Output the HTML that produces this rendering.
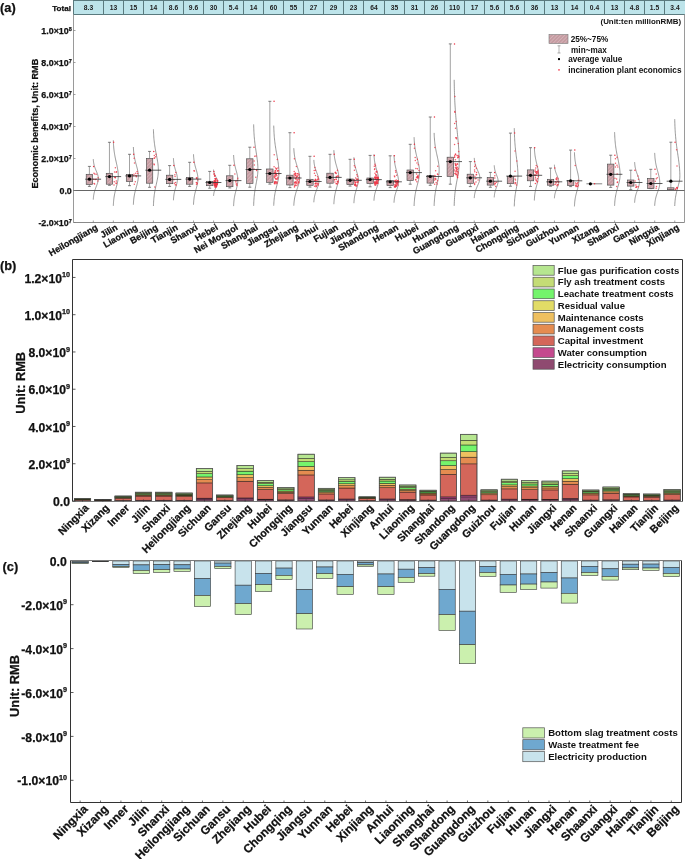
<!DOCTYPE html>
<html><head><meta charset="utf-8"><title>figure</title>
<style>html,body{margin:0;padding:0;background:#fff;overflow:hidden}svg{display:block;will-change:transform}svg text{stroke:#111;stroke-width:0.25px}</style>
</head><body>
<svg width="685" height="859" viewBox="0 0 685 859">
<rect width="685" height="859" fill="#fff"/>
<defs>
<pattern id="hatch" patternUnits="userSpaceOnUse" width="2.6" height="2.6" patternTransform="rotate(45)"><rect width="2.6" height="2.6" fill="#c59ba1"/><line x1="0" y1="0" x2="0" y2="2.6" stroke="#e2c8cc" stroke-width="0.9"/></pattern>
</defs>
<rect x="73.5" y="0.5" width="612.5" height="14.0" fill="#bde4ea" stroke="#5a7a7e" stroke-width="1"/>
<line x1="103.50" y1="0" x2="103.50" y2="14.5" stroke="#5a7a7e" stroke-width="1"/>
<line x1="123.50" y1="0" x2="123.50" y2="14.5" stroke="#5a7a7e" stroke-width="1"/>
<line x1="143.50" y1="0" x2="143.50" y2="14.5" stroke="#5a7a7e" stroke-width="1"/>
<line x1="163.50" y1="0" x2="163.50" y2="14.5" stroke="#5a7a7e" stroke-width="1"/>
<line x1="183.50" y1="0" x2="183.50" y2="14.5" stroke="#5a7a7e" stroke-width="1"/>
<line x1="203.50" y1="0" x2="203.50" y2="14.5" stroke="#5a7a7e" stroke-width="1"/>
<line x1="223.50" y1="0" x2="223.50" y2="14.5" stroke="#5a7a7e" stroke-width="1"/>
<line x1="243.50" y1="0" x2="243.50" y2="14.5" stroke="#5a7a7e" stroke-width="1"/>
<line x1="263.50" y1="0" x2="263.50" y2="14.5" stroke="#5a7a7e" stroke-width="1"/>
<line x1="283.50" y1="0" x2="283.50" y2="14.5" stroke="#5a7a7e" stroke-width="1"/>
<line x1="303.50" y1="0" x2="303.50" y2="14.5" stroke="#5a7a7e" stroke-width="1"/>
<line x1="323.50" y1="0" x2="323.50" y2="14.5" stroke="#5a7a7e" stroke-width="1"/>
<line x1="343.50" y1="0" x2="343.50" y2="14.5" stroke="#5a7a7e" stroke-width="1"/>
<line x1="363.50" y1="0" x2="363.50" y2="14.5" stroke="#5a7a7e" stroke-width="1"/>
<line x1="384.50" y1="0" x2="384.50" y2="14.5" stroke="#5a7a7e" stroke-width="1"/>
<line x1="404.50" y1="0" x2="404.50" y2="14.5" stroke="#5a7a7e" stroke-width="1"/>
<line x1="424.50" y1="0" x2="424.50" y2="14.5" stroke="#5a7a7e" stroke-width="1"/>
<line x1="444.50" y1="0" x2="444.50" y2="14.5" stroke="#5a7a7e" stroke-width="1"/>
<line x1="464.50" y1="0" x2="464.50" y2="14.5" stroke="#5a7a7e" stroke-width="1"/>
<line x1="484.50" y1="0" x2="484.50" y2="14.5" stroke="#5a7a7e" stroke-width="1"/>
<line x1="504.50" y1="0" x2="504.50" y2="14.5" stroke="#5a7a7e" stroke-width="1"/>
<line x1="524.50" y1="0" x2="524.50" y2="14.5" stroke="#5a7a7e" stroke-width="1"/>
<line x1="544.50" y1="0" x2="544.50" y2="14.5" stroke="#5a7a7e" stroke-width="1"/>
<line x1="564.50" y1="0" x2="564.50" y2="14.5" stroke="#5a7a7e" stroke-width="1"/>
<line x1="584.50" y1="0" x2="584.50" y2="14.5" stroke="#5a7a7e" stroke-width="1"/>
<line x1="604.50" y1="0" x2="604.50" y2="14.5" stroke="#5a7a7e" stroke-width="1"/>
<line x1="624.50" y1="0" x2="624.50" y2="14.5" stroke="#5a7a7e" stroke-width="1"/>
<line x1="644.50" y1="0" x2="644.50" y2="14.5" stroke="#5a7a7e" stroke-width="1"/>
<line x1="664.50" y1="0" x2="664.50" y2="14.5" stroke="#5a7a7e" stroke-width="1"/>
<text x="88.50" y="9.8" font-size="6.7" font-weight="bold" text-anchor="middle" fill="#222" style="stroke:none" font-family="Liberation Sans, sans-serif">8.3</text>
<text x="113.50" y="9.8" font-size="6.7" font-weight="bold" text-anchor="middle" fill="#222" style="stroke:none" font-family="Liberation Sans, sans-serif">13</text>
<text x="133.50" y="9.8" font-size="6.7" font-weight="bold" text-anchor="middle" fill="#222" style="stroke:none" font-family="Liberation Sans, sans-serif">15</text>
<text x="153.50" y="9.8" font-size="6.7" font-weight="bold" text-anchor="middle" fill="#222" style="stroke:none" font-family="Liberation Sans, sans-serif">14</text>
<text x="173.50" y="9.8" font-size="6.7" font-weight="bold" text-anchor="middle" fill="#222" style="stroke:none" font-family="Liberation Sans, sans-serif">8.6</text>
<text x="193.50" y="9.8" font-size="6.7" font-weight="bold" text-anchor="middle" fill="#222" style="stroke:none" font-family="Liberation Sans, sans-serif">9.6</text>
<text x="213.50" y="9.8" font-size="6.7" font-weight="bold" text-anchor="middle" fill="#222" style="stroke:none" font-family="Liberation Sans, sans-serif">30</text>
<text x="233.50" y="9.8" font-size="6.7" font-weight="bold" text-anchor="middle" fill="#222" style="stroke:none" font-family="Liberation Sans, sans-serif">5.4</text>
<text x="253.50" y="9.8" font-size="6.7" font-weight="bold" text-anchor="middle" fill="#222" style="stroke:none" font-family="Liberation Sans, sans-serif">14</text>
<text x="273.50" y="9.8" font-size="6.7" font-weight="bold" text-anchor="middle" fill="#222" style="stroke:none" font-family="Liberation Sans, sans-serif">60</text>
<text x="293.50" y="9.8" font-size="6.7" font-weight="bold" text-anchor="middle" fill="#222" style="stroke:none" font-family="Liberation Sans, sans-serif">55</text>
<text x="313.50" y="9.8" font-size="6.7" font-weight="bold" text-anchor="middle" fill="#222" style="stroke:none" font-family="Liberation Sans, sans-serif">27</text>
<text x="333.50" y="9.8" font-size="6.7" font-weight="bold" text-anchor="middle" fill="#222" style="stroke:none" font-family="Liberation Sans, sans-serif">29</text>
<text x="353.50" y="9.8" font-size="6.7" font-weight="bold" text-anchor="middle" fill="#222" style="stroke:none" font-family="Liberation Sans, sans-serif">23</text>
<text x="374.00" y="9.8" font-size="6.7" font-weight="bold" text-anchor="middle" fill="#222" style="stroke:none" font-family="Liberation Sans, sans-serif">64</text>
<text x="394.50" y="9.8" font-size="6.7" font-weight="bold" text-anchor="middle" fill="#222" style="stroke:none" font-family="Liberation Sans, sans-serif">35</text>
<text x="414.50" y="9.8" font-size="6.7" font-weight="bold" text-anchor="middle" fill="#222" style="stroke:none" font-family="Liberation Sans, sans-serif">31</text>
<text x="434.50" y="9.8" font-size="6.7" font-weight="bold" text-anchor="middle" fill="#222" style="stroke:none" font-family="Liberation Sans, sans-serif">26</text>
<text x="454.50" y="9.8" font-size="6.7" font-weight="bold" text-anchor="middle" fill="#222" style="stroke:none" font-family="Liberation Sans, sans-serif">110</text>
<text x="474.50" y="9.8" font-size="6.7" font-weight="bold" text-anchor="middle" fill="#222" style="stroke:none" font-family="Liberation Sans, sans-serif">17</text>
<text x="494.50" y="9.8" font-size="6.7" font-weight="bold" text-anchor="middle" fill="#222" style="stroke:none" font-family="Liberation Sans, sans-serif">5.6</text>
<text x="514.50" y="9.8" font-size="6.7" font-weight="bold" text-anchor="middle" fill="#222" style="stroke:none" font-family="Liberation Sans, sans-serif">5.6</text>
<text x="534.50" y="9.8" font-size="6.7" font-weight="bold" text-anchor="middle" fill="#222" style="stroke:none" font-family="Liberation Sans, sans-serif">36</text>
<text x="554.50" y="9.8" font-size="6.7" font-weight="bold" text-anchor="middle" fill="#222" style="stroke:none" font-family="Liberation Sans, sans-serif">13</text>
<text x="574.50" y="9.8" font-size="6.7" font-weight="bold" text-anchor="middle" fill="#222" style="stroke:none" font-family="Liberation Sans, sans-serif">14</text>
<text x="594.50" y="9.8" font-size="6.7" font-weight="bold" text-anchor="middle" fill="#222" style="stroke:none" font-family="Liberation Sans, sans-serif">0.4</text>
<text x="614.50" y="9.8" font-size="6.7" font-weight="bold" text-anchor="middle" fill="#222" style="stroke:none" font-family="Liberation Sans, sans-serif">13</text>
<text x="634.50" y="9.8" font-size="6.7" font-weight="bold" text-anchor="middle" fill="#222" style="stroke:none" font-family="Liberation Sans, sans-serif">4.8</text>
<text x="654.50" y="9.8" font-size="6.7" font-weight="bold" text-anchor="middle" fill="#222" style="stroke:none" font-family="Liberation Sans, sans-serif">1.5</text>
<text x="675.00" y="9.8" font-size="6.7" font-weight="bold" text-anchor="middle" fill="#222" style="stroke:none" font-family="Liberation Sans, sans-serif">3.4</text>
<text x="71" y="10.6" font-size="8.1" font-weight="bold" text-anchor="end" fill="#111" font-family="Liberation Sans, sans-serif">Total</text>
<line x1="73.5" y1="14.5" x2="73.5" y2="222.5" stroke="#9a9a9a" stroke-width="1"/>
<line x1="684.5" y1="14.5" x2="684.5" y2="222.5" stroke="#9a9a9a" stroke-width="1"/>
<line x1="73.5" y1="222.5" x2="684.5" y2="222.5" stroke="#8a8a8a" stroke-width="1"/>
<line x1="73.5" y1="190.5" x2="684.5" y2="190.5" stroke="#555" stroke-width="0.9"/>
<line x1="73.5" y1="30.50" x2="75.5" y2="30.50" stroke="#777" stroke-width="0.7"/>
<text x="71.8" y="34.20" font-size="8.9" font-weight="bold" text-anchor="end" fill="#111" font-family="Liberation Sans, sans-serif">1.0×10<tspan font-size="5.5" dy="-3.4">8</tspan></text>
<line x1="73.5" y1="62.50" x2="75.5" y2="62.50" stroke="#777" stroke-width="0.7"/>
<text x="71.8" y="66.20" font-size="8.9" font-weight="bold" text-anchor="end" fill="#111" font-family="Liberation Sans, sans-serif">8.0×10<tspan font-size="5.5" dy="-3.4">7</tspan></text>
<line x1="73.5" y1="94.50" x2="75.5" y2="94.50" stroke="#777" stroke-width="0.7"/>
<text x="71.8" y="98.20" font-size="8.9" font-weight="bold" text-anchor="end" fill="#111" font-family="Liberation Sans, sans-serif">6.0×10<tspan font-size="5.5" dy="-3.4">7</tspan></text>
<line x1="73.5" y1="126.50" x2="75.5" y2="126.50" stroke="#777" stroke-width="0.7"/>
<text x="71.8" y="130.20" font-size="8.9" font-weight="bold" text-anchor="end" fill="#111" font-family="Liberation Sans, sans-serif">4.0×10<tspan font-size="5.5" dy="-3.4">7</tspan></text>
<line x1="73.5" y1="158.50" x2="75.5" y2="158.50" stroke="#777" stroke-width="0.7"/>
<text x="71.8" y="162.20" font-size="8.9" font-weight="bold" text-anchor="end" fill="#111" font-family="Liberation Sans, sans-serif">2.0×10<tspan font-size="5.5" dy="-3.4">7</tspan></text>
<line x1="73.5" y1="190.50" x2="75.5" y2="190.50" stroke="#777" stroke-width="0.7"/>
<text x="71.8" y="194.20" font-size="8.9" font-weight="bold" text-anchor="end" fill="#111" font-family="Liberation Sans, sans-serif">0.0</text>
<line x1="73.5" y1="222.50" x2="75.5" y2="222.50" stroke="#777" stroke-width="0.7"/>
<text x="71.8" y="226.20" font-size="8.9" font-weight="bold" text-anchor="end" fill="#111" font-family="Liberation Sans, sans-serif">-2.0×10<tspan font-size="5.5" dy="-3.4">7</tspan></text>
<text transform="translate(38.2,123.7) rotate(-90)" font-size="9.1" font-weight="bold" text-anchor="middle" fill="#111" font-family="Liberation Sans, sans-serif">Economic benefits, Unit: RMB</text>
<line x1="93.30" y1="222.5" x2="93.30" y2="220.5" stroke="#777" stroke-width="0.7"/>
<text transform="translate(98.30,229.10) rotate(-30)" font-size="9.1" font-weight="bold" text-anchor="end" fill="#111" font-family="Liberation Sans, sans-serif">Heilongjiang</text>
<line x1="113.35" y1="222.5" x2="113.35" y2="220.5" stroke="#777" stroke-width="0.7"/>
<text transform="translate(118.35,229.10) rotate(-30)" font-size="9.1" font-weight="bold" text-anchor="end" fill="#111" font-family="Liberation Sans, sans-serif">Jilin</text>
<line x1="133.40" y1="222.5" x2="133.40" y2="220.5" stroke="#777" stroke-width="0.7"/>
<text transform="translate(138.40,229.10) rotate(-30)" font-size="9.1" font-weight="bold" text-anchor="end" fill="#111" font-family="Liberation Sans, sans-serif">Liaoning</text>
<line x1="153.45" y1="222.5" x2="153.45" y2="220.5" stroke="#777" stroke-width="0.7"/>
<text transform="translate(158.45,229.10) rotate(-30)" font-size="9.1" font-weight="bold" text-anchor="end" fill="#111" font-family="Liberation Sans, sans-serif">Beijing</text>
<line x1="173.50" y1="222.5" x2="173.50" y2="220.5" stroke="#777" stroke-width="0.7"/>
<text transform="translate(178.50,229.10) rotate(-30)" font-size="9.1" font-weight="bold" text-anchor="end" fill="#111" font-family="Liberation Sans, sans-serif">Tianjin</text>
<line x1="193.55" y1="222.5" x2="193.55" y2="220.5" stroke="#777" stroke-width="0.7"/>
<text transform="translate(198.55,229.10) rotate(-30)" font-size="9.1" font-weight="bold" text-anchor="end" fill="#111" font-family="Liberation Sans, sans-serif">Shanxi</text>
<line x1="213.60" y1="222.5" x2="213.60" y2="220.5" stroke="#777" stroke-width="0.7"/>
<text transform="translate(218.60,229.10) rotate(-30)" font-size="9.1" font-weight="bold" text-anchor="end" fill="#111" font-family="Liberation Sans, sans-serif">Hebei</text>
<line x1="233.65" y1="222.5" x2="233.65" y2="220.5" stroke="#777" stroke-width="0.7"/>
<text transform="translate(238.65,229.10) rotate(-30)" font-size="9.1" font-weight="bold" text-anchor="end" fill="#111" font-family="Liberation Sans, sans-serif">Nei Mongol</text>
<line x1="253.70" y1="222.5" x2="253.70" y2="220.5" stroke="#777" stroke-width="0.7"/>
<text transform="translate(258.70,229.10) rotate(-30)" font-size="9.1" font-weight="bold" text-anchor="end" fill="#111" font-family="Liberation Sans, sans-serif">Shanghai</text>
<line x1="273.75" y1="222.5" x2="273.75" y2="220.5" stroke="#777" stroke-width="0.7"/>
<text transform="translate(278.75,229.10) rotate(-30)" font-size="9.1" font-weight="bold" text-anchor="end" fill="#111" font-family="Liberation Sans, sans-serif">Jiangsu</text>
<line x1="293.80" y1="222.5" x2="293.80" y2="220.5" stroke="#777" stroke-width="0.7"/>
<text transform="translate(298.80,229.10) rotate(-30)" font-size="9.1" font-weight="bold" text-anchor="end" fill="#111" font-family="Liberation Sans, sans-serif">Zhejiang</text>
<line x1="313.85" y1="222.5" x2="313.85" y2="220.5" stroke="#777" stroke-width="0.7"/>
<text transform="translate(318.85,229.10) rotate(-30)" font-size="9.1" font-weight="bold" text-anchor="end" fill="#111" font-family="Liberation Sans, sans-serif">Anhui</text>
<line x1="333.90" y1="222.5" x2="333.90" y2="220.5" stroke="#777" stroke-width="0.7"/>
<text transform="translate(338.90,229.10) rotate(-30)" font-size="9.1" font-weight="bold" text-anchor="end" fill="#111" font-family="Liberation Sans, sans-serif">Fujian</text>
<line x1="353.95" y1="222.5" x2="353.95" y2="220.5" stroke="#777" stroke-width="0.7"/>
<text transform="translate(358.95,229.10) rotate(-30)" font-size="9.1" font-weight="bold" text-anchor="end" fill="#111" font-family="Liberation Sans, sans-serif">Jiangxi</text>
<line x1="374.00" y1="222.5" x2="374.00" y2="220.5" stroke="#777" stroke-width="0.7"/>
<text transform="translate(379.00,229.10) rotate(-30)" font-size="9.1" font-weight="bold" text-anchor="end" fill="#111" font-family="Liberation Sans, sans-serif">Shandong</text>
<line x1="394.05" y1="222.5" x2="394.05" y2="220.5" stroke="#777" stroke-width="0.7"/>
<text transform="translate(399.05,229.10) rotate(-30)" font-size="9.1" font-weight="bold" text-anchor="end" fill="#111" font-family="Liberation Sans, sans-serif">Henan</text>
<line x1="414.10" y1="222.5" x2="414.10" y2="220.5" stroke="#777" stroke-width="0.7"/>
<text transform="translate(419.10,229.10) rotate(-30)" font-size="9.1" font-weight="bold" text-anchor="end" fill="#111" font-family="Liberation Sans, sans-serif">Hubei</text>
<line x1="434.15" y1="222.5" x2="434.15" y2="220.5" stroke="#777" stroke-width="0.7"/>
<text transform="translate(439.15,229.10) rotate(-30)" font-size="9.1" font-weight="bold" text-anchor="end" fill="#111" font-family="Liberation Sans, sans-serif">Hunan</text>
<line x1="454.20" y1="222.5" x2="454.20" y2="220.5" stroke="#777" stroke-width="0.7"/>
<text transform="translate(459.20,229.10) rotate(-30)" font-size="9.1" font-weight="bold" text-anchor="end" fill="#111" font-family="Liberation Sans, sans-serif">Guangdong</text>
<line x1="474.25" y1="222.5" x2="474.25" y2="220.5" stroke="#777" stroke-width="0.7"/>
<text transform="translate(479.25,229.10) rotate(-30)" font-size="9.1" font-weight="bold" text-anchor="end" fill="#111" font-family="Liberation Sans, sans-serif">Guangxi</text>
<line x1="494.30" y1="222.5" x2="494.30" y2="220.5" stroke="#777" stroke-width="0.7"/>
<text transform="translate(499.30,229.10) rotate(-30)" font-size="9.1" font-weight="bold" text-anchor="end" fill="#111" font-family="Liberation Sans, sans-serif">Hainan</text>
<line x1="514.35" y1="222.5" x2="514.35" y2="220.5" stroke="#777" stroke-width="0.7"/>
<text transform="translate(519.35,229.10) rotate(-30)" font-size="9.1" font-weight="bold" text-anchor="end" fill="#111" font-family="Liberation Sans, sans-serif">Chongqing</text>
<line x1="534.40" y1="222.5" x2="534.40" y2="220.5" stroke="#777" stroke-width="0.7"/>
<text transform="translate(539.40,229.10) rotate(-30)" font-size="9.1" font-weight="bold" text-anchor="end" fill="#111" font-family="Liberation Sans, sans-serif">Sichuan</text>
<line x1="554.45" y1="222.5" x2="554.45" y2="220.5" stroke="#777" stroke-width="0.7"/>
<text transform="translate(559.45,229.10) rotate(-30)" font-size="9.1" font-weight="bold" text-anchor="end" fill="#111" font-family="Liberation Sans, sans-serif">Guizhou</text>
<line x1="574.50" y1="222.5" x2="574.50" y2="220.5" stroke="#777" stroke-width="0.7"/>
<text transform="translate(579.50,229.10) rotate(-30)" font-size="9.1" font-weight="bold" text-anchor="end" fill="#111" font-family="Liberation Sans, sans-serif">Yunnan</text>
<line x1="594.55" y1="222.5" x2="594.55" y2="220.5" stroke="#777" stroke-width="0.7"/>
<text transform="translate(599.55,229.10) rotate(-30)" font-size="9.1" font-weight="bold" text-anchor="end" fill="#111" font-family="Liberation Sans, sans-serif">Xizang</text>
<line x1="614.60" y1="222.5" x2="614.60" y2="220.5" stroke="#777" stroke-width="0.7"/>
<text transform="translate(619.60,229.10) rotate(-30)" font-size="9.1" font-weight="bold" text-anchor="end" fill="#111" font-family="Liberation Sans, sans-serif">Shaanxi</text>
<line x1="634.65" y1="222.5" x2="634.65" y2="220.5" stroke="#777" stroke-width="0.7"/>
<text transform="translate(639.65,229.10) rotate(-30)" font-size="9.1" font-weight="bold" text-anchor="end" fill="#111" font-family="Liberation Sans, sans-serif">Gansu</text>
<line x1="654.70" y1="222.5" x2="654.70" y2="220.5" stroke="#777" stroke-width="0.7"/>
<text transform="translate(659.70,229.10) rotate(-30)" font-size="9.1" font-weight="bold" text-anchor="end" fill="#111" font-family="Liberation Sans, sans-serif">Ningxia</text>
<line x1="674.75" y1="222.5" x2="674.75" y2="220.5" stroke="#777" stroke-width="0.7"/>
<text transform="translate(679.75,229.10) rotate(-30)" font-size="9.1" font-weight="bold" text-anchor="end" fill="#111" font-family="Liberation Sans, sans-serif">Xinjiang</text>
<path d="M93.28,159.10 L93.32,159.78 L93.38,160.45 L93.45,161.12 L93.53,161.80 L93.62,162.47 L93.73,163.15 L93.86,163.82 L94.00,164.50 L94.16,165.17 L94.35,165.85 L94.55,166.53 L94.77,167.20 L95.00,167.88 L95.26,168.55 L95.52,169.22 L95.80,169.90 L96.08,170.57 L96.37,171.25 L96.65,171.92 L96.93,172.60 L97.20,173.28 L97.44,173.95 L97.67,174.62 L97.87,175.30 L98.03,175.97 L98.16,176.65 L98.25,177.32 L98.29,178.00 L98.30,178.67 L98.26,179.35 L98.20,180.03 L98.10,180.70 L97.97,181.38 L97.80,182.05 L97.62,182.72 L97.41,183.40 L97.18,184.07 L96.94,184.75 L96.69,185.42 L96.43,186.10 L96.17,186.78 L95.91,187.45 L95.65,188.12 L95.41,188.80 L95.17,189.47 L94.94,190.15 L94.73,190.82 L94.53,191.50 L94.35,192.18 L94.18,192.85 L94.03,193.52 L93.90,194.20 L93.78,194.88 L93.67,195.55 L93.58,196.22 L93.50,196.90 L93.43,197.57 L93.37,198.25 L93.32,198.93 L93.28,199.60" fill="none" stroke="#555" stroke-width="0.6"/>
<line x1="89.40" y1="166.4" x2="89.40" y2="174.3" stroke="#999" stroke-width="0.9"/>
<line x1="89.40" y1="184.5" x2="89.40" y2="186.4" stroke="#999" stroke-width="0.9"/>
<line x1="87.90" y1="166.4" x2="90.90" y2="166.4" stroke="#555" stroke-width="0.75"/>
<line x1="87.90" y1="186.4" x2="90.90" y2="186.4" stroke="#555" stroke-width="0.75"/>
<rect x="86.20" y="174.3" width="6.40" height="10.20" fill="url(#hatch)" stroke="#4a4a4a" stroke-width="0.65"/>
<circle cx="96.17" cy="174.33" r="0.75" fill="#ee3344" fill-opacity="0.8"/>
<circle cx="95.28" cy="179.62" r="0.75" fill="#ee3344" fill-opacity="0.8"/>
<circle cx="93.77" cy="179.23" r="0.75" fill="#ee3344" fill-opacity="0.8"/>
<circle cx="93.92" cy="173.22" r="0.75" fill="#ee3344" fill-opacity="0.8"/>
<circle cx="94.06" cy="183.62" r="0.75" fill="#ee3344" fill-opacity="0.8"/>
<circle cx="97.79" cy="180.88" r="0.75" fill="#ee3344" fill-opacity="0.8"/>
<circle cx="98.11" cy="177.71" r="0.75" fill="#ee3344" fill-opacity="0.8"/>
<circle cx="94.64" cy="184.06" r="0.75" fill="#ee3344" fill-opacity="0.8"/>
<circle cx="94.77" cy="173.88" r="0.75" fill="#ee3344" fill-opacity="0.8"/>
<circle cx="96.13" cy="179.18" r="0.75" fill="#ee3344" fill-opacity="0.8"/>
<circle cx="93.60" cy="166.40" r="0.75" fill="#ee3344"/>
<line x1="85.20" y1="179.2" x2="101.10" y2="179.2" stroke="#333" stroke-width="0.8"/>
<circle cx="89.40" cy="179.2" r="1.6" fill="#000"/>
<path d="M113.32,140.30 L113.36,141.39 L113.41,142.48 L113.46,143.58 L113.53,144.67 L113.60,145.76 L113.69,146.85 L113.78,147.94 L113.89,149.03 L114.01,150.12 L114.15,151.22 L114.30,152.31 L114.47,153.40 L114.65,154.49 L114.84,155.58 L115.04,156.68 L115.26,157.77 L115.49,158.86 L115.73,159.95 L115.97,161.04 L116.21,162.13 L116.46,163.23 L116.70,164.32 L116.94,165.41 L117.16,166.50 L117.38,167.59 L117.57,168.68 L117.75,169.78 L117.91,170.87 L118.03,171.96 L118.13,173.05 L118.20,174.14 L118.24,175.23 L118.25,176.33 L118.21,177.42 L118.13,178.51 L118.00,179.60 L117.84,180.69 L117.64,181.78 L117.41,182.88 L117.16,183.97 L116.88,185.06 L116.60,186.15 L116.30,187.24 L116.01,188.33 L115.72,189.43 L115.44,190.52 L115.17,191.61 L114.91,192.70 L114.68,193.79 L114.46,194.88 L114.27,195.98 L114.09,197.07 L113.94,198.16 L113.80,199.25 L113.68,200.34 L113.58,201.43 L113.50,202.53 L113.43,203.62 L113.37,204.71 L113.32,205.80" fill="none" stroke="#555" stroke-width="0.6"/>
<line x1="109.45" y1="142.3" x2="109.45" y2="173.3" stroke="#999" stroke-width="0.9"/>
<line x1="109.45" y1="184.2" x2="109.45" y2="185.3" stroke="#999" stroke-width="0.9"/>
<line x1="107.95" y1="142.3" x2="110.95" y2="142.3" stroke="#555" stroke-width="0.75"/>
<line x1="107.95" y1="185.3" x2="110.95" y2="185.3" stroke="#555" stroke-width="0.75"/>
<rect x="106.25" y="173.3" width="6.40" height="10.90" fill="url(#hatch)" stroke="#4a4a4a" stroke-width="0.65"/>
<circle cx="114.54" cy="171.97" r="0.75" fill="#ee3344" fill-opacity="0.8"/>
<circle cx="115.07" cy="177.18" r="0.75" fill="#ee3344" fill-opacity="0.8"/>
<circle cx="115.00" cy="177.55" r="0.75" fill="#ee3344" fill-opacity="0.8"/>
<circle cx="116.16" cy="172.36" r="0.75" fill="#ee3344" fill-opacity="0.8"/>
<circle cx="116.28" cy="183.53" r="0.75" fill="#ee3344" fill-opacity="0.8"/>
<circle cx="114.03" cy="185.02" r="0.75" fill="#ee3344" fill-opacity="0.8"/>
<circle cx="114.25" cy="181.86" r="0.75" fill="#ee3344" fill-opacity="0.8"/>
<circle cx="116.53" cy="171.68" r="0.75" fill="#ee3344" fill-opacity="0.8"/>
<circle cx="115.37" cy="167.86" r="0.75" fill="#ee3344" fill-opacity="0.8"/>
<circle cx="116.13" cy="182.92" r="0.75" fill="#ee3344" fill-opacity="0.8"/>
<circle cx="116.30" cy="181.07" r="0.75" fill="#ee3344" fill-opacity="0.8"/>
<circle cx="115.38" cy="177.64" r="0.75" fill="#ee3344" fill-opacity="0.8"/>
<circle cx="113.65" cy="142.30" r="0.75" fill="#ee3344"/>
<line x1="105.25" y1="176.6" x2="121.15" y2="176.6" stroke="#333" stroke-width="0.8"/>
<circle cx="109.45" cy="176.6" r="1.6" fill="#000"/>
<path d="M133.37,147.00 L133.42,147.96 L133.47,148.92 L133.53,149.88 L133.60,150.85 L133.68,151.81 L133.78,152.77 L133.89,153.73 L134.02,154.69 L134.16,155.66 L134.32,156.62 L134.49,157.58 L134.68,158.54 L134.89,159.50 L135.11,160.46 L135.35,161.42 L135.59,162.39 L135.85,163.35 L136.11,164.31 L136.38,165.27 L136.64,166.23 L136.90,167.19 L137.15,168.16 L137.38,169.12 L137.60,170.08 L137.79,171.04 L137.96,172.00 L138.09,172.97 L138.20,173.93 L138.27,174.89 L138.30,175.85 L138.29,176.81 L138.25,177.77 L138.17,178.73 L138.05,179.70 L137.90,180.66 L137.71,181.62 L137.50,182.58 L137.27,183.54 L137.03,184.50 L136.77,185.47 L136.50,186.43 L136.23,187.39 L135.96,188.35 L135.69,189.31 L135.44,190.27 L135.19,191.24 L134.96,192.20 L134.74,193.16 L134.54,194.12 L134.36,195.08 L134.19,196.04 L134.04,197.01 L133.91,197.97 L133.79,198.93 L133.69,199.89 L133.61,200.85 L133.53,201.81 L133.47,202.78 L133.42,203.74 L133.37,204.70" fill="none" stroke="#555" stroke-width="0.6"/>
<line x1="129.50" y1="154.3" x2="129.50" y2="174.5" stroke="#999" stroke-width="0.9"/>
<line x1="129.50" y1="181.6" x2="129.50" y2="185.7" stroke="#999" stroke-width="0.9"/>
<line x1="128.00" y1="154.3" x2="131.00" y2="154.3" stroke="#555" stroke-width="0.75"/>
<line x1="128.00" y1="185.7" x2="131.00" y2="185.7" stroke="#555" stroke-width="0.75"/>
<rect x="126.30" y="174.5" width="6.40" height="7.10" fill="url(#hatch)" stroke="#4a4a4a" stroke-width="0.65"/>
<circle cx="135.73" cy="173.31" r="0.75" fill="#ee3344" fill-opacity="0.8"/>
<circle cx="133.96" cy="174.25" r="0.75" fill="#ee3344" fill-opacity="0.8"/>
<circle cx="134.12" cy="158.36" r="0.75" fill="#ee3344" fill-opacity="0.8"/>
<circle cx="137.10" cy="171.55" r="0.75" fill="#ee3344" fill-opacity="0.8"/>
<circle cx="134.47" cy="163.04" r="0.75" fill="#ee3344" fill-opacity="0.8"/>
<circle cx="134.29" cy="184.37" r="0.75" fill="#ee3344" fill-opacity="0.8"/>
<circle cx="135.90" cy="175.42" r="0.75" fill="#ee3344" fill-opacity="0.8"/>
<circle cx="133.72" cy="175.71" r="0.75" fill="#ee3344" fill-opacity="0.8"/>
<circle cx="136.27" cy="176.78" r="0.75" fill="#ee3344" fill-opacity="0.8"/>
<circle cx="136.51" cy="175.98" r="0.75" fill="#ee3344" fill-opacity="0.8"/>
<circle cx="137.67" cy="173.62" r="0.75" fill="#ee3344" fill-opacity="0.8"/>
<circle cx="135.25" cy="181.76" r="0.75" fill="#ee3344" fill-opacity="0.8"/>
<circle cx="133.70" cy="154.30" r="0.75" fill="#ee3344"/>
<line x1="125.30" y1="175.9" x2="141.20" y2="175.9" stroke="#333" stroke-width="0.8"/>
<circle cx="129.50" cy="175.9" r="1.6" fill="#000"/>
<path d="M153.42,129.30 L153.46,130.58 L153.51,131.86 L153.57,133.14 L153.63,134.41 L153.71,135.69 L153.80,136.97 L153.89,138.25 L154.01,139.53 L154.13,140.81 L154.28,142.08 L154.43,143.36 L154.60,144.64 L154.79,145.92 L154.99,147.20 L155.20,148.48 L155.42,149.75 L155.66,151.03 L155.90,152.31 L156.15,153.59 L156.40,154.87 L156.65,156.15 L156.89,157.42 L157.13,158.70 L157.35,159.98 L157.56,161.26 L157.76,162.54 L157.93,163.81 L158.07,165.09 L158.19,166.37 L158.27,167.65 L158.33,168.93 L158.35,170.21 L158.33,171.49 L158.27,172.76 L158.17,174.04 L158.03,175.32 L157.85,176.60 L157.64,177.88 L157.41,179.16 L157.15,180.43 L156.88,181.71 L156.59,182.99 L156.30,184.27 L156.02,185.55 L155.73,186.82 L155.46,188.10 L155.20,189.38 L154.96,190.66 L154.73,191.94 L154.52,193.22 L154.33,194.50 L154.17,195.77 L154.02,197.05 L153.89,198.33 L153.77,199.61 L153.68,200.89 L153.60,202.17 L153.53,203.44 L153.47,204.72 L153.42,206.00" fill="none" stroke="#555" stroke-width="0.6"/>
<line x1="149.55" y1="151.4" x2="149.55" y2="158.4" stroke="#999" stroke-width="0.9"/>
<line x1="149.55" y1="183.2" x2="149.55" y2="187.3" stroke="#999" stroke-width="0.9"/>
<line x1="148.05" y1="151.4" x2="151.05" y2="151.4" stroke="#555" stroke-width="0.75"/>
<line x1="148.05" y1="187.3" x2="151.05" y2="187.3" stroke="#555" stroke-width="0.75"/>
<rect x="146.35" y="158.4" width="6.40" height="24.80" fill="url(#hatch)" stroke="#4a4a4a" stroke-width="0.65"/>
<circle cx="155.67" cy="156.68" r="0.75" fill="#ee3344" fill-opacity="0.8"/>
<circle cx="154.34" cy="155.55" r="0.75" fill="#ee3344" fill-opacity="0.8"/>
<circle cx="153.97" cy="164.07" r="0.75" fill="#ee3344" fill-opacity="0.8"/>
<circle cx="154.08" cy="158.17" r="0.75" fill="#ee3344" fill-opacity="0.8"/>
<circle cx="156.00" cy="154.24" r="0.75" fill="#ee3344" fill-opacity="0.8"/>
<circle cx="154.58" cy="158.08" r="0.75" fill="#ee3344" fill-opacity="0.8"/>
<circle cx="154.27" cy="164.82" r="0.75" fill="#ee3344" fill-opacity="0.8"/>
<circle cx="154.72" cy="187.05" r="0.75" fill="#ee3344" fill-opacity="0.8"/>
<circle cx="153.75" cy="151.40" r="0.75" fill="#ee3344"/>
<line x1="145.35" y1="170.2" x2="161.25" y2="170.2" stroke="#333" stroke-width="0.8"/>
<circle cx="149.55" cy="170.2" r="1.6" fill="#000"/>
<path d="M173.44,158.20 L173.47,158.90 L173.52,159.60 L173.57,160.30 L173.63,161.01 L173.69,161.71 L173.77,162.41 L173.87,163.11 L173.97,163.81 L174.09,164.51 L174.22,165.22 L174.37,165.92 L174.53,166.62 L174.70,167.32 L174.89,168.02 L175.08,168.72 L175.29,169.43 L175.50,170.13 L175.72,170.83 L175.93,171.53 L176.15,172.23 L176.36,172.94 L176.55,173.64 L176.74,174.34 L176.91,175.04 L177.06,175.74 L177.18,176.44 L177.28,177.15 L177.35,177.85 L177.39,178.55 L177.40,179.25 L177.38,179.95 L177.33,180.65 L177.25,181.35 L177.14,182.06 L177.01,182.76 L176.85,183.46 L176.68,184.16 L176.49,184.86 L176.29,185.56 L176.09,186.27 L175.87,186.97 L175.66,187.67 L175.45,188.37 L175.24,189.07 L175.04,189.78 L174.85,190.48 L174.67,191.18 L174.50,191.88 L174.35,192.58 L174.20,193.28 L174.07,193.99 L173.96,194.69 L173.86,195.39 L173.77,196.09 L173.69,196.79 L173.62,197.49 L173.56,198.19 L173.52,198.90 L173.47,199.60 L173.44,200.30" fill="none" stroke="#555" stroke-width="0.6"/>
<line x1="169.60" y1="165.6" x2="169.60" y2="175.2" stroke="#999" stroke-width="0.9"/>
<line x1="169.60" y1="183.7" x2="169.60" y2="186.4" stroke="#999" stroke-width="0.9"/>
<line x1="168.10" y1="165.6" x2="171.10" y2="165.6" stroke="#555" stroke-width="0.75"/>
<line x1="168.10" y1="186.4" x2="171.10" y2="186.4" stroke="#555" stroke-width="0.75"/>
<rect x="166.40" y="175.2" width="6.40" height="8.50" fill="url(#hatch)" stroke="#4a4a4a" stroke-width="0.65"/>
<circle cx="174.85" cy="174.70" r="0.75" fill="#ee3344" fill-opacity="0.8"/>
<circle cx="174.31" cy="183.20" r="0.75" fill="#ee3344" fill-opacity="0.8"/>
<circle cx="175.28" cy="184.63" r="0.75" fill="#ee3344" fill-opacity="0.8"/>
<circle cx="173.90" cy="179.86" r="0.75" fill="#ee3344" fill-opacity="0.8"/>
<circle cx="176.14" cy="184.95" r="0.75" fill="#ee3344" fill-opacity="0.8"/>
<circle cx="175.05" cy="176.56" r="0.75" fill="#ee3344" fill-opacity="0.8"/>
<circle cx="175.54" cy="182.53" r="0.75" fill="#ee3344" fill-opacity="0.8"/>
<circle cx="175.80" cy="172.46" r="0.75" fill="#ee3344" fill-opacity="0.8"/>
<circle cx="173.80" cy="165.60" r="0.75" fill="#ee3344"/>
<line x1="165.40" y1="179.4" x2="181.30" y2="179.4" stroke="#333" stroke-width="0.8"/>
<circle cx="169.60" cy="179.4" r="1.6" fill="#000"/>
<path d="M193.51,154.30 L193.55,155.14 L193.59,155.98 L193.65,156.82 L193.72,157.66 L193.80,158.50 L193.89,159.34 L194.00,160.18 L194.12,161.02 L194.25,161.86 L194.41,162.70 L194.57,163.54 L194.76,164.38 L194.96,165.22 L195.17,166.06 L195.39,166.90 L195.63,167.74 L195.87,168.58 L196.12,169.42 L196.36,170.26 L196.61,171.10 L196.84,171.94 L197.06,172.78 L197.27,173.62 L197.45,174.46 L197.61,175.30 L197.75,176.14 L197.85,176.98 L197.91,177.82 L197.95,178.66 L197.94,179.50 L197.91,180.34 L197.84,181.18 L197.74,182.02 L197.61,182.86 L197.46,183.70 L197.28,184.54 L197.09,185.38 L196.87,186.22 L196.65,187.06 L196.42,187.90 L196.18,188.74 L195.94,189.58 L195.71,190.42 L195.48,191.26 L195.26,192.10 L195.05,192.94 L194.85,193.78 L194.67,194.62 L194.50,195.46 L194.34,196.30 L194.20,197.14 L194.08,197.98 L193.97,198.82 L193.87,199.66 L193.78,200.50 L193.71,201.34 L193.64,202.18 L193.59,203.02 L193.54,203.86 L193.51,204.70" fill="none" stroke="#555" stroke-width="0.6"/>
<line x1="189.65" y1="162.3" x2="189.65" y2="177.4" stroke="#999" stroke-width="0.9"/>
<line x1="189.65" y1="184.2" x2="189.65" y2="186.4" stroke="#999" stroke-width="0.9"/>
<line x1="188.15" y1="162.3" x2="191.15" y2="162.3" stroke="#555" stroke-width="0.75"/>
<line x1="188.15" y1="186.4" x2="191.15" y2="186.4" stroke="#555" stroke-width="0.75"/>
<rect x="186.45" y="177.4" width="6.40" height="6.80" fill="url(#hatch)" stroke="#4a4a4a" stroke-width="0.65"/>
<circle cx="196.92" cy="182.85" r="0.75" fill="#ee3344" fill-opacity="0.8"/>
<circle cx="193.93" cy="170.87" r="0.75" fill="#ee3344" fill-opacity="0.8"/>
<circle cx="196.67" cy="178.54" r="0.75" fill="#ee3344" fill-opacity="0.8"/>
<circle cx="194.48" cy="171.09" r="0.75" fill="#ee3344" fill-opacity="0.8"/>
<circle cx="196.38" cy="178.01" r="0.75" fill="#ee3344" fill-opacity="0.8"/>
<circle cx="196.33" cy="182.55" r="0.75" fill="#ee3344" fill-opacity="0.8"/>
<circle cx="196.48" cy="184.23" r="0.75" fill="#ee3344" fill-opacity="0.8"/>
<circle cx="197.03" cy="177.76" r="0.75" fill="#ee3344" fill-opacity="0.8"/>
<circle cx="197.34" cy="183.78" r="0.75" fill="#ee3344" fill-opacity="0.8"/>
<circle cx="197.69" cy="179.92" r="0.75" fill="#ee3344" fill-opacity="0.8"/>
<circle cx="193.85" cy="162.30" r="0.75" fill="#ee3344"/>
<line x1="185.45" y1="179.1" x2="201.35" y2="179.1" stroke="#333" stroke-width="0.8"/>
<circle cx="189.65" cy="179.1" r="1.6" fill="#000"/>
<path d="M213.55,169.60 L213.59,170.04 L213.64,170.48 L213.70,170.91 L213.76,171.35 L213.85,171.79 L213.94,172.23 L214.05,172.67 L214.17,173.11 L214.31,173.54 L214.47,173.98 L214.64,174.42 L214.83,174.86 L215.04,175.30 L215.26,175.74 L215.49,176.18 L215.73,176.61 L215.97,177.05 L216.21,177.49 L216.46,177.93 L216.69,178.37 L216.92,178.81 L217.12,179.24 L217.31,179.68 L217.47,180.12 L217.60,180.56 L217.70,181.00 L217.77,181.44 L217.80,181.87 L217.79,182.31 L217.76,182.75 L217.69,183.19 L217.60,183.63 L217.48,184.06 L217.34,184.50 L217.18,184.94 L217.00,185.38 L216.81,185.82 L216.60,186.26 L216.39,186.69 L216.17,187.13 L215.96,187.57 L215.74,188.01 L215.53,188.45 L215.32,188.89 L215.12,189.32 L214.93,189.76 L214.76,190.20 L214.59,190.64 L214.44,191.08 L214.30,191.52 L214.18,191.96 L214.06,192.39 L213.97,192.83 L213.88,193.27 L213.80,193.71 L213.73,194.15 L213.68,194.59 L213.63,195.02 L213.58,195.46 L213.55,195.90" fill="none" stroke="#555" stroke-width="0.6"/>
<line x1="209.70" y1="171.4" x2="209.70" y2="181.3" stroke="#999" stroke-width="0.9"/>
<line x1="209.70" y1="185.7" x2="209.70" y2="188.2" stroke="#999" stroke-width="0.9"/>
<line x1="208.20" y1="171.4" x2="211.20" y2="171.4" stroke="#555" stroke-width="0.75"/>
<line x1="208.20" y1="188.2" x2="211.20" y2="188.2" stroke="#555" stroke-width="0.75"/>
<rect x="206.50" y="181.3" width="6.40" height="4.40" fill="url(#hatch)" stroke="#4a4a4a" stroke-width="0.65"/>
<circle cx="214.02" cy="174.26" r="0.75" fill="#ee3344" fill-opacity="0.8"/>
<circle cx="216.62" cy="184.95" r="0.75" fill="#ee3344" fill-opacity="0.8"/>
<circle cx="216.02" cy="182.44" r="0.75" fill="#ee3344" fill-opacity="0.8"/>
<circle cx="217.48" cy="180.52" r="0.75" fill="#ee3344" fill-opacity="0.8"/>
<circle cx="217.26" cy="183.99" r="0.75" fill="#ee3344" fill-opacity="0.8"/>
<circle cx="216.14" cy="186.33" r="0.75" fill="#ee3344" fill-opacity="0.8"/>
<circle cx="215.04" cy="182.13" r="0.75" fill="#ee3344" fill-opacity="0.8"/>
<circle cx="214.80" cy="184.40" r="0.75" fill="#ee3344" fill-opacity="0.8"/>
<circle cx="217.39" cy="181.31" r="0.75" fill="#ee3344" fill-opacity="0.8"/>
<circle cx="216.07" cy="183.53" r="0.75" fill="#ee3344" fill-opacity="0.8"/>
<circle cx="215.72" cy="179.83" r="0.75" fill="#ee3344" fill-opacity="0.8"/>
<circle cx="214.58" cy="183.40" r="0.75" fill="#ee3344" fill-opacity="0.8"/>
<circle cx="214.41" cy="185.84" r="0.75" fill="#ee3344" fill-opacity="0.8"/>
<circle cx="215.65" cy="185.34" r="0.75" fill="#ee3344" fill-opacity="0.8"/>
<circle cx="215.91" cy="183.93" r="0.75" fill="#ee3344" fill-opacity="0.8"/>
<circle cx="214.97" cy="175.57" r="0.75" fill="#ee3344" fill-opacity="0.8"/>
<circle cx="216.58" cy="184.23" r="0.75" fill="#ee3344" fill-opacity="0.8"/>
<circle cx="215.45" cy="178.85" r="0.75" fill="#ee3344" fill-opacity="0.8"/>
<circle cx="215.36" cy="185.12" r="0.75" fill="#ee3344" fill-opacity="0.8"/>
<circle cx="217.37" cy="183.66" r="0.75" fill="#ee3344" fill-opacity="0.8"/>
<circle cx="216.44" cy="186.36" r="0.75" fill="#ee3344" fill-opacity="0.8"/>
<circle cx="217.24" cy="184.21" r="0.75" fill="#ee3344" fill-opacity="0.8"/>
<circle cx="214.17" cy="173.70" r="0.75" fill="#ee3344" fill-opacity="0.8"/>
<circle cx="214.18" cy="182.05" r="0.75" fill="#ee3344" fill-opacity="0.8"/>
<circle cx="216.57" cy="185.74" r="0.75" fill="#ee3344" fill-opacity="0.8"/>
<circle cx="215.99" cy="185.28" r="0.75" fill="#ee3344" fill-opacity="0.8"/>
<circle cx="216.49" cy="186.41" r="0.75" fill="#ee3344" fill-opacity="0.8"/>
<circle cx="214.88" cy="186.88" r="0.75" fill="#ee3344" fill-opacity="0.8"/>
<circle cx="215.85" cy="187.13" r="0.75" fill="#ee3344" fill-opacity="0.8"/>
<circle cx="215.83" cy="183.35" r="0.75" fill="#ee3344" fill-opacity="0.8"/>
<circle cx="215.13" cy="181.75" r="0.75" fill="#ee3344" fill-opacity="0.8"/>
<circle cx="214.91" cy="178.80" r="0.75" fill="#ee3344" fill-opacity="0.8"/>
<circle cx="214.13" cy="183.89" r="0.75" fill="#ee3344" fill-opacity="0.8"/>
<circle cx="214.56" cy="175.94" r="0.75" fill="#ee3344" fill-opacity="0.8"/>
<circle cx="214.38" cy="185.16" r="0.75" fill="#ee3344" fill-opacity="0.8"/>
<circle cx="214.24" cy="180.99" r="0.75" fill="#ee3344" fill-opacity="0.8"/>
<circle cx="215.28" cy="185.09" r="0.75" fill="#ee3344" fill-opacity="0.8"/>
<circle cx="215.49" cy="186.78" r="0.75" fill="#ee3344" fill-opacity="0.8"/>
<circle cx="215.64" cy="179.02" r="0.75" fill="#ee3344" fill-opacity="0.8"/>
<circle cx="214.71" cy="175.90" r="0.75" fill="#ee3344" fill-opacity="0.8"/>
<circle cx="214.52" cy="181.16" r="0.75" fill="#ee3344" fill-opacity="0.8"/>
<circle cx="215.11" cy="181.79" r="0.75" fill="#ee3344" fill-opacity="0.8"/>
<circle cx="214.78" cy="185.57" r="0.75" fill="#ee3344" fill-opacity="0.8"/>
<circle cx="215.24" cy="181.63" r="0.75" fill="#ee3344" fill-opacity="0.8"/>
<circle cx="213.96" cy="182.12" r="0.75" fill="#ee3344" fill-opacity="0.8"/>
<circle cx="215.66" cy="180.66" r="0.75" fill="#ee3344" fill-opacity="0.8"/>
<circle cx="216.38" cy="178.66" r="0.75" fill="#ee3344" fill-opacity="0.8"/>
<circle cx="216.40" cy="183.86" r="0.75" fill="#ee3344" fill-opacity="0.8"/>
<circle cx="215.42" cy="183.27" r="0.75" fill="#ee3344" fill-opacity="0.8"/>
<circle cx="214.39" cy="180.79" r="0.75" fill="#ee3344" fill-opacity="0.8"/>
<circle cx="214.69" cy="185.44" r="0.75" fill="#ee3344" fill-opacity="0.8"/>
<circle cx="217.09" cy="180.99" r="0.75" fill="#ee3344" fill-opacity="0.8"/>
<circle cx="214.83" cy="182.67" r="0.75" fill="#ee3344" fill-opacity="0.8"/>
<circle cx="214.48" cy="183.54" r="0.75" fill="#ee3344" fill-opacity="0.8"/>
<circle cx="217.63" cy="182.20" r="0.75" fill="#ee3344" fill-opacity="0.8"/>
<circle cx="217.47" cy="180.59" r="0.75" fill="#ee3344" fill-opacity="0.8"/>
<circle cx="213.90" cy="182.84" r="0.75" fill="#ee3344" fill-opacity="0.8"/>
<circle cx="215.75" cy="183.64" r="0.75" fill="#ee3344" fill-opacity="0.8"/>
<circle cx="213.92" cy="183.84" r="0.75" fill="#ee3344" fill-opacity="0.8"/>
<circle cx="215.42" cy="181.03" r="0.75" fill="#ee3344" fill-opacity="0.8"/>
<circle cx="213.90" cy="171.40" r="0.75" fill="#ee3344"/>
<line x1="205.50" y1="182.5" x2="221.40" y2="182.5" stroke="#333" stroke-width="0.8"/>
<circle cx="209.70" cy="182.5" r="1.6" fill="#000"/>
<path d="M233.60,155.00 L233.64,155.85 L233.68,156.70 L233.74,157.56 L233.80,158.41 L233.88,159.26 L233.97,160.11 L234.07,160.96 L234.19,161.81 L234.32,162.66 L234.46,163.52 L234.62,164.37 L234.80,165.22 L234.99,166.07 L235.20,166.92 L235.41,167.78 L235.64,168.63 L235.87,169.48 L236.10,170.33 L236.34,171.18 L236.57,172.03 L236.80,172.88 L237.01,173.74 L237.21,174.59 L237.38,175.44 L237.53,176.29 L237.66,177.14 L237.76,178.00 L237.82,178.85 L237.85,179.70 L237.84,180.55 L237.81,181.40 L237.74,182.25 L237.64,183.10 L237.52,183.96 L237.37,184.81 L237.20,185.66 L237.02,186.51 L236.81,187.36 L236.60,188.22 L236.38,189.07 L236.15,189.92 L235.92,190.77 L235.70,191.62 L235.48,192.47 L235.27,193.32 L235.07,194.18 L234.88,195.03 L234.71,195.88 L234.55,196.73 L234.40,197.58 L234.26,198.44 L234.14,199.29 L234.04,200.14 L233.94,200.99 L233.86,201.84 L233.79,202.69 L233.73,203.54 L233.68,204.40 L233.64,205.25 L233.60,206.10" fill="none" stroke="#555" stroke-width="0.6"/>
<line x1="229.75" y1="165.3" x2="229.75" y2="175.8" stroke="#999" stroke-width="0.9"/>
<line x1="229.75" y1="186.7" x2="229.75" y2="187.9" stroke="#999" stroke-width="0.9"/>
<line x1="228.25" y1="165.3" x2="231.25" y2="165.3" stroke="#555" stroke-width="0.75"/>
<line x1="228.25" y1="187.9" x2="231.25" y2="187.9" stroke="#555" stroke-width="0.75"/>
<rect x="226.55" y="175.8" width="6.40" height="10.90" fill="url(#hatch)" stroke="#4a4a4a" stroke-width="0.65"/>
<circle cx="234.90" cy="173.94" r="0.75" fill="#ee3344" fill-opacity="0.8"/>
<circle cx="235.96" cy="181.98" r="0.75" fill="#ee3344" fill-opacity="0.8"/>
<circle cx="237.36" cy="180.16" r="0.75" fill="#ee3344" fill-opacity="0.8"/>
<circle cx="237.71" cy="178.28" r="0.75" fill="#ee3344" fill-opacity="0.8"/>
<circle cx="236.24" cy="183.96" r="0.75" fill="#ee3344" fill-opacity="0.8"/>
<circle cx="236.88" cy="185.55" r="0.75" fill="#ee3344" fill-opacity="0.8"/>
<circle cx="236.83" cy="184.10" r="0.75" fill="#ee3344" fill-opacity="0.8"/>
<circle cx="235.89" cy="181.10" r="0.75" fill="#ee3344" fill-opacity="0.8"/>
<circle cx="233.95" cy="165.30" r="0.75" fill="#ee3344"/>
<line x1="225.55" y1="180.6" x2="241.45" y2="180.6" stroke="#333" stroke-width="0.8"/>
<circle cx="229.75" cy="180.6" r="1.6" fill="#000"/>
<path d="M253.65,124.40 L253.68,125.76 L253.72,127.11 L253.77,128.47 L253.82,129.83 L253.88,131.18 L253.95,132.54 L254.04,133.90 L254.13,135.25 L254.23,136.61 L254.34,137.97 L254.47,139.32 L254.61,140.68 L254.76,142.04 L254.92,143.39 L255.09,144.75 L255.27,146.11 L255.46,147.46 L255.66,148.82 L255.87,150.18 L256.07,151.53 L256.28,152.89 L256.49,154.25 L256.69,155.60 L256.89,156.96 L257.07,158.32 L257.25,159.67 L257.41,161.03 L257.55,162.39 L257.66,163.74 L257.76,165.10 L257.83,166.46 L257.88,167.81 L257.90,169.17 L257.89,170.53 L257.84,171.88 L257.74,173.24 L257.62,174.60 L257.45,175.95 L257.26,177.31 L257.05,178.67 L256.81,180.02 L256.56,181.38 L256.31,182.74 L256.05,184.09 L255.79,185.45 L255.54,186.81 L255.30,188.16 L255.07,189.52 L254.86,190.88 L254.67,192.23 L254.49,193.59 L254.34,194.95 L254.20,196.30 L254.08,197.66 L253.97,199.02 L253.88,200.37 L253.81,201.73 L253.74,203.09 L253.69,204.44 L253.65,205.80" fill="none" stroke="#555" stroke-width="0.6"/>
<line x1="249.80" y1="147.2" x2="249.80" y2="158.8" stroke="#999" stroke-width="0.9"/>
<line x1="249.80" y1="183.4" x2="249.80" y2="187.2" stroke="#999" stroke-width="0.9"/>
<line x1="248.30" y1="147.2" x2="251.30" y2="147.2" stroke="#555" stroke-width="0.75"/>
<line x1="248.30" y1="187.2" x2="251.30" y2="187.2" stroke="#555" stroke-width="0.75"/>
<rect x="246.60" y="158.8" width="6.40" height="24.60" fill="url(#hatch)" stroke="#4a4a4a" stroke-width="0.65"/>
<circle cx="256.64" cy="170.56" r="0.75" fill="#ee3344" fill-opacity="0.8"/>
<circle cx="254.11" cy="161.01" r="0.75" fill="#ee3344" fill-opacity="0.8"/>
<circle cx="254.39" cy="165.07" r="0.75" fill="#ee3344" fill-opacity="0.8"/>
<circle cx="256.43" cy="169.54" r="0.75" fill="#ee3344" fill-opacity="0.8"/>
<circle cx="254.01" cy="169.06" r="0.75" fill="#ee3344" fill-opacity="0.8"/>
<circle cx="255.77" cy="177.13" r="0.75" fill="#ee3344" fill-opacity="0.8"/>
<circle cx="256.05" cy="155.93" r="0.75" fill="#ee3344" fill-opacity="0.8"/>
<circle cx="254.75" cy="156.19" r="0.75" fill="#ee3344" fill-opacity="0.8"/>
<circle cx="254.00" cy="147.20" r="0.75" fill="#ee3344"/>
<line x1="245.60" y1="169.5" x2="261.50" y2="169.5" stroke="#333" stroke-width="0.8"/>
<circle cx="249.80" cy="169.5" r="1.6" fill="#000"/>
<path d="M273.73,125.60 L273.77,126.93 L273.82,128.27 L273.87,129.60 L273.93,130.94 L274.00,132.28 L274.07,133.61 L274.16,134.94 L274.26,136.28 L274.37,137.61 L274.49,138.95 L274.63,140.28 L274.78,141.62 L274.94,142.95 L275.11,144.29 L275.30,145.62 L275.50,146.96 L275.71,148.29 L275.92,149.63 L276.15,150.97 L276.38,152.30 L276.62,153.63 L276.86,154.97 L277.10,156.31 L277.34,157.64 L277.57,158.97 L277.79,160.31 L278.00,161.64 L278.19,162.98 L278.37,164.31 L278.53,165.65 L278.66,166.98 L278.77,168.32 L278.86,169.65 L278.92,170.99 L278.95,172.32 L278.94,173.66 L278.88,175.00 L278.76,176.33 L278.59,177.66 L278.37,179.00 L278.11,180.33 L277.81,181.67 L277.49,183.00 L277.15,184.34 L276.80,185.67 L276.45,187.01 L276.12,188.34 L275.79,189.68 L275.49,191.01 L275.20,192.35 L274.95,193.69 L274.72,195.02 L274.51,196.35 L274.34,197.69 L274.18,199.02 L274.06,200.36 L273.95,201.69 L273.86,203.03 L273.79,204.37 L273.73,205.70" fill="none" stroke="#555" stroke-width="0.6"/>
<line x1="269.85" y1="101.3" x2="269.85" y2="169.0" stroke="#999" stroke-width="0.9"/>
<line x1="269.85" y1="182.3" x2="269.85" y2="184.1" stroke="#999" stroke-width="0.9"/>
<line x1="268.35" y1="101.3" x2="271.35" y2="101.3" stroke="#555" stroke-width="0.75"/>
<line x1="268.35" y1="184.1" x2="271.35" y2="184.1" stroke="#555" stroke-width="0.75"/>
<rect x="266.65" y="169.0" width="6.40" height="13.30" fill="url(#hatch)" stroke="#4a4a4a" stroke-width="0.65"/>
<circle cx="275.45" cy="182.09" r="0.75" fill="#ee3344" fill-opacity="0.8"/>
<circle cx="277.42" cy="178.28" r="0.75" fill="#ee3344" fill-opacity="0.8"/>
<circle cx="274.40" cy="177.56" r="0.75" fill="#ee3344" fill-opacity="0.8"/>
<circle cx="277.61" cy="170.77" r="0.75" fill="#ee3344" fill-opacity="0.8"/>
<circle cx="274.11" cy="176.25" r="0.75" fill="#ee3344" fill-opacity="0.8"/>
<circle cx="277.28" cy="171.03" r="0.75" fill="#ee3344" fill-opacity="0.8"/>
<circle cx="275.34" cy="178.14" r="0.75" fill="#ee3344" fill-opacity="0.8"/>
<circle cx="276.29" cy="174.45" r="0.75" fill="#ee3344" fill-opacity="0.8"/>
<circle cx="274.78" cy="181.94" r="0.75" fill="#ee3344" fill-opacity="0.8"/>
<circle cx="276.03" cy="178.82" r="0.75" fill="#ee3344" fill-opacity="0.8"/>
<circle cx="275.07" cy="181.46" r="0.75" fill="#ee3344" fill-opacity="0.8"/>
<circle cx="274.78" cy="182.85" r="0.75" fill="#ee3344" fill-opacity="0.8"/>
<circle cx="276.51" cy="168.81" r="0.75" fill="#ee3344" fill-opacity="0.8"/>
<circle cx="277.29" cy="159.54" r="0.75" fill="#ee3344" fill-opacity="0.8"/>
<circle cx="274.07" cy="166.77" r="0.75" fill="#ee3344" fill-opacity="0.8"/>
<circle cx="275.50" cy="174.21" r="0.75" fill="#ee3344" fill-opacity="0.8"/>
<circle cx="275.58" cy="172.35" r="0.75" fill="#ee3344" fill-opacity="0.8"/>
<circle cx="278.49" cy="170.78" r="0.75" fill="#ee3344" fill-opacity="0.8"/>
<circle cx="275.80" cy="175.95" r="0.75" fill="#ee3344" fill-opacity="0.8"/>
<circle cx="275.97" cy="183.78" r="0.75" fill="#ee3344" fill-opacity="0.8"/>
<circle cx="275.38" cy="173.81" r="0.75" fill="#ee3344" fill-opacity="0.8"/>
<circle cx="277.93" cy="168.12" r="0.75" fill="#ee3344" fill-opacity="0.8"/>
<circle cx="274.93" cy="182.68" r="0.75" fill="#ee3344" fill-opacity="0.8"/>
<circle cx="274.95" cy="175.26" r="0.75" fill="#ee3344" fill-opacity="0.8"/>
<circle cx="277.08" cy="183.03" r="0.75" fill="#ee3344" fill-opacity="0.8"/>
<circle cx="277.10" cy="179.19" r="0.75" fill="#ee3344" fill-opacity="0.8"/>
<circle cx="275.97" cy="179.13" r="0.75" fill="#ee3344" fill-opacity="0.8"/>
<circle cx="274.19" cy="154.66" r="0.75" fill="#ee3344" fill-opacity="0.8"/>
<circle cx="275.07" cy="176.31" r="0.75" fill="#ee3344" fill-opacity="0.8"/>
<circle cx="274.50" cy="183.81" r="0.75" fill="#ee3344" fill-opacity="0.8"/>
<circle cx="275.63" cy="167.92" r="0.75" fill="#ee3344" fill-opacity="0.8"/>
<circle cx="275.29" cy="170.52" r="0.75" fill="#ee3344" fill-opacity="0.8"/>
<circle cx="276.83" cy="181.83" r="0.75" fill="#ee3344" fill-opacity="0.8"/>
<circle cx="276.58" cy="173.57" r="0.75" fill="#ee3344" fill-opacity="0.8"/>
<circle cx="274.35" cy="172.25" r="0.75" fill="#ee3344" fill-opacity="0.8"/>
<circle cx="274.48" cy="183.24" r="0.75" fill="#ee3344" fill-opacity="0.8"/>
<circle cx="277.96" cy="177.33" r="0.75" fill="#ee3344" fill-opacity="0.8"/>
<circle cx="275.24" cy="171.07" r="0.75" fill="#ee3344" fill-opacity="0.8"/>
<circle cx="278.64" cy="174.12" r="0.75" fill="#ee3344" fill-opacity="0.8"/>
<circle cx="274.21" cy="173.58" r="0.75" fill="#ee3344" fill-opacity="0.8"/>
<circle cx="276.83" cy="175.46" r="0.75" fill="#ee3344" fill-opacity="0.8"/>
<circle cx="278.53" cy="173.18" r="0.75" fill="#ee3344" fill-opacity="0.8"/>
<circle cx="275.25" cy="172.13" r="0.75" fill="#ee3344" fill-opacity="0.8"/>
<circle cx="276.51" cy="169.04" r="0.75" fill="#ee3344" fill-opacity="0.8"/>
<circle cx="276.57" cy="182.78" r="0.75" fill="#ee3344" fill-opacity="0.8"/>
<circle cx="274.05" cy="101.30" r="0.75" fill="#ee3344"/>
<line x1="265.65" y1="173.5" x2="281.55" y2="173.5" stroke="#333" stroke-width="0.8"/>
<circle cx="269.85" cy="173.5" r="1.6" fill="#000"/>
<path d="M293.80,148.20 L293.85,149.16 L293.91,150.12 L293.98,151.07 L294.06,152.03 L294.16,152.99 L294.26,153.95 L294.39,154.91 L294.53,155.87 L294.69,156.82 L294.87,157.78 L295.06,158.74 L295.28,159.70 L295.51,160.66 L295.76,161.62 L296.03,162.57 L296.31,163.53 L296.60,164.49 L296.89,165.45 L297.20,166.41 L297.50,167.37 L297.80,168.32 L298.09,169.28 L298.37,170.24 L298.63,171.20 L298.87,172.16 L299.08,173.12 L299.26,174.07 L299.40,175.03 L299.51,175.99 L299.57,176.95 L299.60,177.91 L299.58,178.87 L299.51,179.82 L299.40,180.78 L299.24,181.74 L299.04,182.70 L298.81,183.66 L298.55,184.62 L298.26,185.57 L297.95,186.53 L297.63,187.49 L297.31,188.45 L296.98,189.41 L296.66,190.37 L296.34,191.32 L296.04,192.28 L295.76,193.24 L295.49,194.20 L295.24,195.16 L295.01,196.12 L294.81,197.07 L294.62,198.03 L294.46,198.99 L294.32,199.95 L294.19,200.91 L294.09,201.87 L294.00,202.82 L293.92,203.78 L293.86,204.74 L293.80,205.70" fill="none" stroke="#555" stroke-width="0.6"/>
<line x1="289.90" y1="132.7" x2="289.90" y2="175.2" stroke="#999" stroke-width="0.9"/>
<line x1="289.90" y1="185.0" x2="289.90" y2="187.6" stroke="#999" stroke-width="0.9"/>
<line x1="288.40" y1="132.7" x2="291.40" y2="132.7" stroke="#555" stroke-width="0.75"/>
<line x1="288.40" y1="187.6" x2="291.40" y2="187.6" stroke="#555" stroke-width="0.75"/>
<rect x="286.70" y="175.2" width="6.40" height="9.80" fill="url(#hatch)" stroke="#4a4a4a" stroke-width="0.65"/>
<circle cx="296.26" cy="183.38" r="0.75" fill="#ee3344" fill-opacity="0.8"/>
<circle cx="298.03" cy="173.76" r="0.75" fill="#ee3344" fill-opacity="0.8"/>
<circle cx="296.79" cy="185.44" r="0.75" fill="#ee3344" fill-opacity="0.8"/>
<circle cx="295.41" cy="174.94" r="0.75" fill="#ee3344" fill-opacity="0.8"/>
<circle cx="294.65" cy="182.50" r="0.75" fill="#ee3344" fill-opacity="0.8"/>
<circle cx="297.18" cy="180.19" r="0.75" fill="#ee3344" fill-opacity="0.8"/>
<circle cx="297.30" cy="176.20" r="0.75" fill="#ee3344" fill-opacity="0.8"/>
<circle cx="296.58" cy="177.24" r="0.75" fill="#ee3344" fill-opacity="0.8"/>
<circle cx="294.37" cy="158.79" r="0.75" fill="#ee3344" fill-opacity="0.8"/>
<circle cx="294.20" cy="171.39" r="0.75" fill="#ee3344" fill-opacity="0.8"/>
<circle cx="296.19" cy="182.18" r="0.75" fill="#ee3344" fill-opacity="0.8"/>
<circle cx="298.72" cy="182.09" r="0.75" fill="#ee3344" fill-opacity="0.8"/>
<circle cx="295.79" cy="173.69" r="0.75" fill="#ee3344" fill-opacity="0.8"/>
<circle cx="295.08" cy="182.29" r="0.75" fill="#ee3344" fill-opacity="0.8"/>
<circle cx="295.11" cy="173.28" r="0.75" fill="#ee3344" fill-opacity="0.8"/>
<circle cx="298.99" cy="174.45" r="0.75" fill="#ee3344" fill-opacity="0.8"/>
<circle cx="295.28" cy="175.72" r="0.75" fill="#ee3344" fill-opacity="0.8"/>
<circle cx="298.84" cy="182.06" r="0.75" fill="#ee3344" fill-opacity="0.8"/>
<circle cx="295.25" cy="178.46" r="0.75" fill="#ee3344" fill-opacity="0.8"/>
<circle cx="297.77" cy="182.01" r="0.75" fill="#ee3344" fill-opacity="0.8"/>
<circle cx="294.95" cy="183.84" r="0.75" fill="#ee3344" fill-opacity="0.8"/>
<circle cx="297.43" cy="173.67" r="0.75" fill="#ee3344" fill-opacity="0.8"/>
<circle cx="295.89" cy="178.20" r="0.75" fill="#ee3344" fill-opacity="0.8"/>
<circle cx="295.48" cy="173.28" r="0.75" fill="#ee3344" fill-opacity="0.8"/>
<circle cx="294.60" cy="185.91" r="0.75" fill="#ee3344" fill-opacity="0.8"/>
<circle cx="296.43" cy="177.80" r="0.75" fill="#ee3344" fill-opacity="0.8"/>
<circle cx="296.09" cy="179.52" r="0.75" fill="#ee3344" fill-opacity="0.8"/>
<circle cx="296.16" cy="181.94" r="0.75" fill="#ee3344" fill-opacity="0.8"/>
<circle cx="294.28" cy="174.79" r="0.75" fill="#ee3344" fill-opacity="0.8"/>
<circle cx="295.17" cy="185.44" r="0.75" fill="#ee3344" fill-opacity="0.8"/>
<circle cx="295.46" cy="182.03" r="0.75" fill="#ee3344" fill-opacity="0.8"/>
<circle cx="296.37" cy="166.57" r="0.75" fill="#ee3344" fill-opacity="0.8"/>
<circle cx="294.12" cy="176.89" r="0.75" fill="#ee3344" fill-opacity="0.8"/>
<circle cx="298.63" cy="183.01" r="0.75" fill="#ee3344" fill-opacity="0.8"/>
<circle cx="296.64" cy="176.34" r="0.75" fill="#ee3344" fill-opacity="0.8"/>
<circle cx="295.17" cy="185.07" r="0.75" fill="#ee3344" fill-opacity="0.8"/>
<circle cx="299.04" cy="179.78" r="0.75" fill="#ee3344" fill-opacity="0.8"/>
<circle cx="297.49" cy="183.88" r="0.75" fill="#ee3344" fill-opacity="0.8"/>
<circle cx="295.81" cy="175.13" r="0.75" fill="#ee3344" fill-opacity="0.8"/>
<circle cx="298.32" cy="178.04" r="0.75" fill="#ee3344" fill-opacity="0.8"/>
<circle cx="298.09" cy="175.86" r="0.75" fill="#ee3344" fill-opacity="0.8"/>
<circle cx="294.27" cy="174.10" r="0.75" fill="#ee3344" fill-opacity="0.8"/>
<circle cx="299.39" cy="177.56" r="0.75" fill="#ee3344" fill-opacity="0.8"/>
<circle cx="294.41" cy="186.93" r="0.75" fill="#ee3344" fill-opacity="0.8"/>
<circle cx="297.87" cy="179.85" r="0.75" fill="#ee3344" fill-opacity="0.8"/>
<circle cx="294.10" cy="132.70" r="0.75" fill="#ee3344"/>
<line x1="285.70" y1="178.0" x2="301.60" y2="178.0" stroke="#333" stroke-width="0.8"/>
<circle cx="289.90" cy="178.0" r="1.6" fill="#000"/>
<path d="M313.83,159.90 L313.88,160.61 L313.93,161.31 L313.99,162.02 L314.07,162.73 L314.16,163.43 L314.26,164.14 L314.38,164.85 L314.52,165.55 L314.67,166.26 L314.84,166.97 L315.03,167.67 L315.23,168.38 L315.45,169.09 L315.69,169.79 L315.94,170.50 L316.21,171.21 L316.48,171.91 L316.76,172.62 L317.04,173.33 L317.32,174.03 L317.59,174.74 L317.84,175.45 L318.08,176.15 L318.30,176.86 L318.50,177.57 L318.66,178.27 L318.79,178.98 L318.88,179.69 L318.94,180.39 L318.95,181.10 L318.92,181.81 L318.86,182.51 L318.76,183.22 L318.62,183.93 L318.45,184.63 L318.26,185.34 L318.03,186.05 L317.79,186.75 L317.53,187.46 L317.26,188.17 L316.99,188.87 L316.71,189.58 L316.44,190.29 L316.17,190.99 L315.91,191.70 L315.66,192.41 L315.43,193.11 L315.21,193.82 L315.01,194.53 L314.82,195.23 L314.65,195.94 L314.51,196.65 L314.37,197.35 L314.26,198.06 L314.15,198.77 L314.07,199.47 L313.99,200.18 L313.93,200.89 L313.87,201.59 L313.83,202.30" fill="none" stroke="#555" stroke-width="0.6"/>
<line x1="309.95" y1="156.3" x2="309.95" y2="179.3" stroke="#999" stroke-width="0.9"/>
<line x1="309.95" y1="185.3" x2="309.95" y2="187.1" stroke="#999" stroke-width="0.9"/>
<line x1="308.45" y1="156.3" x2="311.45" y2="156.3" stroke="#555" stroke-width="0.75"/>
<line x1="308.45" y1="187.1" x2="311.45" y2="187.1" stroke="#555" stroke-width="0.75"/>
<rect x="306.75" y="179.3" width="6.40" height="6.00" fill="url(#hatch)" stroke="#4a4a4a" stroke-width="0.65"/>
<circle cx="316.11" cy="180.14" r="0.75" fill="#ee3344" fill-opacity="0.8"/>
<circle cx="317.45" cy="183.96" r="0.75" fill="#ee3344" fill-opacity="0.8"/>
<circle cx="317.59" cy="176.76" r="0.75" fill="#ee3344" fill-opacity="0.8"/>
<circle cx="315.86" cy="183.03" r="0.75" fill="#ee3344" fill-opacity="0.8"/>
<circle cx="315.62" cy="183.53" r="0.75" fill="#ee3344" fill-opacity="0.8"/>
<circle cx="316.00" cy="186.73" r="0.75" fill="#ee3344" fill-opacity="0.8"/>
<circle cx="316.85" cy="185.13" r="0.75" fill="#ee3344" fill-opacity="0.8"/>
<circle cx="318.47" cy="181.53" r="0.75" fill="#ee3344" fill-opacity="0.8"/>
<circle cx="314.71" cy="180.65" r="0.75" fill="#ee3344" fill-opacity="0.8"/>
<circle cx="316.31" cy="186.56" r="0.75" fill="#ee3344" fill-opacity="0.8"/>
<circle cx="315.51" cy="170.13" r="0.75" fill="#ee3344" fill-opacity="0.8"/>
<circle cx="315.50" cy="175.39" r="0.75" fill="#ee3344" fill-opacity="0.8"/>
<circle cx="315.34" cy="179.87" r="0.75" fill="#ee3344" fill-opacity="0.8"/>
<circle cx="315.06" cy="183.77" r="0.75" fill="#ee3344" fill-opacity="0.8"/>
<circle cx="317.36" cy="180.95" r="0.75" fill="#ee3344" fill-opacity="0.8"/>
<circle cx="315.11" cy="180.82" r="0.75" fill="#ee3344" fill-opacity="0.8"/>
<circle cx="314.44" cy="173.18" r="0.75" fill="#ee3344" fill-opacity="0.8"/>
<circle cx="317.09" cy="182.89" r="0.75" fill="#ee3344" fill-opacity="0.8"/>
<circle cx="317.39" cy="179.52" r="0.75" fill="#ee3344" fill-opacity="0.8"/>
<circle cx="315.60" cy="180.56" r="0.75" fill="#ee3344" fill-opacity="0.8"/>
<circle cx="314.85" cy="167.50" r="0.75" fill="#ee3344" fill-opacity="0.8"/>
<circle cx="318.15" cy="178.15" r="0.75" fill="#ee3344" fill-opacity="0.8"/>
<circle cx="315.82" cy="185.24" r="0.75" fill="#ee3344" fill-opacity="0.8"/>
<circle cx="314.18" cy="170.50" r="0.75" fill="#ee3344" fill-opacity="0.8"/>
<circle cx="318.22" cy="183.67" r="0.75" fill="#ee3344" fill-opacity="0.8"/>
<circle cx="315.82" cy="183.51" r="0.75" fill="#ee3344" fill-opacity="0.8"/>
<circle cx="315.46" cy="179.37" r="0.75" fill="#ee3344" fill-opacity="0.8"/>
<circle cx="314.57" cy="186.15" r="0.75" fill="#ee3344" fill-opacity="0.8"/>
<circle cx="318.15" cy="185.10" r="0.75" fill="#ee3344" fill-opacity="0.8"/>
<circle cx="318.50" cy="179.20" r="0.75" fill="#ee3344" fill-opacity="0.8"/>
<circle cx="314.15" cy="156.30" r="0.75" fill="#ee3344"/>
<line x1="305.75" y1="181.5" x2="321.65" y2="181.5" stroke="#333" stroke-width="0.8"/>
<circle cx="309.95" cy="181.5" r="1.6" fill="#000"/>
<path d="M333.87,150.20 L333.91,151.10 L333.96,152.00 L334.03,152.90 L334.10,153.80 L334.18,154.70 L334.28,155.60 L334.39,156.50 L334.52,157.40 L334.66,158.30 L334.83,159.20 L335.00,160.10 L335.20,161.00 L335.41,161.90 L335.64,162.80 L335.87,163.70 L336.13,164.60 L336.38,165.50 L336.65,166.40 L336.91,167.30 L337.17,168.20 L337.43,169.10 L337.67,170.00 L337.90,170.90 L338.10,171.80 L338.28,172.70 L338.44,173.60 L338.56,174.50 L338.64,175.40 L338.69,176.30 L338.70,177.20 L338.67,178.10 L338.61,179.00 L338.51,179.90 L338.38,180.80 L338.22,181.70 L338.03,182.60 L337.82,183.50 L337.59,184.40 L337.35,185.30 L337.10,186.20 L336.84,187.10 L336.58,188.00 L336.32,188.90 L336.07,189.80 L335.82,190.70 L335.59,191.60 L335.37,192.50 L335.16,193.40 L334.97,194.30 L334.80,195.20 L334.64,196.10 L334.50,197.00 L334.38,197.90 L334.27,198.80 L334.17,199.70 L334.09,200.60 L334.02,201.50 L333.96,202.40 L333.91,203.30 L333.87,204.20" fill="none" stroke="#555" stroke-width="0.6"/>
<line x1="330.00" y1="154.3" x2="330.00" y2="173.2" stroke="#999" stroke-width="0.9"/>
<line x1="330.00" y1="183.2" x2="330.00" y2="187.1" stroke="#999" stroke-width="0.9"/>
<line x1="328.50" y1="154.3" x2="331.50" y2="154.3" stroke="#555" stroke-width="0.75"/>
<line x1="328.50" y1="187.1" x2="331.50" y2="187.1" stroke="#555" stroke-width="0.75"/>
<rect x="326.80" y="173.2" width="6.40" height="10.00" fill="url(#hatch)" stroke="#4a4a4a" stroke-width="0.65"/>
<circle cx="337.45" cy="170.13" r="0.75" fill="#ee3344" fill-opacity="0.8"/>
<circle cx="336.46" cy="183.41" r="0.75" fill="#ee3344" fill-opacity="0.8"/>
<circle cx="334.92" cy="182.06" r="0.75" fill="#ee3344" fill-opacity="0.8"/>
<circle cx="336.50" cy="176.60" r="0.75" fill="#ee3344" fill-opacity="0.8"/>
<circle cx="335.21" cy="172.86" r="0.75" fill="#ee3344" fill-opacity="0.8"/>
<circle cx="336.20" cy="183.73" r="0.75" fill="#ee3344" fill-opacity="0.8"/>
<circle cx="335.42" cy="172.34" r="0.75" fill="#ee3344" fill-opacity="0.8"/>
<circle cx="336.06" cy="179.07" r="0.75" fill="#ee3344" fill-opacity="0.8"/>
<circle cx="336.15" cy="177.23" r="0.75" fill="#ee3344" fill-opacity="0.8"/>
<circle cx="336.31" cy="179.56" r="0.75" fill="#ee3344" fill-opacity="0.8"/>
<circle cx="337.34" cy="181.51" r="0.75" fill="#ee3344" fill-opacity="0.8"/>
<circle cx="336.19" cy="173.62" r="0.75" fill="#ee3344" fill-opacity="0.8"/>
<circle cx="335.96" cy="172.93" r="0.75" fill="#ee3344" fill-opacity="0.8"/>
<circle cx="336.47" cy="177.17" r="0.75" fill="#ee3344" fill-opacity="0.8"/>
<circle cx="334.55" cy="179.79" r="0.75" fill="#ee3344" fill-opacity="0.8"/>
<circle cx="334.43" cy="179.81" r="0.75" fill="#ee3344" fill-opacity="0.8"/>
<circle cx="338.42" cy="176.30" r="0.75" fill="#ee3344" fill-opacity="0.8"/>
<circle cx="337.97" cy="182.77" r="0.75" fill="#ee3344" fill-opacity="0.8"/>
<circle cx="338.23" cy="181.03" r="0.75" fill="#ee3344" fill-opacity="0.8"/>
<circle cx="337.38" cy="184.11" r="0.75" fill="#ee3344" fill-opacity="0.8"/>
<circle cx="337.89" cy="181.84" r="0.75" fill="#ee3344" fill-opacity="0.8"/>
<circle cx="337.55" cy="175.94" r="0.75" fill="#ee3344" fill-opacity="0.8"/>
<circle cx="334.20" cy="154.30" r="0.75" fill="#ee3344"/>
<line x1="325.80" y1="177.4" x2="341.70" y2="177.4" stroke="#333" stroke-width="0.8"/>
<circle cx="330.00" cy="177.4" r="1.6" fill="#000"/>
<path d="M353.91,157.30 L353.95,158.06 L353.99,158.83 L354.05,159.59 L354.12,160.36 L354.19,161.12 L354.29,161.89 L354.39,162.66 L354.51,163.42 L354.64,164.19 L354.79,164.95 L354.96,165.72 L355.14,166.48 L355.33,167.25 L355.54,168.01 L355.76,168.78 L355.99,169.54 L356.23,170.31 L356.48,171.07 L356.72,171.84 L356.96,172.60 L357.20,173.37 L357.42,174.13 L357.63,174.90 L357.82,175.66 L357.98,176.43 L358.12,177.19 L358.23,177.95 L358.30,178.72 L358.34,179.49 L358.35,180.25 L358.32,181.01 L358.26,181.78 L358.17,182.55 L358.04,183.31 L357.89,184.07 L357.72,184.84 L357.53,185.60 L357.32,186.37 L357.09,187.13 L356.86,187.90 L356.62,188.66 L356.38,189.43 L356.14,190.19 L355.91,190.96 L355.69,191.72 L355.48,192.49 L355.28,193.25 L355.09,194.02 L354.92,194.78 L354.76,195.55 L354.61,196.31 L354.49,197.08 L354.37,197.84 L354.27,198.61 L354.19,199.38 L354.11,200.14 L354.05,200.91 L353.99,201.67 L353.95,202.44 L353.91,203.20" fill="none" stroke="#555" stroke-width="0.6"/>
<line x1="350.05" y1="159.3" x2="350.05" y2="179.0" stroke="#999" stroke-width="0.9"/>
<line x1="350.05" y1="184.6" x2="350.05" y2="186.1" stroke="#999" stroke-width="0.9"/>
<line x1="348.55" y1="159.3" x2="351.55" y2="159.3" stroke="#555" stroke-width="0.75"/>
<line x1="348.55" y1="186.1" x2="351.55" y2="186.1" stroke="#555" stroke-width="0.75"/>
<rect x="346.85" y="179.0" width="6.40" height="5.60" fill="url(#hatch)" stroke="#4a4a4a" stroke-width="0.65"/>
<circle cx="355.18" cy="185.25" r="0.75" fill="#ee3344" fill-opacity="0.8"/>
<circle cx="355.21" cy="183.95" r="0.75" fill="#ee3344" fill-opacity="0.8"/>
<circle cx="354.40" cy="180.50" r="0.75" fill="#ee3344" fill-opacity="0.8"/>
<circle cx="358.04" cy="179.21" r="0.75" fill="#ee3344" fill-opacity="0.8"/>
<circle cx="354.82" cy="185.24" r="0.75" fill="#ee3344" fill-opacity="0.8"/>
<circle cx="357.48" cy="176.35" r="0.75" fill="#ee3344" fill-opacity="0.8"/>
<circle cx="357.68" cy="182.65" r="0.75" fill="#ee3344" fill-opacity="0.8"/>
<circle cx="356.25" cy="186.04" r="0.75" fill="#ee3344" fill-opacity="0.8"/>
<circle cx="355.19" cy="184.44" r="0.75" fill="#ee3344" fill-opacity="0.8"/>
<circle cx="356.81" cy="174.77" r="0.75" fill="#ee3344" fill-opacity="0.8"/>
<circle cx="357.27" cy="179.33" r="0.75" fill="#ee3344" fill-opacity="0.8"/>
<circle cx="355.14" cy="184.62" r="0.75" fill="#ee3344" fill-opacity="0.8"/>
<circle cx="356.12" cy="185.97" r="0.75" fill="#ee3344" fill-opacity="0.8"/>
<circle cx="354.26" cy="180.45" r="0.75" fill="#ee3344" fill-opacity="0.8"/>
<circle cx="356.74" cy="179.11" r="0.75" fill="#ee3344" fill-opacity="0.8"/>
<circle cx="357.79" cy="182.09" r="0.75" fill="#ee3344" fill-opacity="0.8"/>
<circle cx="356.91" cy="179.75" r="0.75" fill="#ee3344" fill-opacity="0.8"/>
<circle cx="355.65" cy="177.90" r="0.75" fill="#ee3344" fill-opacity="0.8"/>
<circle cx="355.16" cy="180.82" r="0.75" fill="#ee3344" fill-opacity="0.8"/>
<circle cx="355.04" cy="182.72" r="0.75" fill="#ee3344" fill-opacity="0.8"/>
<circle cx="354.79" cy="181.78" r="0.75" fill="#ee3344" fill-opacity="0.8"/>
<circle cx="354.33" cy="165.83" r="0.75" fill="#ee3344" fill-opacity="0.8"/>
<circle cx="356.93" cy="185.04" r="0.75" fill="#ee3344" fill-opacity="0.8"/>
<circle cx="354.30" cy="180.05" r="0.75" fill="#ee3344" fill-opacity="0.8"/>
<circle cx="355.62" cy="182.50" r="0.75" fill="#ee3344" fill-opacity="0.8"/>
<circle cx="358.00" cy="181.53" r="0.75" fill="#ee3344" fill-opacity="0.8"/>
<circle cx="354.37" cy="170.18" r="0.75" fill="#ee3344" fill-opacity="0.8"/>
<circle cx="354.96" cy="184.52" r="0.75" fill="#ee3344" fill-opacity="0.8"/>
<circle cx="356.79" cy="182.05" r="0.75" fill="#ee3344" fill-opacity="0.8"/>
<circle cx="355.34" cy="167.35" r="0.75" fill="#ee3344" fill-opacity="0.8"/>
<circle cx="354.25" cy="159.30" r="0.75" fill="#ee3344"/>
<line x1="345.85" y1="180.3" x2="361.75" y2="180.3" stroke="#333" stroke-width="0.8"/>
<circle cx="350.05" cy="180.3" r="1.6" fill="#000"/>
<path d="M373.96,154.30 L374.00,155.07 L374.04,155.85 L374.09,156.62 L374.15,157.39 L374.22,158.17 L374.30,158.94 L374.38,159.71 L374.48,160.49 L374.60,161.26 L374.72,162.03 L374.86,162.81 L375.01,163.58 L375.17,164.35 L375.35,165.13 L375.54,165.90 L375.73,166.67 L375.94,167.45 L376.16,168.22 L376.38,168.99 L376.61,169.77 L376.84,170.54 L377.06,171.31 L377.28,172.09 L377.50,172.86 L377.70,173.63 L377.89,174.41 L378.06,175.18 L378.21,175.95 L378.34,176.73 L378.45,177.50 L378.53,178.27 L378.58,179.05 L378.60,179.82 L378.59,180.59 L378.53,181.37 L378.43,182.14 L378.29,182.91 L378.11,183.69 L377.90,184.46 L377.67,185.23 L377.41,186.01 L377.14,186.78 L376.86,187.55 L376.58,188.33 L376.30,189.10 L376.02,189.87 L375.76,190.65 L375.52,191.42 L375.29,192.19 L375.07,192.97 L374.88,193.74 L374.71,194.51 L374.56,195.29 L374.43,196.06 L374.31,196.83 L374.22,197.61 L374.13,198.38 L374.07,199.15 L374.01,199.93 L373.96,200.70" fill="none" stroke="#555" stroke-width="0.6"/>
<line x1="370.10" y1="155.4" x2="370.10" y2="178.0" stroke="#999" stroke-width="0.9"/>
<line x1="370.10" y1="183.5" x2="370.10" y2="186.8" stroke="#999" stroke-width="0.9"/>
<line x1="368.60" y1="155.4" x2="371.60" y2="155.4" stroke="#555" stroke-width="0.75"/>
<line x1="368.60" y1="186.8" x2="371.60" y2="186.8" stroke="#555" stroke-width="0.75"/>
<rect x="366.90" y="178.0" width="6.40" height="5.50" fill="url(#hatch)" stroke="#4a4a4a" stroke-width="0.65"/>
<circle cx="377.81" cy="177.86" r="0.75" fill="#ee3344" fill-opacity="0.8"/>
<circle cx="374.54" cy="169.61" r="0.75" fill="#ee3344" fill-opacity="0.8"/>
<circle cx="375.67" cy="177.21" r="0.75" fill="#ee3344" fill-opacity="0.8"/>
<circle cx="377.21" cy="177.23" r="0.75" fill="#ee3344" fill-opacity="0.8"/>
<circle cx="376.13" cy="181.39" r="0.75" fill="#ee3344" fill-opacity="0.8"/>
<circle cx="376.19" cy="171.83" r="0.75" fill="#ee3344" fill-opacity="0.8"/>
<circle cx="375.42" cy="185.06" r="0.75" fill="#ee3344" fill-opacity="0.8"/>
<circle cx="375.48" cy="165.72" r="0.75" fill="#ee3344" fill-opacity="0.8"/>
<circle cx="376.99" cy="182.51" r="0.75" fill="#ee3344" fill-opacity="0.8"/>
<circle cx="376.09" cy="177.31" r="0.75" fill="#ee3344" fill-opacity="0.8"/>
<circle cx="375.01" cy="173.31" r="0.75" fill="#ee3344" fill-opacity="0.8"/>
<circle cx="378.05" cy="177.53" r="0.75" fill="#ee3344" fill-opacity="0.8"/>
<circle cx="374.73" cy="177.12" r="0.75" fill="#ee3344" fill-opacity="0.8"/>
<circle cx="374.34" cy="166.23" r="0.75" fill="#ee3344" fill-opacity="0.8"/>
<circle cx="376.86" cy="182.51" r="0.75" fill="#ee3344" fill-opacity="0.8"/>
<circle cx="374.56" cy="182.87" r="0.75" fill="#ee3344" fill-opacity="0.8"/>
<circle cx="377.78" cy="179.84" r="0.75" fill="#ee3344" fill-opacity="0.8"/>
<circle cx="377.65" cy="183.39" r="0.75" fill="#ee3344" fill-opacity="0.8"/>
<circle cx="375.01" cy="185.05" r="0.75" fill="#ee3344" fill-opacity="0.8"/>
<circle cx="377.76" cy="177.18" r="0.75" fill="#ee3344" fill-opacity="0.8"/>
<circle cx="376.68" cy="175.31" r="0.75" fill="#ee3344" fill-opacity="0.8"/>
<circle cx="374.71" cy="177.71" r="0.75" fill="#ee3344" fill-opacity="0.8"/>
<circle cx="374.83" cy="168.71" r="0.75" fill="#ee3344" fill-opacity="0.8"/>
<circle cx="375.77" cy="182.70" r="0.75" fill="#ee3344" fill-opacity="0.8"/>
<circle cx="376.08" cy="184.71" r="0.75" fill="#ee3344" fill-opacity="0.8"/>
<circle cx="375.82" cy="174.81" r="0.75" fill="#ee3344" fill-opacity="0.8"/>
<circle cx="375.66" cy="183.16" r="0.75" fill="#ee3344" fill-opacity="0.8"/>
<circle cx="376.94" cy="172.29" r="0.75" fill="#ee3344" fill-opacity="0.8"/>
<circle cx="374.95" cy="183.54" r="0.75" fill="#ee3344" fill-opacity="0.8"/>
<circle cx="377.51" cy="178.54" r="0.75" fill="#ee3344" fill-opacity="0.8"/>
<circle cx="374.99" cy="164.31" r="0.75" fill="#ee3344" fill-opacity="0.8"/>
<circle cx="376.94" cy="177.79" r="0.75" fill="#ee3344" fill-opacity="0.8"/>
<circle cx="377.01" cy="183.28" r="0.75" fill="#ee3344" fill-opacity="0.8"/>
<circle cx="375.80" cy="175.12" r="0.75" fill="#ee3344" fill-opacity="0.8"/>
<circle cx="374.62" cy="184.11" r="0.75" fill="#ee3344" fill-opacity="0.8"/>
<circle cx="376.73" cy="171.14" r="0.75" fill="#ee3344" fill-opacity="0.8"/>
<circle cx="376.56" cy="180.63" r="0.75" fill="#ee3344" fill-opacity="0.8"/>
<circle cx="375.78" cy="179.04" r="0.75" fill="#ee3344" fill-opacity="0.8"/>
<circle cx="377.83" cy="178.16" r="0.75" fill="#ee3344" fill-opacity="0.8"/>
<circle cx="374.97" cy="182.91" r="0.75" fill="#ee3344" fill-opacity="0.8"/>
<circle cx="376.57" cy="183.16" r="0.75" fill="#ee3344" fill-opacity="0.8"/>
<circle cx="378.06" cy="180.64" r="0.75" fill="#ee3344" fill-opacity="0.8"/>
<circle cx="375.57" cy="178.45" r="0.75" fill="#ee3344" fill-opacity="0.8"/>
<circle cx="374.94" cy="181.89" r="0.75" fill="#ee3344" fill-opacity="0.8"/>
<circle cx="376.52" cy="179.55" r="0.75" fill="#ee3344" fill-opacity="0.8"/>
<circle cx="375.11" cy="179.56" r="0.75" fill="#ee3344" fill-opacity="0.8"/>
<circle cx="378.33" cy="178.28" r="0.75" fill="#ee3344" fill-opacity="0.8"/>
<circle cx="378.49" cy="180.01" r="0.75" fill="#ee3344" fill-opacity="0.8"/>
<circle cx="375.12" cy="178.43" r="0.75" fill="#ee3344" fill-opacity="0.8"/>
<circle cx="375.16" cy="177.77" r="0.75" fill="#ee3344" fill-opacity="0.8"/>
<circle cx="375.93" cy="177.17" r="0.75" fill="#ee3344" fill-opacity="0.8"/>
<circle cx="376.88" cy="177.17" r="0.75" fill="#ee3344" fill-opacity="0.8"/>
<circle cx="376.82" cy="178.05" r="0.75" fill="#ee3344" fill-opacity="0.8"/>
<circle cx="377.90" cy="182.90" r="0.75" fill="#ee3344" fill-opacity="0.8"/>
<circle cx="377.43" cy="181.55" r="0.75" fill="#ee3344" fill-opacity="0.8"/>
<circle cx="377.35" cy="178.75" r="0.75" fill="#ee3344" fill-opacity="0.8"/>
<circle cx="377.93" cy="179.71" r="0.75" fill="#ee3344" fill-opacity="0.8"/>
<circle cx="376.16" cy="182.10" r="0.75" fill="#ee3344" fill-opacity="0.8"/>
<circle cx="374.70" cy="181.99" r="0.75" fill="#ee3344" fill-opacity="0.8"/>
<circle cx="377.08" cy="183.24" r="0.75" fill="#ee3344" fill-opacity="0.8"/>
<circle cx="374.30" cy="155.40" r="0.75" fill="#ee3344"/>
<line x1="365.90" y1="179.6" x2="381.80" y2="179.6" stroke="#333" stroke-width="0.8"/>
<circle cx="370.10" cy="179.6" r="1.6" fill="#000"/>
<path d="M394.01,155.00 L394.04,155.79 L394.09,156.59 L394.13,157.38 L394.19,158.18 L394.25,158.97 L394.33,159.77 L394.41,160.56 L394.50,161.36 L394.61,162.16 L394.72,162.95 L394.85,163.75 L394.99,164.54 L395.15,165.34 L395.31,166.13 L395.49,166.92 L395.68,167.72 L395.87,168.51 L396.08,169.31 L396.29,170.10 L396.50,170.90 L396.72,171.69 L396.94,172.49 L397.15,173.28 L397.36,174.08 L397.56,174.88 L397.75,175.67 L397.93,176.47 L398.09,177.26 L398.22,178.06 L398.34,178.85 L398.43,179.64 L398.50,180.44 L398.54,181.23 L398.55,182.03 L398.52,182.82 L398.45,183.62 L398.34,184.41 L398.18,185.21 L397.99,186.00 L397.77,186.80 L397.52,187.59 L397.26,188.39 L396.98,189.19 L396.69,189.98 L396.41,190.77 L396.13,191.57 L395.86,192.37 L395.61,193.16 L395.37,193.95 L395.15,194.75 L394.96,195.54 L394.78,196.34 L394.62,197.13 L394.48,197.93 L394.37,198.72 L394.27,199.52 L394.18,200.31 L394.11,201.11 L394.06,201.90 L394.01,202.70" fill="none" stroke="#555" stroke-width="0.6"/>
<line x1="390.15" y1="155.8" x2="390.15" y2="180.5" stroke="#999" stroke-width="0.9"/>
<line x1="390.15" y1="185.6" x2="390.15" y2="187.6" stroke="#999" stroke-width="0.9"/>
<line x1="388.65" y1="155.8" x2="391.65" y2="155.8" stroke="#555" stroke-width="0.75"/>
<line x1="388.65" y1="187.6" x2="391.65" y2="187.6" stroke="#555" stroke-width="0.75"/>
<rect x="386.95" y="180.5" width="6.40" height="5.10" fill="url(#hatch)" stroke="#4a4a4a" stroke-width="0.65"/>
<circle cx="396.11" cy="181.39" r="0.75" fill="#ee3344" fill-opacity="0.8"/>
<circle cx="395.99" cy="184.22" r="0.75" fill="#ee3344" fill-opacity="0.8"/>
<circle cx="394.99" cy="186.57" r="0.75" fill="#ee3344" fill-opacity="0.8"/>
<circle cx="395.82" cy="185.41" r="0.75" fill="#ee3344" fill-opacity="0.8"/>
<circle cx="394.48" cy="186.91" r="0.75" fill="#ee3344" fill-opacity="0.8"/>
<circle cx="397.58" cy="180.71" r="0.75" fill="#ee3344" fill-opacity="0.8"/>
<circle cx="395.84" cy="172.31" r="0.75" fill="#ee3344" fill-opacity="0.8"/>
<circle cx="396.33" cy="184.95" r="0.75" fill="#ee3344" fill-opacity="0.8"/>
<circle cx="396.27" cy="185.80" r="0.75" fill="#ee3344" fill-opacity="0.8"/>
<circle cx="395.07" cy="186.70" r="0.75" fill="#ee3344" fill-opacity="0.8"/>
<circle cx="397.52" cy="182.47" r="0.75" fill="#ee3344" fill-opacity="0.8"/>
<circle cx="395.55" cy="186.98" r="0.75" fill="#ee3344" fill-opacity="0.8"/>
<circle cx="396.01" cy="181.57" r="0.75" fill="#ee3344" fill-opacity="0.8"/>
<circle cx="396.09" cy="182.67" r="0.75" fill="#ee3344" fill-opacity="0.8"/>
<circle cx="395.45" cy="182.16" r="0.75" fill="#ee3344" fill-opacity="0.8"/>
<circle cx="397.95" cy="185.13" r="0.75" fill="#ee3344" fill-opacity="0.8"/>
<circle cx="397.68" cy="181.15" r="0.75" fill="#ee3344" fill-opacity="0.8"/>
<circle cx="394.89" cy="181.10" r="0.75" fill="#ee3344" fill-opacity="0.8"/>
<circle cx="396.30" cy="181.54" r="0.75" fill="#ee3344" fill-opacity="0.8"/>
<circle cx="398.35" cy="181.20" r="0.75" fill="#ee3344" fill-opacity="0.8"/>
<circle cx="397.60" cy="184.35" r="0.75" fill="#ee3344" fill-opacity="0.8"/>
<circle cx="395.54" cy="170.69" r="0.75" fill="#ee3344" fill-opacity="0.8"/>
<circle cx="395.65" cy="185.83" r="0.75" fill="#ee3344" fill-opacity="0.8"/>
<circle cx="394.78" cy="161.71" r="0.75" fill="#ee3344" fill-opacity="0.8"/>
<circle cx="395.60" cy="181.35" r="0.75" fill="#ee3344" fill-opacity="0.8"/>
<circle cx="396.99" cy="182.75" r="0.75" fill="#ee3344" fill-opacity="0.8"/>
<circle cx="398.22" cy="182.24" r="0.75" fill="#ee3344" fill-opacity="0.8"/>
<circle cx="394.90" cy="184.60" r="0.75" fill="#ee3344" fill-opacity="0.8"/>
<circle cx="394.39" cy="175.93" r="0.75" fill="#ee3344" fill-opacity="0.8"/>
<circle cx="394.72" cy="176.66" r="0.75" fill="#ee3344" fill-opacity="0.8"/>
<circle cx="397.57" cy="181.26" r="0.75" fill="#ee3344" fill-opacity="0.8"/>
<circle cx="398.08" cy="180.64" r="0.75" fill="#ee3344" fill-opacity="0.8"/>
<circle cx="396.55" cy="175.15" r="0.75" fill="#ee3344" fill-opacity="0.8"/>
<circle cx="395.17" cy="180.86" r="0.75" fill="#ee3344" fill-opacity="0.8"/>
<circle cx="397.38" cy="183.52" r="0.75" fill="#ee3344" fill-opacity="0.8"/>
<circle cx="396.34" cy="186.21" r="0.75" fill="#ee3344" fill-opacity="0.8"/>
<circle cx="394.93" cy="181.26" r="0.75" fill="#ee3344" fill-opacity="0.8"/>
<circle cx="396.25" cy="179.93" r="0.75" fill="#ee3344" fill-opacity="0.8"/>
<circle cx="396.40" cy="183.22" r="0.75" fill="#ee3344" fill-opacity="0.8"/>
<circle cx="394.37" cy="186.06" r="0.75" fill="#ee3344" fill-opacity="0.8"/>
<circle cx="394.35" cy="155.80" r="0.75" fill="#ee3344"/>
<line x1="385.95" y1="181.8" x2="401.85" y2="181.8" stroke="#333" stroke-width="0.8"/>
<circle cx="390.15" cy="181.8" r="1.6" fill="#000"/>
<path d="M414.09,137.20 L414.14,138.35 L414.19,139.49 L414.26,140.64 L414.34,141.79 L414.43,142.93 L414.54,144.08 L414.66,145.23 L414.80,146.37 L414.95,147.52 L415.13,148.67 L415.32,149.81 L415.53,150.96 L415.76,152.11 L416.00,153.25 L416.26,154.40 L416.53,155.55 L416.81,156.69 L417.10,157.84 L417.39,158.99 L417.68,160.13 L417.96,161.28 L418.24,162.43 L418.49,163.57 L418.73,164.72 L418.94,165.87 L419.12,167.01 L419.27,168.16 L419.39,169.31 L419.46,170.45 L419.50,171.60 L419.49,172.75 L419.44,173.89 L419.35,175.04 L419.22,176.19 L419.05,177.33 L418.85,178.48 L418.62,179.63 L418.37,180.77 L418.10,181.92 L417.81,183.07 L417.52,184.21 L417.22,185.36 L416.93,186.51 L416.64,187.65 L416.35,188.80 L416.08,189.95 L415.83,191.09 L415.59,192.24 L415.37,193.39 L415.17,194.53 L414.99,195.68 L414.82,196.83 L414.68,197.97 L414.55,199.12 L414.44,200.27 L414.35,201.41 L414.26,202.56 L414.20,203.71 L414.14,204.85 L414.09,206.00" fill="none" stroke="#555" stroke-width="0.6"/>
<line x1="410.20" y1="144.3" x2="410.20" y2="170.0" stroke="#999" stroke-width="0.9"/>
<line x1="410.20" y1="180.5" x2="410.20" y2="184.2" stroke="#999" stroke-width="0.9"/>
<line x1="408.70" y1="144.3" x2="411.70" y2="144.3" stroke="#555" stroke-width="0.75"/>
<line x1="408.70" y1="184.2" x2="411.70" y2="184.2" stroke="#555" stroke-width="0.75"/>
<rect x="407.00" y="170.0" width="6.40" height="10.50" fill="url(#hatch)" stroke="#4a4a4a" stroke-width="0.65"/>
<circle cx="417.02" cy="162.97" r="0.75" fill="#ee3344" fill-opacity="0.8"/>
<circle cx="417.36" cy="159.26" r="0.75" fill="#ee3344" fill-opacity="0.8"/>
<circle cx="417.37" cy="176.88" r="0.75" fill="#ee3344" fill-opacity="0.8"/>
<circle cx="417.62" cy="176.50" r="0.75" fill="#ee3344" fill-opacity="0.8"/>
<circle cx="418.24" cy="164.67" r="0.75" fill="#ee3344" fill-opacity="0.8"/>
<circle cx="417.20" cy="178.03" r="0.75" fill="#ee3344" fill-opacity="0.8"/>
<circle cx="415.90" cy="180.05" r="0.75" fill="#ee3344" fill-opacity="0.8"/>
<circle cx="418.14" cy="175.31" r="0.75" fill="#ee3344" fill-opacity="0.8"/>
<circle cx="416.49" cy="174.04" r="0.75" fill="#ee3344" fill-opacity="0.8"/>
<circle cx="415.63" cy="179.56" r="0.75" fill="#ee3344" fill-opacity="0.8"/>
<circle cx="415.31" cy="160.41" r="0.75" fill="#ee3344" fill-opacity="0.8"/>
<circle cx="416.86" cy="181.65" r="0.75" fill="#ee3344" fill-opacity="0.8"/>
<circle cx="415.20" cy="157.50" r="0.75" fill="#ee3344" fill-opacity="0.8"/>
<circle cx="418.06" cy="176.85" r="0.75" fill="#ee3344" fill-opacity="0.8"/>
<circle cx="418.36" cy="178.09" r="0.75" fill="#ee3344" fill-opacity="0.8"/>
<circle cx="415.86" cy="168.60" r="0.75" fill="#ee3344" fill-opacity="0.8"/>
<circle cx="419.00" cy="170.58" r="0.75" fill="#ee3344" fill-opacity="0.8"/>
<circle cx="418.04" cy="177.18" r="0.75" fill="#ee3344" fill-opacity="0.8"/>
<circle cx="417.45" cy="168.71" r="0.75" fill="#ee3344" fill-opacity="0.8"/>
<circle cx="417.63" cy="176.31" r="0.75" fill="#ee3344" fill-opacity="0.8"/>
<circle cx="416.51" cy="177.30" r="0.75" fill="#ee3344" fill-opacity="0.8"/>
<circle cx="414.43" cy="148.34" r="0.75" fill="#ee3344" fill-opacity="0.8"/>
<circle cx="414.40" cy="144.30" r="0.75" fill="#ee3344"/>
<line x1="406.00" y1="172.6" x2="421.90" y2="172.6" stroke="#333" stroke-width="0.8"/>
<circle cx="410.20" cy="172.6" r="1.6" fill="#000"/>
<path d="M434.13,132.90 L434.17,134.12 L434.22,135.33 L434.28,136.55 L434.36,137.77 L434.44,138.98 L434.54,140.20 L434.65,141.42 L434.78,142.63 L434.92,143.85 L435.08,145.07 L435.26,146.28 L435.45,147.50 L435.66,148.72 L435.88,149.93 L436.12,151.15 L436.37,152.37 L436.63,153.58 L436.90,154.80 L437.17,156.02 L437.43,157.23 L437.70,158.45 L437.95,159.67 L438.19,160.88 L438.41,162.10 L438.61,163.32 L438.78,164.53 L438.92,165.75 L439.03,166.97 L439.11,168.18 L439.15,169.40 L439.14,170.62 L439.10,171.83 L439.02,173.05 L438.91,174.27 L438.76,175.48 L438.57,176.70 L438.36,177.92 L438.13,179.13 L437.88,180.35 L437.61,181.57 L437.34,182.78 L437.06,184.00 L436.78,185.22 L436.51,186.43 L436.25,187.65 L435.99,188.87 L435.76,190.08 L435.53,191.30 L435.33,192.52 L435.14,193.73 L434.97,194.95 L434.81,196.17 L434.68,197.38 L434.56,198.60 L434.46,199.82 L434.37,201.03 L434.29,202.25 L434.23,203.47 L434.17,204.68 L434.13,205.90" fill="none" stroke="#555" stroke-width="0.6"/>
<line x1="430.25" y1="117.0" x2="430.25" y2="175.4" stroke="#999" stroke-width="0.9"/>
<line x1="430.25" y1="183.1" x2="430.25" y2="185.3" stroke="#999" stroke-width="0.9"/>
<line x1="428.75" y1="117.0" x2="431.75" y2="117.0" stroke="#555" stroke-width="0.75"/>
<line x1="428.75" y1="185.3" x2="431.75" y2="185.3" stroke="#555" stroke-width="0.75"/>
<rect x="427.05" y="175.4" width="6.40" height="7.70" fill="url(#hatch)" stroke="#4a4a4a" stroke-width="0.65"/>
<circle cx="435.78" cy="179.43" r="0.75" fill="#ee3344" fill-opacity="0.8"/>
<circle cx="435.65" cy="170.72" r="0.75" fill="#ee3344" fill-opacity="0.8"/>
<circle cx="435.66" cy="178.39" r="0.75" fill="#ee3344" fill-opacity="0.8"/>
<circle cx="437.58" cy="180.75" r="0.75" fill="#ee3344" fill-opacity="0.8"/>
<circle cx="434.59" cy="179.96" r="0.75" fill="#ee3344" fill-opacity="0.8"/>
<circle cx="436.16" cy="182.56" r="0.75" fill="#ee3344" fill-opacity="0.8"/>
<circle cx="434.89" cy="147.49" r="0.75" fill="#ee3344" fill-opacity="0.8"/>
<circle cx="437.07" cy="183.93" r="0.75" fill="#ee3344" fill-opacity="0.8"/>
<circle cx="434.84" cy="178.29" r="0.75" fill="#ee3344" fill-opacity="0.8"/>
<circle cx="435.08" cy="176.14" r="0.75" fill="#ee3344" fill-opacity="0.8"/>
<circle cx="437.49" cy="173.91" r="0.75" fill="#ee3344" fill-opacity="0.8"/>
<circle cx="434.68" cy="184.24" r="0.75" fill="#ee3344" fill-opacity="0.8"/>
<circle cx="437.72" cy="166.13" r="0.75" fill="#ee3344" fill-opacity="0.8"/>
<circle cx="437.85" cy="174.40" r="0.75" fill="#ee3344" fill-opacity="0.8"/>
<circle cx="434.81" cy="175.43" r="0.75" fill="#ee3344" fill-opacity="0.8"/>
<circle cx="434.45" cy="117.00" r="0.75" fill="#ee3344"/>
<line x1="426.05" y1="176.5" x2="441.95" y2="176.5" stroke="#333" stroke-width="0.8"/>
<circle cx="430.25" cy="176.5" r="1.6" fill="#000"/>
<path d="M454.18,79.80 L454.21,81.90 L454.25,84.00 L454.29,86.11 L454.34,88.21 L454.39,90.31 L454.46,92.41 L454.53,94.51 L454.60,96.61 L454.69,98.72 L454.79,100.82 L454.89,102.92 L455.01,105.02 L455.13,107.12 L455.27,109.22 L455.41,111.33 L455.57,113.43 L455.73,115.53 L455.90,117.63 L456.08,119.73 L456.27,121.83 L456.47,123.94 L456.67,126.04 L456.87,128.14 L457.08,130.24 L457.29,132.34 L457.49,134.44 L457.69,136.55 L457.89,138.65 L458.08,140.75 L458.26,142.85 L458.44,144.95 L458.59,147.05 L458.74,149.16 L458.86,151.26 L458.97,153.36 L459.06,155.46 L459.13,157.56 L459.17,159.66 L459.20,161.76 L459.19,163.87 L459.12,165.97 L458.96,168.07 L458.73,170.17 L458.44,172.27 L458.10,174.38 L457.73,176.48 L457.33,178.58 L456.93,180.68 L456.53,182.78 L456.16,184.88 L455.81,186.99 L455.49,189.09 L455.21,191.19 L454.96,193.29 L454.76,195.39 L454.58,197.49 L454.44,199.60 L454.33,201.70 L454.24,203.80 L454.18,205.90" fill="none" stroke="#555" stroke-width="0.6"/>
<line x1="450.30" y1="43.9" x2="450.30" y2="157.2" stroke="#999" stroke-width="0.9"/>
<line x1="450.30" y1="176.5" x2="450.30" y2="184.2" stroke="#999" stroke-width="0.9"/>
<line x1="448.80" y1="43.9" x2="451.80" y2="43.9" stroke="#555" stroke-width="0.75"/>
<line x1="448.80" y1="184.2" x2="451.80" y2="184.2" stroke="#555" stroke-width="0.75"/>
<rect x="447.10" y="157.2" width="6.40" height="19.30" fill="url(#hatch)" stroke="#4a4a4a" stroke-width="0.65"/>
<circle cx="456.39" cy="170.83" r="0.75" fill="#ee3344" fill-opacity="0.8"/>
<circle cx="454.56" cy="144.52" r="0.75" fill="#ee3344" fill-opacity="0.8"/>
<circle cx="454.80" cy="173.50" r="0.75" fill="#ee3344" fill-opacity="0.8"/>
<circle cx="455.17" cy="171.33" r="0.75" fill="#ee3344" fill-opacity="0.8"/>
<circle cx="454.90" cy="112.13" r="0.75" fill="#ee3344" fill-opacity="0.8"/>
<circle cx="457.63" cy="164.16" r="0.75" fill="#ee3344" fill-opacity="0.8"/>
<circle cx="455.88" cy="173.00" r="0.75" fill="#ee3344" fill-opacity="0.8"/>
<circle cx="456.31" cy="168.87" r="0.75" fill="#ee3344" fill-opacity="0.8"/>
<circle cx="458.14" cy="172.73" r="0.75" fill="#ee3344" fill-opacity="0.8"/>
<circle cx="454.62" cy="123.42" r="0.75" fill="#ee3344" fill-opacity="0.8"/>
<circle cx="455.55" cy="128.24" r="0.75" fill="#ee3344" fill-opacity="0.8"/>
<circle cx="454.51" cy="157.19" r="0.75" fill="#ee3344" fill-opacity="0.8"/>
<circle cx="457.22" cy="163.76" r="0.75" fill="#ee3344" fill-opacity="0.8"/>
<circle cx="458.15" cy="168.41" r="0.75" fill="#ee3344" fill-opacity="0.8"/>
<circle cx="455.75" cy="165.57" r="0.75" fill="#ee3344" fill-opacity="0.8"/>
<circle cx="458.66" cy="157.13" r="0.75" fill="#ee3344" fill-opacity="0.8"/>
<circle cx="456.99" cy="155.44" r="0.75" fill="#ee3344" fill-opacity="0.8"/>
<circle cx="456.66" cy="174.62" r="0.75" fill="#ee3344" fill-opacity="0.8"/>
<circle cx="455.45" cy="164.81" r="0.75" fill="#ee3344" fill-opacity="0.8"/>
<circle cx="457.65" cy="171.86" r="0.75" fill="#ee3344" fill-opacity="0.8"/>
<circle cx="458.13" cy="155.50" r="0.75" fill="#ee3344" fill-opacity="0.8"/>
<circle cx="456.72" cy="169.74" r="0.75" fill="#ee3344" fill-opacity="0.8"/>
<circle cx="455.34" cy="167.87" r="0.75" fill="#ee3344" fill-opacity="0.8"/>
<circle cx="457.71" cy="157.80" r="0.75" fill="#ee3344" fill-opacity="0.8"/>
<circle cx="456.30" cy="167.26" r="0.75" fill="#ee3344" fill-opacity="0.8"/>
<circle cx="454.70" cy="157.01" r="0.75" fill="#ee3344" fill-opacity="0.8"/>
<circle cx="454.88" cy="96.38" r="0.75" fill="#ee3344" fill-opacity="0.8"/>
<circle cx="458.68" cy="151.55" r="0.75" fill="#ee3344" fill-opacity="0.8"/>
<circle cx="455.40" cy="154.27" r="0.75" fill="#ee3344" fill-opacity="0.8"/>
<circle cx="454.73" cy="155.40" r="0.75" fill="#ee3344" fill-opacity="0.8"/>
<circle cx="456.11" cy="174.81" r="0.75" fill="#ee3344" fill-opacity="0.8"/>
<circle cx="456.90" cy="171.56" r="0.75" fill="#ee3344" fill-opacity="0.8"/>
<circle cx="458.85" cy="156.30" r="0.75" fill="#ee3344" fill-opacity="0.8"/>
<circle cx="457.37" cy="167.26" r="0.75" fill="#ee3344" fill-opacity="0.8"/>
<circle cx="455.99" cy="137.86" r="0.75" fill="#ee3344" fill-opacity="0.8"/>
<circle cx="457.59" cy="177.16" r="0.75" fill="#ee3344" fill-opacity="0.8"/>
<circle cx="455.64" cy="154.29" r="0.75" fill="#ee3344" fill-opacity="0.8"/>
<circle cx="457.57" cy="175.60" r="0.75" fill="#ee3344" fill-opacity="0.8"/>
<circle cx="458.24" cy="143.46" r="0.75" fill="#ee3344" fill-opacity="0.8"/>
<circle cx="457.94" cy="156.91" r="0.75" fill="#ee3344" fill-opacity="0.8"/>
<circle cx="456.52" cy="138.87" r="0.75" fill="#ee3344" fill-opacity="0.8"/>
<circle cx="454.75" cy="111.43" r="0.75" fill="#ee3344" fill-opacity="0.8"/>
<circle cx="454.55" cy="170.05" r="0.75" fill="#ee3344" fill-opacity="0.8"/>
<circle cx="457.91" cy="174.05" r="0.75" fill="#ee3344" fill-opacity="0.8"/>
<circle cx="456.45" cy="168.59" r="0.75" fill="#ee3344" fill-opacity="0.8"/>
<circle cx="457.26" cy="176.24" r="0.75" fill="#ee3344" fill-opacity="0.8"/>
<circle cx="456.07" cy="164.49" r="0.75" fill="#ee3344" fill-opacity="0.8"/>
<circle cx="456.10" cy="121.54" r="0.75" fill="#ee3344" fill-opacity="0.8"/>
<circle cx="455.22" cy="163.49" r="0.75" fill="#ee3344" fill-opacity="0.8"/>
<circle cx="455.72" cy="174.04" r="0.75" fill="#ee3344" fill-opacity="0.8"/>
<circle cx="455.96" cy="165.45" r="0.75" fill="#ee3344" fill-opacity="0.8"/>
<circle cx="456.08" cy="137.66" r="0.75" fill="#ee3344" fill-opacity="0.8"/>
<circle cx="455.43" cy="159.70" r="0.75" fill="#ee3344" fill-opacity="0.8"/>
<circle cx="457.50" cy="177.78" r="0.75" fill="#ee3344" fill-opacity="0.8"/>
<circle cx="457.59" cy="169.64" r="0.75" fill="#ee3344" fill-opacity="0.8"/>
<circle cx="454.50" cy="43.90" r="0.75" fill="#ee3344"/>
<line x1="446.10" y1="161.6" x2="462.00" y2="161.6" stroke="#333" stroke-width="0.8"/>
<circle cx="450.30" cy="161.6" r="1.6" fill="#000"/>
<path d="M474.25,157.90 L474.30,158.57 L474.36,159.24 L474.43,159.91 L474.51,160.58 L474.60,161.25 L474.72,161.92 L474.85,162.59 L474.99,163.26 L475.16,163.93 L475.34,164.60 L475.54,165.27 L475.77,165.94 L476.01,166.61 L476.27,167.28 L476.54,167.95 L476.83,168.62 L477.12,169.29 L477.43,169.96 L477.73,170.63 L478.03,171.30 L478.33,171.97 L478.61,172.64 L478.88,173.31 L479.12,173.98 L479.33,174.65 L479.51,175.32 L479.66,175.99 L479.76,176.66 L479.83,177.33 L479.85,178.00 L479.83,178.67 L479.76,179.34 L479.66,180.01 L479.51,180.68 L479.33,181.35 L479.12,182.02 L478.88,182.69 L478.61,183.36 L478.33,184.03 L478.03,184.70 L477.73,185.37 L477.43,186.04 L477.12,186.71 L476.83,187.38 L476.54,188.05 L476.27,188.72 L476.01,189.39 L475.77,190.06 L475.54,190.73 L475.34,191.40 L475.16,192.07 L474.99,192.74 L474.85,193.41 L474.72,194.08 L474.60,194.75 L474.51,195.42 L474.43,196.09 L474.36,196.76 L474.30,197.43 L474.25,198.10" fill="none" stroke="#555" stroke-width="0.6"/>
<line x1="470.35" y1="161.6" x2="470.35" y2="174.2" stroke="#999" stroke-width="0.9"/>
<line x1="470.35" y1="183.3" x2="470.35" y2="186.6" stroke="#999" stroke-width="0.9"/>
<line x1="468.85" y1="161.6" x2="471.85" y2="161.6" stroke="#555" stroke-width="0.75"/>
<line x1="468.85" y1="186.6" x2="471.85" y2="186.6" stroke="#555" stroke-width="0.75"/>
<rect x="467.15" y="174.2" width="6.40" height="9.10" fill="url(#hatch)" stroke="#4a4a4a" stroke-width="0.65"/>
<circle cx="474.61" cy="184.53" r="0.75" fill="#ee3344" fill-opacity="0.8"/>
<circle cx="474.56" cy="170.12" r="0.75" fill="#ee3344" fill-opacity="0.8"/>
<circle cx="476.62" cy="174.76" r="0.75" fill="#ee3344" fill-opacity="0.8"/>
<circle cx="475.36" cy="165.05" r="0.75" fill="#ee3344" fill-opacity="0.8"/>
<circle cx="474.68" cy="166.52" r="0.75" fill="#ee3344" fill-opacity="0.8"/>
<circle cx="475.97" cy="178.53" r="0.75" fill="#ee3344" fill-opacity="0.8"/>
<circle cx="478.11" cy="179.99" r="0.75" fill="#ee3344" fill-opacity="0.8"/>
<circle cx="474.88" cy="176.17" r="0.75" fill="#ee3344" fill-opacity="0.8"/>
<circle cx="474.75" cy="171.80" r="0.75" fill="#ee3344" fill-opacity="0.8"/>
<circle cx="474.61" cy="183.21" r="0.75" fill="#ee3344" fill-opacity="0.8"/>
<circle cx="476.37" cy="168.26" r="0.75" fill="#ee3344" fill-opacity="0.8"/>
<circle cx="476.27" cy="174.41" r="0.75" fill="#ee3344" fill-opacity="0.8"/>
<circle cx="476.61" cy="172.44" r="0.75" fill="#ee3344" fill-opacity="0.8"/>
<circle cx="475.18" cy="178.78" r="0.75" fill="#ee3344" fill-opacity="0.8"/>
<circle cx="476.00" cy="182.01" r="0.75" fill="#ee3344" fill-opacity="0.8"/>
<circle cx="474.55" cy="161.60" r="0.75" fill="#ee3344"/>
<line x1="466.15" y1="177.8" x2="482.05" y2="177.8" stroke="#333" stroke-width="0.8"/>
<circle cx="470.35" cy="177.8" r="1.6" fill="#000"/>
<path d="M494.24,165.30 L494.27,165.84 L494.31,166.37 L494.36,166.91 L494.42,167.44 L494.49,167.98 L494.57,168.51 L494.66,169.05 L494.77,169.58 L494.89,170.12 L495.02,170.65 L495.17,171.19 L495.33,171.72 L495.50,172.26 L495.69,172.79 L495.88,173.33 L496.09,173.86 L496.30,174.40 L496.51,174.93 L496.73,175.47 L496.94,176.00 L497.14,176.53 L497.34,177.07 L497.52,177.61 L497.68,178.14 L497.81,178.68 L497.93,179.21 L498.01,179.75 L498.07,180.28 L498.10,180.81 L498.09,181.35 L498.06,181.89 L498.00,182.42 L497.91,182.96 L497.80,183.49 L497.67,184.03 L497.51,184.56 L497.34,185.09 L497.16,185.63 L496.96,186.17 L496.76,186.70 L496.55,187.24 L496.35,187.77 L496.15,188.31 L495.95,188.84 L495.76,189.38 L495.57,189.91 L495.40,190.44 L495.24,190.98 L495.10,191.52 L494.96,192.05 L494.84,192.59 L494.73,193.12 L494.63,193.66 L494.55,194.19 L494.47,194.73 L494.41,195.26 L494.36,195.80 L494.31,196.33 L494.27,196.87 L494.24,197.40" fill="none" stroke="#555" stroke-width="0.6"/>
<line x1="490.40" y1="172.4" x2="490.40" y2="177.4" stroke="#999" stroke-width="0.9"/>
<line x1="490.40" y1="185.1" x2="490.40" y2="187.3" stroke="#999" stroke-width="0.9"/>
<line x1="488.90" y1="172.4" x2="491.90" y2="172.4" stroke="#555" stroke-width="0.75"/>
<line x1="488.90" y1="187.3" x2="491.90" y2="187.3" stroke="#555" stroke-width="0.75"/>
<rect x="487.20" y="177.4" width="6.40" height="7.70" fill="url(#hatch)" stroke="#4a4a4a" stroke-width="0.65"/>
<circle cx="494.79" cy="178.08" r="0.75" fill="#ee3344" fill-opacity="0.8"/>
<circle cx="495.76" cy="186.62" r="0.75" fill="#ee3344" fill-opacity="0.8"/>
<circle cx="494.67" cy="181.63" r="0.75" fill="#ee3344" fill-opacity="0.8"/>
<circle cx="494.84" cy="175.73" r="0.75" fill="#ee3344" fill-opacity="0.8"/>
<circle cx="494.69" cy="184.64" r="0.75" fill="#ee3344" fill-opacity="0.8"/>
<circle cx="495.23" cy="183.37" r="0.75" fill="#ee3344" fill-opacity="0.8"/>
<circle cx="496.57" cy="182.30" r="0.75" fill="#ee3344" fill-opacity="0.8"/>
<circle cx="494.93" cy="183.41" r="0.75" fill="#ee3344" fill-opacity="0.8"/>
<circle cx="494.60" cy="172.40" r="0.75" fill="#ee3344"/>
<line x1="486.20" y1="181.2" x2="502.10" y2="181.2" stroke="#333" stroke-width="0.8"/>
<circle cx="490.40" cy="181.2" r="1.6" fill="#000"/>
<path d="M514.28,128.20 L514.31,129.50 L514.34,130.81 L514.37,132.11 L514.41,133.41 L514.46,134.72 L514.51,136.02 L514.57,137.32 L514.63,138.63 L514.70,139.93 L514.79,141.23 L514.88,142.54 L514.97,143.84 L515.08,145.14 L515.19,146.45 L515.32,147.75 L515.45,149.05 L515.59,150.36 L515.73,151.66 L515.88,152.96 L516.04,154.27 L516.20,155.57 L516.36,156.87 L516.53,158.18 L516.69,159.48 L516.85,160.78 L517.00,162.09 L517.15,163.39 L517.30,164.69 L517.43,166.00 L517.55,167.30 L517.65,168.60 L517.75,169.91 L517.82,171.21 L517.88,172.51 L517.92,173.82 L517.95,175.12 L517.95,176.42 L517.91,177.73 L517.82,179.03 L517.70,180.33 L517.53,181.64 L517.34,182.94 L517.11,184.24 L516.87,185.55 L516.62,186.85 L516.36,188.15 L516.11,189.46 L515.86,190.76 L515.63,192.06 L515.41,193.37 L515.21,194.67 L515.03,195.97 L514.88,197.28 L514.74,198.58 L514.62,199.88 L514.52,201.19 L514.44,202.49 L514.38,203.79 L514.32,205.10 L514.28,206.40" fill="none" stroke="#555" stroke-width="0.6"/>
<line x1="510.45" y1="133.1" x2="510.45" y2="176.4" stroke="#999" stroke-width="0.9"/>
<line x1="510.45" y1="183.7" x2="510.45" y2="186.2" stroke="#999" stroke-width="0.9"/>
<line x1="508.95" y1="133.1" x2="511.95" y2="133.1" stroke="#555" stroke-width="0.75"/>
<line x1="508.95" y1="186.2" x2="511.95" y2="186.2" stroke="#555" stroke-width="0.75"/>
<rect x="507.25" y="176.4" width="6.40" height="7.30" fill="url(#hatch)" stroke="#4a4a4a" stroke-width="0.65"/>
<circle cx="515.04" cy="171.18" r="0.75" fill="#ee3344" fill-opacity="0.8"/>
<circle cx="515.52" cy="180.08" r="0.75" fill="#ee3344" fill-opacity="0.8"/>
<circle cx="515.09" cy="179.10" r="0.75" fill="#ee3344" fill-opacity="0.8"/>
<circle cx="515.03" cy="183.77" r="0.75" fill="#ee3344" fill-opacity="0.8"/>
<circle cx="515.11" cy="182.60" r="0.75" fill="#ee3344" fill-opacity="0.8"/>
<circle cx="515.80" cy="182.89" r="0.75" fill="#ee3344" fill-opacity="0.8"/>
<circle cx="516.80" cy="161.01" r="0.75" fill="#ee3344" fill-opacity="0.8"/>
<circle cx="515.03" cy="151.08" r="0.75" fill="#ee3344" fill-opacity="0.8"/>
<circle cx="516.57" cy="185.01" r="0.75" fill="#ee3344" fill-opacity="0.8"/>
<circle cx="514.83" cy="176.38" r="0.75" fill="#ee3344" fill-opacity="0.8"/>
<circle cx="514.65" cy="133.10" r="0.75" fill="#ee3344"/>
<line x1="506.25" y1="176.1" x2="522.15" y2="176.1" stroke="#333" stroke-width="0.8"/>
<circle cx="510.45" cy="176.1" r="1.6" fill="#000"/>
<path d="M534.35,147.20 L534.39,148.09 L534.43,148.98 L534.48,149.86 L534.54,150.75 L534.60,151.64 L534.68,152.53 L534.77,153.42 L534.88,154.31 L534.99,155.19 L535.12,156.08 L535.26,156.97 L535.42,157.86 L535.59,158.75 L535.77,159.64 L535.96,160.53 L536.16,161.41 L536.37,162.30 L536.59,163.19 L536.81,164.08 L537.03,164.97 L537.25,165.85 L537.47,166.74 L537.67,167.63 L537.86,168.52 L538.04,169.41 L538.19,170.30 L538.33,171.19 L538.44,172.07 L538.52,172.96 L538.57,173.85 L538.60,174.74 L538.59,175.63 L538.55,176.51 L538.47,177.40 L538.36,178.29 L538.22,179.18 L538.05,180.07 L537.86,180.96 L537.65,181.84 L537.42,182.73 L537.19,183.62 L536.95,184.51 L536.71,185.40 L536.47,186.29 L536.24,187.18 L536.01,188.06 L535.80,188.95 L535.60,189.84 L535.42,190.73 L535.25,191.62 L535.09,192.50 L534.96,193.39 L534.84,194.28 L534.73,195.17 L534.64,196.06 L534.56,196.95 L534.49,197.84 L534.44,198.72 L534.39,199.61 L534.35,200.50" fill="none" stroke="#555" stroke-width="0.6"/>
<line x1="530.50" y1="147.7" x2="530.50" y2="169.9" stroke="#999" stroke-width="0.9"/>
<line x1="530.50" y1="180.8" x2="530.50" y2="186.4" stroke="#999" stroke-width="0.9"/>
<line x1="529.00" y1="147.7" x2="532.00" y2="147.7" stroke="#555" stroke-width="0.75"/>
<line x1="529.00" y1="186.4" x2="532.00" y2="186.4" stroke="#555" stroke-width="0.75"/>
<rect x="527.30" y="169.9" width="6.40" height="10.90" fill="url(#hatch)" stroke="#4a4a4a" stroke-width="0.65"/>
<circle cx="537.52" cy="181.69" r="0.75" fill="#ee3344" fill-opacity="0.8"/>
<circle cx="537.14" cy="173.87" r="0.75" fill="#ee3344" fill-opacity="0.8"/>
<circle cx="534.97" cy="175.46" r="0.75" fill="#ee3344" fill-opacity="0.8"/>
<circle cx="534.78" cy="175.08" r="0.75" fill="#ee3344" fill-opacity="0.8"/>
<circle cx="537.01" cy="181.86" r="0.75" fill="#ee3344" fill-opacity="0.8"/>
<circle cx="538.01" cy="172.21" r="0.75" fill="#ee3344" fill-opacity="0.8"/>
<circle cx="535.35" cy="183.47" r="0.75" fill="#ee3344" fill-opacity="0.8"/>
<circle cx="538.37" cy="174.04" r="0.75" fill="#ee3344" fill-opacity="0.8"/>
<circle cx="537.12" cy="172.17" r="0.75" fill="#ee3344" fill-opacity="0.8"/>
<circle cx="538.37" cy="176.38" r="0.75" fill="#ee3344" fill-opacity="0.8"/>
<circle cx="536.42" cy="171.63" r="0.75" fill="#ee3344" fill-opacity="0.8"/>
<circle cx="535.12" cy="169.88" r="0.75" fill="#ee3344" fill-opacity="0.8"/>
<circle cx="536.21" cy="172.00" r="0.75" fill="#ee3344" fill-opacity="0.8"/>
<circle cx="535.02" cy="171.27" r="0.75" fill="#ee3344" fill-opacity="0.8"/>
<circle cx="536.76" cy="179.96" r="0.75" fill="#ee3344" fill-opacity="0.8"/>
<circle cx="535.46" cy="177.20" r="0.75" fill="#ee3344" fill-opacity="0.8"/>
<circle cx="536.25" cy="165.54" r="0.75" fill="#ee3344" fill-opacity="0.8"/>
<circle cx="535.61" cy="172.25" r="0.75" fill="#ee3344" fill-opacity="0.8"/>
<circle cx="536.19" cy="175.19" r="0.75" fill="#ee3344" fill-opacity="0.8"/>
<circle cx="535.78" cy="167.89" r="0.75" fill="#ee3344" fill-opacity="0.8"/>
<circle cx="537.46" cy="166.72" r="0.75" fill="#ee3344" fill-opacity="0.8"/>
<circle cx="535.26" cy="178.98" r="0.75" fill="#ee3344" fill-opacity="0.8"/>
<circle cx="536.15" cy="180.42" r="0.75" fill="#ee3344" fill-opacity="0.8"/>
<circle cx="536.39" cy="173.38" r="0.75" fill="#ee3344" fill-opacity="0.8"/>
<circle cx="537.71" cy="171.55" r="0.75" fill="#ee3344" fill-opacity="0.8"/>
<circle cx="537.39" cy="178.49" r="0.75" fill="#ee3344" fill-opacity="0.8"/>
<circle cx="535.19" cy="175.12" r="0.75" fill="#ee3344" fill-opacity="0.8"/>
<circle cx="538.08" cy="170.37" r="0.75" fill="#ee3344" fill-opacity="0.8"/>
<circle cx="534.70" cy="147.70" r="0.75" fill="#ee3344"/>
<line x1="526.30" y1="175.3" x2="542.20" y2="175.3" stroke="#333" stroke-width="0.8"/>
<circle cx="530.50" cy="175.3" r="1.6" fill="#000"/>
<path d="M554.40,164.70 L554.44,165.26 L554.48,165.82 L554.54,166.38 L554.60,166.94 L554.67,167.50 L554.75,168.06 L554.85,168.62 L554.95,169.18 L555.07,169.74 L555.21,170.30 L555.36,170.86 L555.52,171.42 L555.70,171.98 L555.89,172.54 L556.09,173.10 L556.30,173.66 L556.52,174.22 L556.75,174.78 L556.98,175.34 L557.21,175.90 L557.43,176.46 L557.65,177.02 L557.86,177.58 L558.05,178.14 L558.23,178.70 L558.38,179.26 L558.51,179.82 L558.62,180.38 L558.69,180.94 L558.74,181.50 L558.75,182.06 L558.73,182.62 L558.67,183.18 L558.58,183.74 L558.46,184.30 L558.31,184.86 L558.13,185.42 L557.93,185.98 L557.71,186.54 L557.48,187.10 L557.24,187.66 L557.00,188.22 L556.76,188.78 L556.52,189.34 L556.28,189.90 L556.06,190.46 L555.85,191.02 L555.65,191.58 L555.47,192.14 L555.30,192.70 L555.15,193.26 L555.01,193.82 L554.89,194.38 L554.78,194.94 L554.69,195.50 L554.61,196.06 L554.55,196.62 L554.49,197.18 L554.44,197.74 L554.40,198.30" fill="none" stroke="#555" stroke-width="0.6"/>
<line x1="550.55" y1="168.1" x2="550.55" y2="179.3" stroke="#999" stroke-width="0.9"/>
<line x1="550.55" y1="185.2" x2="550.55" y2="186.2" stroke="#999" stroke-width="0.9"/>
<line x1="549.05" y1="168.1" x2="552.05" y2="168.1" stroke="#555" stroke-width="0.75"/>
<line x1="549.05" y1="186.2" x2="552.05" y2="186.2" stroke="#555" stroke-width="0.75"/>
<rect x="547.35" y="179.3" width="6.40" height="5.90" fill="url(#hatch)" stroke="#4a4a4a" stroke-width="0.65"/>
<circle cx="557.86" cy="181.50" r="0.75" fill="#ee3344" fill-opacity="0.8"/>
<circle cx="556.37" cy="179.09" r="0.75" fill="#ee3344" fill-opacity="0.8"/>
<circle cx="555.85" cy="183.96" r="0.75" fill="#ee3344" fill-opacity="0.8"/>
<circle cx="556.27" cy="182.61" r="0.75" fill="#ee3344" fill-opacity="0.8"/>
<circle cx="557.85" cy="184.48" r="0.75" fill="#ee3344" fill-opacity="0.8"/>
<circle cx="555.48" cy="181.71" r="0.75" fill="#ee3344" fill-opacity="0.8"/>
<circle cx="556.84" cy="179.29" r="0.75" fill="#ee3344" fill-opacity="0.8"/>
<circle cx="557.99" cy="178.83" r="0.75" fill="#ee3344" fill-opacity="0.8"/>
<circle cx="557.71" cy="184.93" r="0.75" fill="#ee3344" fill-opacity="0.8"/>
<circle cx="554.92" cy="184.58" r="0.75" fill="#ee3344" fill-opacity="0.8"/>
<circle cx="558.41" cy="182.14" r="0.75" fill="#ee3344" fill-opacity="0.8"/>
<circle cx="556.87" cy="177.47" r="0.75" fill="#ee3344" fill-opacity="0.8"/>
<circle cx="557.09" cy="181.01" r="0.75" fill="#ee3344" fill-opacity="0.8"/>
<circle cx="556.96" cy="185.78" r="0.75" fill="#ee3344" fill-opacity="0.8"/>
<circle cx="556.08" cy="178.92" r="0.75" fill="#ee3344" fill-opacity="0.8"/>
<circle cx="554.75" cy="168.10" r="0.75" fill="#ee3344"/>
<line x1="546.35" y1="181.8" x2="562.25" y2="181.8" stroke="#333" stroke-width="0.8"/>
<circle cx="550.55" cy="181.8" r="1.6" fill="#000"/>
<path d="M574.45,152.30 L574.49,153.20 L574.53,154.10 L574.58,155.01 L574.64,155.91 L574.71,156.81 L574.79,157.71 L574.88,158.61 L574.98,159.51 L575.09,160.42 L575.22,161.32 L575.36,162.22 L575.51,163.12 L575.68,164.02 L575.86,164.92 L576.05,165.83 L576.25,166.73 L576.46,167.63 L576.68,168.53 L576.90,169.43 L577.12,170.33 L577.34,171.24 L577.56,172.14 L577.77,173.04 L577.97,173.94 L578.15,174.84 L578.32,175.74 L578.46,176.65 L578.59,177.55 L578.68,178.45 L578.75,179.35 L578.79,180.25 L578.80,181.15 L578.77,182.06 L578.71,182.96 L578.61,183.86 L578.48,184.76 L578.32,185.66 L578.13,186.56 L577.92,187.47 L577.69,188.37 L577.45,189.27 L577.20,190.17 L576.94,191.07 L576.69,191.97 L576.45,192.88 L576.21,193.78 L575.99,194.68 L575.78,195.58 L575.58,196.48 L575.40,197.38 L575.24,198.29 L575.10,199.19 L574.97,200.09 L574.85,200.99 L574.76,201.89 L574.67,202.79 L574.60,203.69 L574.54,204.60 L574.49,205.50 L574.45,206.40" fill="none" stroke="#555" stroke-width="0.6"/>
<line x1="570.60" y1="150.1" x2="570.60" y2="180.5" stroke="#999" stroke-width="0.9"/>
<line x1="570.60" y1="185.6" x2="570.60" y2="186.6" stroke="#999" stroke-width="0.9"/>
<line x1="569.10" y1="150.1" x2="572.10" y2="150.1" stroke="#555" stroke-width="0.75"/>
<line x1="569.10" y1="186.6" x2="572.10" y2="186.6" stroke="#555" stroke-width="0.75"/>
<rect x="567.40" y="180.5" width="6.40" height="5.10" fill="url(#hatch)" stroke="#4a4a4a" stroke-width="0.65"/>
<circle cx="577.00" cy="183.48" r="0.75" fill="#ee3344" fill-opacity="0.8"/>
<circle cx="576.38" cy="185.30" r="0.75" fill="#ee3344" fill-opacity="0.8"/>
<circle cx="575.94" cy="186.57" r="0.75" fill="#ee3344" fill-opacity="0.8"/>
<circle cx="575.41" cy="185.29" r="0.75" fill="#ee3344" fill-opacity="0.8"/>
<circle cx="577.58" cy="186.45" r="0.75" fill="#ee3344" fill-opacity="0.8"/>
<circle cx="578.35" cy="180.27" r="0.75" fill="#ee3344" fill-opacity="0.8"/>
<circle cx="578.34" cy="185.32" r="0.75" fill="#ee3344" fill-opacity="0.8"/>
<circle cx="575.17" cy="165.46" r="0.75" fill="#ee3344" fill-opacity="0.8"/>
<circle cx="575.53" cy="183.07" r="0.75" fill="#ee3344" fill-opacity="0.8"/>
<circle cx="577.08" cy="183.97" r="0.75" fill="#ee3344" fill-opacity="0.8"/>
<circle cx="576.92" cy="186.56" r="0.75" fill="#ee3344" fill-opacity="0.8"/>
<circle cx="577.90" cy="182.41" r="0.75" fill="#ee3344" fill-opacity="0.8"/>
<circle cx="574.80" cy="150.10" r="0.75" fill="#ee3344"/>
<line x1="566.40" y1="180.8" x2="582.30" y2="180.8" stroke="#333" stroke-width="0.8"/>
<circle cx="570.60" cy="180.8" r="1.6" fill="#000"/>
<line x1="586.4" y1="183.8" x2="602.2" y2="183.8" stroke="#666" stroke-width="0.8"/>
<circle cx="590.4" cy="183.8" r="1.6" fill="#000"/>
<circle cx="594.6" cy="183.8" r="0.7" fill="#e8333f"/>
<path d="M614.59,132.20 L614.63,133.43 L614.68,134.65 L614.74,135.88 L614.80,137.11 L614.88,138.33 L614.96,139.56 L615.06,140.79 L615.17,142.01 L615.29,143.24 L615.42,144.47 L615.57,145.69 L615.73,146.92 L615.91,148.15 L616.10,149.37 L616.30,150.60 L616.52,151.83 L616.74,153.05 L616.98,154.28 L617.23,155.51 L617.48,156.73 L617.74,157.96 L617.99,159.19 L618.25,160.41 L618.50,161.64 L618.74,162.87 L618.98,164.09 L619.19,165.32 L619.40,166.55 L619.58,167.77 L619.73,169.00 L619.87,170.23 L619.97,171.45 L620.04,172.68 L620.09,173.91 L620.10,175.13 L620.06,176.36 L619.97,177.59 L619.81,178.81 L619.61,180.04 L619.36,181.27 L619.07,182.49 L618.75,183.72 L618.41,184.95 L618.05,186.17 L617.70,187.40 L617.34,188.63 L617.00,189.85 L616.67,191.08 L616.36,192.31 L616.08,193.53 L615.82,194.76 L615.59,195.99 L615.38,197.21 L615.20,198.44 L615.05,199.67 L614.92,200.89 L614.81,202.12 L614.73,203.35 L614.65,204.57 L614.59,205.80" fill="none" stroke="#555" stroke-width="0.6"/>
<line x1="610.70" y1="155.2" x2="610.70" y2="164.1" stroke="#999" stroke-width="0.9"/>
<line x1="610.70" y1="185.1" x2="610.70" y2="187.4" stroke="#999" stroke-width="0.9"/>
<line x1="609.20" y1="155.2" x2="612.20" y2="155.2" stroke="#555" stroke-width="0.75"/>
<line x1="609.20" y1="187.4" x2="612.20" y2="187.4" stroke="#555" stroke-width="0.75"/>
<rect x="607.50" y="164.1" width="6.40" height="21.00" fill="url(#hatch)" stroke="#4a4a4a" stroke-width="0.65"/>
<circle cx="614.92" cy="178.34" r="0.75" fill="#ee3344" fill-opacity="0.8"/>
<circle cx="617.34" cy="182.39" r="0.75" fill="#ee3344" fill-opacity="0.8"/>
<circle cx="617.00" cy="165.15" r="0.75" fill="#ee3344" fill-opacity="0.8"/>
<circle cx="617.82" cy="167.00" r="0.75" fill="#ee3344" fill-opacity="0.8"/>
<circle cx="616.67" cy="186.52" r="0.75" fill="#ee3344" fill-opacity="0.8"/>
<circle cx="615.51" cy="163.14" r="0.75" fill="#ee3344" fill-opacity="0.8"/>
<circle cx="615.41" cy="158.63" r="0.75" fill="#ee3344" fill-opacity="0.8"/>
<circle cx="617.52" cy="181.88" r="0.75" fill="#ee3344" fill-opacity="0.8"/>
<circle cx="616.99" cy="157.20" r="0.75" fill="#ee3344" fill-opacity="0.8"/>
<circle cx="616.60" cy="179.00" r="0.75" fill="#ee3344" fill-opacity="0.8"/>
<circle cx="615.35" cy="167.02" r="0.75" fill="#ee3344" fill-opacity="0.8"/>
<circle cx="617.20" cy="173.95" r="0.75" fill="#ee3344" fill-opacity="0.8"/>
<circle cx="614.90" cy="155.20" r="0.75" fill="#ee3344"/>
<line x1="606.50" y1="174.3" x2="622.40" y2="174.3" stroke="#333" stroke-width="0.8"/>
<circle cx="610.70" cy="174.3" r="1.6" fill="#000"/>
<path d="M634.62,162.10 L634.66,162.78 L634.71,163.45 L634.77,164.13 L634.84,164.81 L634.92,165.48 L635.01,166.16 L635.12,166.84 L635.24,167.51 L635.38,168.19 L635.53,168.87 L635.70,169.54 L635.89,170.22 L636.09,170.90 L636.31,171.57 L636.54,172.25 L636.78,172.93 L637.03,173.60 L637.28,174.28 L637.54,174.96 L637.79,175.63 L638.04,176.31 L638.28,176.99 L638.50,177.66 L638.71,178.34 L638.89,179.02 L639.05,179.69 L639.17,180.37 L639.27,181.05 L639.33,181.72 L639.35,182.40 L639.34,183.08 L639.29,183.75 L639.20,184.43 L639.08,185.11 L638.93,185.78 L638.75,186.46 L638.55,187.14 L638.33,187.81 L638.09,188.49 L637.84,189.17 L637.58,189.84 L637.33,190.52 L637.07,191.20 L636.82,191.87 L636.57,192.55 L636.34,193.23 L636.12,193.90 L635.91,194.58 L635.72,195.26 L635.55,195.93 L635.39,196.61 L635.25,197.29 L635.13,197.96 L635.02,198.64 L634.92,199.32 L634.84,199.99 L634.77,200.67 L634.71,201.35 L634.66,202.02 L634.62,202.70" fill="none" stroke="#555" stroke-width="0.6"/>
<line x1="630.75" y1="170.2" x2="630.75" y2="180.0" stroke="#999" stroke-width="0.9"/>
<line x1="630.75" y1="186.1" x2="630.75" y2="189.7" stroke="#999" stroke-width="0.9"/>
<line x1="629.25" y1="170.2" x2="632.25" y2="170.2" stroke="#555" stroke-width="0.75"/>
<line x1="629.25" y1="189.7" x2="632.25" y2="189.7" stroke="#555" stroke-width="0.75"/>
<rect x="627.55" y="180.0" width="6.40" height="6.10" fill="url(#hatch)" stroke="#4a4a4a" stroke-width="0.65"/>
<circle cx="638.49" cy="179.26" r="0.75" fill="#ee3344" fill-opacity="0.8"/>
<circle cx="636.52" cy="187.24" r="0.75" fill="#ee3344" fill-opacity="0.8"/>
<circle cx="635.14" cy="180.98" r="0.75" fill="#ee3344" fill-opacity="0.8"/>
<circle cx="638.25" cy="186.87" r="0.75" fill="#ee3344" fill-opacity="0.8"/>
<circle cx="637.87" cy="176.12" r="0.75" fill="#ee3344" fill-opacity="0.8"/>
<circle cx="635.82" cy="187.16" r="0.75" fill="#ee3344" fill-opacity="0.8"/>
<circle cx="635.86" cy="185.12" r="0.75" fill="#ee3344" fill-opacity="0.8"/>
<circle cx="636.78" cy="186.50" r="0.75" fill="#ee3344" fill-opacity="0.8"/>
<circle cx="634.95" cy="170.20" r="0.75" fill="#ee3344"/>
<line x1="626.55" y1="182.5" x2="642.45" y2="182.5" stroke="#333" stroke-width="0.8"/>
<circle cx="630.75" cy="182.5" r="1.6" fill="#000"/>
<path d="M654.68,152.90 L654.72,153.78 L654.77,154.66 L654.82,155.55 L654.88,156.43 L654.95,157.31 L655.03,158.19 L655.13,159.07 L655.23,159.95 L655.35,160.84 L655.48,161.72 L655.62,162.60 L655.78,163.48 L655.95,164.36 L656.13,165.24 L656.33,166.12 L656.54,167.01 L656.76,167.89 L656.99,168.77 L657.23,169.65 L657.47,170.53 L657.71,171.42 L657.96,172.30 L658.20,173.18 L658.43,174.06 L658.66,174.94 L658.87,175.82 L659.07,176.71 L659.25,177.59 L659.41,178.47 L659.54,179.35 L659.65,180.23 L659.73,181.11 L659.78,182.00 L659.80,182.88 L659.78,183.76 L659.71,184.64 L659.59,185.52 L659.42,186.40 L659.20,187.29 L658.96,188.17 L658.68,189.05 L658.38,189.93 L658.06,190.81 L657.74,191.69 L657.42,192.58 L657.10,193.46 L656.80,194.34 L656.51,195.22 L656.24,196.10 L655.99,196.98 L655.76,197.87 L655.56,198.75 L655.38,199.63 L655.22,200.51 L655.09,201.39 L654.97,202.27 L654.88,203.16 L654.80,204.04 L654.73,204.92 L654.68,205.80" fill="none" stroke="#555" stroke-width="0.6"/>
<line x1="650.80" y1="169.3" x2="650.80" y2="178.5" stroke="#999" stroke-width="0.9"/>
<line x1="650.80" y1="188.6" x2="650.80" y2="188.6" stroke="#999" stroke-width="0.9"/>
<line x1="649.30" y1="169.3" x2="652.30" y2="169.3" stroke="#555" stroke-width="0.75"/>
<line x1="649.30" y1="188.6" x2="652.30" y2="188.6" stroke="#555" stroke-width="0.75"/>
<rect x="647.60" y="178.5" width="6.40" height="10.10" fill="url(#hatch)" stroke="#4a4a4a" stroke-width="0.65"/>
<circle cx="656.23" cy="174.00" r="0.75" fill="#ee3344" fill-opacity="0.8"/>
<circle cx="656.14" cy="188.26" r="0.75" fill="#ee3344" fill-opacity="0.8"/>
<circle cx="657.28" cy="177.87" r="0.75" fill="#ee3344" fill-opacity="0.8"/>
<circle cx="655.31" cy="181.37" r="0.75" fill="#ee3344" fill-opacity="0.8"/>
<circle cx="656.53" cy="186.49" r="0.75" fill="#ee3344" fill-opacity="0.8"/>
<circle cx="656.25" cy="178.80" r="0.75" fill="#ee3344" fill-opacity="0.8"/>
<circle cx="655.00" cy="169.30" r="0.75" fill="#ee3344"/>
<line x1="646.60" y1="183.5" x2="662.50" y2="183.5" stroke="#333" stroke-width="0.8"/>
<circle cx="650.80" cy="183.5" r="1.6" fill="#000"/>
<path d="M674.73,119.20 L674.76,120.65 L674.80,122.09 L674.85,123.54 L674.90,124.99 L674.95,126.43 L675.02,127.88 L675.09,129.33 L675.17,130.77 L675.26,132.22 L675.36,133.67 L675.47,135.11 L675.59,136.56 L675.72,138.01 L675.86,139.45 L676.01,140.90 L676.17,142.35 L676.34,143.79 L676.52,145.24 L676.70,146.69 L676.90,148.13 L677.10,149.58 L677.31,151.03 L677.52,152.47 L677.73,153.92 L677.94,155.37 L678.15,156.81 L678.36,158.26 L678.56,159.71 L678.76,161.15 L678.94,162.60 L679.11,164.05 L679.27,165.49 L679.41,166.94 L679.54,168.39 L679.64,169.83 L679.73,171.28 L679.79,172.73 L679.83,174.17 L679.85,175.62 L679.83,177.07 L679.73,178.51 L679.55,179.96 L679.30,181.41 L678.99,182.85 L678.64,184.30 L678.26,185.75 L677.86,187.19 L677.46,188.64 L677.07,190.09 L676.69,191.53 L676.34,192.98 L676.03,194.43 L675.75,195.87 L675.51,197.32 L675.31,198.77 L675.14,200.21 L675.00,201.66 L674.89,203.11 L674.80,204.55 L674.73,206.00" fill="none" stroke="#555" stroke-width="0.6"/>
<line x1="670.85" y1="142.2" x2="670.85" y2="187.8" stroke="#999" stroke-width="0.9"/>
<line x1="670.85" y1="189.7" x2="670.85" y2="189.5" stroke="#999" stroke-width="0.9"/>
<line x1="669.35" y1="142.2" x2="672.35" y2="142.2" stroke="#555" stroke-width="0.75"/>
<line x1="669.35" y1="189.5" x2="672.35" y2="189.5" stroke="#555" stroke-width="0.75"/>
<rect x="667.65" y="187.8" width="6.40" height="1.90" fill="url(#hatch)" stroke="#4a4a4a" stroke-width="0.65"/>
<circle cx="676.89" cy="187.49" r="0.75" fill="#ee3344" fill-opacity="0.8"/>
<circle cx="676.96" cy="187.74" r="0.75" fill="#ee3344" fill-opacity="0.8"/>
<circle cx="677.25" cy="187.98" r="0.75" fill="#ee3344" fill-opacity="0.8"/>
<circle cx="677.18" cy="188.34" r="0.75" fill="#ee3344" fill-opacity="0.8"/>
<circle cx="676.60" cy="149.73" r="0.75" fill="#ee3344" fill-opacity="0.8"/>
<circle cx="675.52" cy="189.41" r="0.75" fill="#ee3344" fill-opacity="0.8"/>
<circle cx="676.97" cy="166.08" r="0.75" fill="#ee3344" fill-opacity="0.8"/>
<circle cx="675.68" cy="188.89" r="0.75" fill="#ee3344" fill-opacity="0.8"/>
<circle cx="675.05" cy="142.20" r="0.75" fill="#ee3344"/>
<line x1="666.65" y1="181.2" x2="682.55" y2="181.2" stroke="#333" stroke-width="0.8"/>
<circle cx="670.85" cy="181.2" r="1.6" fill="#000"/>
<text x="681.2" y="24.3" font-size="7.9" font-weight="bold" text-anchor="end" fill="#111" style="stroke:none" font-family="Liberation Sans, sans-serif">(Unit:ten millionRMB)</text>
<rect x="549" y="34.5" width="19" height="9" fill="url(#hatch)" stroke="#777" stroke-width="0.6"/>
<text x="570.7" y="42.2" font-size="8.2" font-weight="bold" fill="#111" style="stroke:none" font-family="Liberation Sans, sans-serif">25%~75%</text>
<line x1="559" y1="45.8" x2="559" y2="53" stroke="#aaa" stroke-width="0.9"/>
<line x1="557.5" y1="45.8" x2="560.5" y2="45.8" stroke="#888" stroke-width="0.7"/>
<line x1="557.5" y1="53" x2="560.5" y2="53" stroke="#888" stroke-width="0.7"/>
<text x="571.1" y="52.6" font-size="8.2" font-weight="bold" fill="#111" style="stroke:none" font-family="Liberation Sans, sans-serif">min~max</text>
<rect x="558" y="58.1" width="2" height="2" fill="#000"/>
<text x="568.2" y="62.2" font-size="8.2" font-weight="bold" fill="#111" style="stroke:none" font-family="Liberation Sans, sans-serif">average value</text>
<circle cx="559" cy="69.9" r="0.8" fill="#ee3344"/>
<text x="568.2" y="72.8" font-size="8.2" font-weight="bold" fill="#111" style="stroke:none" font-family="Liberation Sans, sans-serif">incineration plant economics</text>
<text x="0" y="11.8" font-size="12.8" font-weight="bold" fill="#111" font-family="Liberation Sans, sans-serif">(a)</text>
<rect x="74.30" y="500.85" width="16.4" height="0.15" fill="#8f4a70" stroke="#000" stroke-opacity="0.72" stroke-width="0.55"/>
<rect x="74.30" y="500.78" width="16.4" height="0.06" fill="#c44a8e" stroke="#000" stroke-opacity="0.72" stroke-width="0.55"/>
<rect x="74.30" y="499.61" width="16.4" height="1.17" fill="#d4665a" stroke="#000" stroke-opacity="0.72" stroke-width="0.55"/>
<rect x="74.30" y="499.36" width="16.4" height="0.25" fill="#e58c50" stroke="#000" stroke-opacity="0.72" stroke-width="0.55"/>
<rect x="74.30" y="499.15" width="16.4" height="0.21" fill="#eec060" stroke="#000" stroke-opacity="0.72" stroke-width="0.55"/>
<rect x="74.30" y="498.90" width="16.4" height="0.25" fill="#74f46c" stroke="#000" stroke-opacity="0.72" stroke-width="0.55"/>
<rect x="74.30" y="498.73" width="16.4" height="0.18" fill="#c4dc76" stroke="#000" stroke-opacity="0.72" stroke-width="0.55"/>
<rect x="74.30" y="498.50" width="16.4" height="0.22" fill="#b6e690" stroke="#000" stroke-opacity="0.72" stroke-width="0.55"/>
<rect x="74.30" y="498.50" width="16.4" height="2.50" fill="none" stroke="#555" stroke-width="0.7"/>
<rect x="94.63" y="500.91" width="16.4" height="0.09" fill="#8f4a70" stroke="#000" stroke-opacity="0.72" stroke-width="0.55"/>
<rect x="94.63" y="500.88" width="16.4" height="0.03" fill="#c44a8e" stroke="#000" stroke-opacity="0.72" stroke-width="0.55"/>
<rect x="94.63" y="500.22" width="16.4" height="0.66" fill="#d4665a" stroke="#000" stroke-opacity="0.72" stroke-width="0.55"/>
<rect x="94.63" y="500.08" width="16.4" height="0.14" fill="#e58c50" stroke="#000" stroke-opacity="0.72" stroke-width="0.55"/>
<rect x="94.63" y="499.96" width="16.4" height="0.12" fill="#eec060" stroke="#000" stroke-opacity="0.72" stroke-width="0.55"/>
<rect x="94.63" y="499.82" width="16.4" height="0.14" fill="#74f46c" stroke="#000" stroke-opacity="0.72" stroke-width="0.55"/>
<rect x="94.63" y="499.73" width="16.4" height="0.10" fill="#c4dc76" stroke="#000" stroke-opacity="0.72" stroke-width="0.55"/>
<rect x="94.63" y="499.60" width="16.4" height="0.13" fill="#b6e690" stroke="#000" stroke-opacity="0.72" stroke-width="0.55"/>
<rect x="94.63" y="499.60" width="16.4" height="1.40" fill="none" stroke="#555" stroke-width="0.7"/>
<rect x="114.96" y="500.69" width="16.4" height="0.31" fill="#8f4a70" stroke="#000" stroke-opacity="0.72" stroke-width="0.55"/>
<rect x="114.96" y="500.56" width="16.4" height="0.12" fill="#c44a8e" stroke="#000" stroke-opacity="0.72" stroke-width="0.55"/>
<rect x="114.96" y="498.21" width="16.4" height="2.35" fill="#d4665a" stroke="#000" stroke-opacity="0.72" stroke-width="0.55"/>
<rect x="114.96" y="497.71" width="16.4" height="0.50" fill="#e58c50" stroke="#000" stroke-opacity="0.72" stroke-width="0.55"/>
<rect x="114.96" y="497.30" width="16.4" height="0.42" fill="#eec060" stroke="#000" stroke-opacity="0.72" stroke-width="0.55"/>
<rect x="114.96" y="496.80" width="16.4" height="0.50" fill="#74f46c" stroke="#000" stroke-opacity="0.72" stroke-width="0.55"/>
<rect x="114.96" y="496.45" width="16.4" height="0.35" fill="#c4dc76" stroke="#000" stroke-opacity="0.72" stroke-width="0.55"/>
<rect x="114.96" y="496.00" width="16.4" height="0.45" fill="#b6e690" stroke="#000" stroke-opacity="0.72" stroke-width="0.55"/>
<rect x="114.96" y="496.00" width="16.4" height="5.00" fill="none" stroke="#555" stroke-width="0.7"/>
<rect x="135.29" y="500.45" width="16.4" height="0.55" fill="#8f4a70" stroke="#000" stroke-opacity="0.72" stroke-width="0.55"/>
<rect x="135.29" y="500.23" width="16.4" height="0.22" fill="#c44a8e" stroke="#000" stroke-opacity="0.72" stroke-width="0.55"/>
<rect x="135.29" y="496.10" width="16.4" height="4.14" fill="#d4665a" stroke="#000" stroke-opacity="0.72" stroke-width="0.55"/>
<rect x="135.29" y="495.22" width="16.4" height="0.88" fill="#e58c50" stroke="#000" stroke-opacity="0.72" stroke-width="0.55"/>
<rect x="135.29" y="494.49" width="16.4" height="0.73" fill="#eec060" stroke="#000" stroke-opacity="0.72" stroke-width="0.55"/>
<rect x="135.29" y="493.61" width="16.4" height="0.88" fill="#74f46c" stroke="#000" stroke-opacity="0.72" stroke-width="0.55"/>
<rect x="135.29" y="492.99" width="16.4" height="0.62" fill="#c4dc76" stroke="#000" stroke-opacity="0.72" stroke-width="0.55"/>
<rect x="135.29" y="492.20" width="16.4" height="0.79" fill="#b6e690" stroke="#000" stroke-opacity="0.72" stroke-width="0.55"/>
<rect x="135.29" y="492.20" width="16.4" height="8.80" fill="none" stroke="#555" stroke-width="0.7"/>
<rect x="155.62" y="500.45" width="16.4" height="0.55" fill="#8f4a70" stroke="#000" stroke-opacity="0.72" stroke-width="0.55"/>
<rect x="155.62" y="500.23" width="16.4" height="0.22" fill="#c44a8e" stroke="#000" stroke-opacity="0.72" stroke-width="0.55"/>
<rect x="155.62" y="496.10" width="16.4" height="4.14" fill="#d4665a" stroke="#000" stroke-opacity="0.72" stroke-width="0.55"/>
<rect x="155.62" y="495.22" width="16.4" height="0.88" fill="#e58c50" stroke="#000" stroke-opacity="0.72" stroke-width="0.55"/>
<rect x="155.62" y="494.49" width="16.4" height="0.73" fill="#eec060" stroke="#000" stroke-opacity="0.72" stroke-width="0.55"/>
<rect x="155.62" y="493.61" width="16.4" height="0.88" fill="#74f46c" stroke="#000" stroke-opacity="0.72" stroke-width="0.55"/>
<rect x="155.62" y="492.99" width="16.4" height="0.62" fill="#c4dc76" stroke="#000" stroke-opacity="0.72" stroke-width="0.55"/>
<rect x="155.62" y="492.20" width="16.4" height="0.79" fill="#b6e690" stroke="#000" stroke-opacity="0.72" stroke-width="0.55"/>
<rect x="155.62" y="492.20" width="16.4" height="8.80" fill="none" stroke="#555" stroke-width="0.7"/>
<rect x="175.95" y="500.50" width="16.4" height="0.50" fill="#8f4a70" stroke="#000" stroke-opacity="0.72" stroke-width="0.55"/>
<rect x="175.95" y="500.30" width="16.4" height="0.20" fill="#c44a8e" stroke="#000" stroke-opacity="0.72" stroke-width="0.55"/>
<rect x="175.95" y="496.54" width="16.4" height="3.76" fill="#d4665a" stroke="#000" stroke-opacity="0.72" stroke-width="0.55"/>
<rect x="175.95" y="495.74" width="16.4" height="0.80" fill="#e58c50" stroke="#000" stroke-opacity="0.72" stroke-width="0.55"/>
<rect x="175.95" y="495.08" width="16.4" height="0.66" fill="#eec060" stroke="#000" stroke-opacity="0.72" stroke-width="0.55"/>
<rect x="175.95" y="494.28" width="16.4" height="0.80" fill="#74f46c" stroke="#000" stroke-opacity="0.72" stroke-width="0.55"/>
<rect x="175.95" y="493.72" width="16.4" height="0.56" fill="#c4dc76" stroke="#000" stroke-opacity="0.72" stroke-width="0.55"/>
<rect x="175.95" y="493.00" width="16.4" height="0.72" fill="#b6e690" stroke="#000" stroke-opacity="0.72" stroke-width="0.55"/>
<rect x="175.95" y="493.00" width="16.4" height="8.00" fill="none" stroke="#555" stroke-width="0.7"/>
<rect x="196.28" y="498.99" width="16.4" height="2.02" fill="#8f4a70" stroke="#000" stroke-opacity="0.72" stroke-width="0.55"/>
<rect x="196.28" y="498.17" width="16.4" height="0.81" fill="#c44a8e" stroke="#000" stroke-opacity="0.72" stroke-width="0.55"/>
<rect x="196.28" y="482.90" width="16.4" height="15.27" fill="#d4665a" stroke="#000" stroke-opacity="0.72" stroke-width="0.55"/>
<rect x="196.28" y="479.65" width="16.4" height="3.25" fill="#e58c50" stroke="#000" stroke-opacity="0.72" stroke-width="0.55"/>
<rect x="196.28" y="476.95" width="16.4" height="2.70" fill="#eec060" stroke="#000" stroke-opacity="0.72" stroke-width="0.55"/>
<rect x="196.28" y="473.70" width="16.4" height="3.25" fill="#74f46c" stroke="#000" stroke-opacity="0.72" stroke-width="0.55"/>
<rect x="196.28" y="471.43" width="16.4" height="2.28" fill="#c4dc76" stroke="#000" stroke-opacity="0.72" stroke-width="0.55"/>
<rect x="196.28" y="468.50" width="16.4" height="2.92" fill="#b6e690" stroke="#000" stroke-opacity="0.72" stroke-width="0.55"/>
<rect x="196.28" y="468.50" width="16.4" height="32.50" fill="none" stroke="#555" stroke-width="0.7"/>
<rect x="216.61" y="500.63" width="16.4" height="0.37" fill="#8f4a70" stroke="#000" stroke-opacity="0.72" stroke-width="0.55"/>
<rect x="216.61" y="500.48" width="16.4" height="0.15" fill="#c44a8e" stroke="#000" stroke-opacity="0.72" stroke-width="0.55"/>
<rect x="216.61" y="497.66" width="16.4" height="2.82" fill="#d4665a" stroke="#000" stroke-opacity="0.72" stroke-width="0.55"/>
<rect x="216.61" y="497.06" width="16.4" height="0.60" fill="#e58c50" stroke="#000" stroke-opacity="0.72" stroke-width="0.55"/>
<rect x="216.61" y="496.56" width="16.4" height="0.50" fill="#eec060" stroke="#000" stroke-opacity="0.72" stroke-width="0.55"/>
<rect x="216.61" y="495.96" width="16.4" height="0.60" fill="#74f46c" stroke="#000" stroke-opacity="0.72" stroke-width="0.55"/>
<rect x="216.61" y="495.54" width="16.4" height="0.42" fill="#c4dc76" stroke="#000" stroke-opacity="0.72" stroke-width="0.55"/>
<rect x="216.61" y="495.00" width="16.4" height="0.54" fill="#b6e690" stroke="#000" stroke-opacity="0.72" stroke-width="0.55"/>
<rect x="216.61" y="495.00" width="16.4" height="6.00" fill="none" stroke="#555" stroke-width="0.7"/>
<rect x="236.94" y="498.80" width="16.4" height="2.20" fill="#8f4a70" stroke="#000" stroke-opacity="0.72" stroke-width="0.55"/>
<rect x="236.94" y="497.91" width="16.4" height="0.89" fill="#c44a8e" stroke="#000" stroke-opacity="0.72" stroke-width="0.55"/>
<rect x="236.94" y="481.23" width="16.4" height="16.68" fill="#d4665a" stroke="#000" stroke-opacity="0.72" stroke-width="0.55"/>
<rect x="236.94" y="477.68" width="16.4" height="3.55" fill="#e58c50" stroke="#000" stroke-opacity="0.72" stroke-width="0.55"/>
<rect x="236.94" y="474.73" width="16.4" height="2.95" fill="#eec060" stroke="#000" stroke-opacity="0.72" stroke-width="0.55"/>
<rect x="236.94" y="471.18" width="16.4" height="3.55" fill="#74f46c" stroke="#000" stroke-opacity="0.72" stroke-width="0.55"/>
<rect x="236.94" y="468.69" width="16.4" height="2.49" fill="#c4dc76" stroke="#000" stroke-opacity="0.72" stroke-width="0.55"/>
<rect x="236.94" y="465.50" width="16.4" height="3.19" fill="#b6e690" stroke="#000" stroke-opacity="0.72" stroke-width="0.55"/>
<rect x="236.94" y="465.50" width="16.4" height="35.50" fill="none" stroke="#555" stroke-width="0.7"/>
<rect x="257.27" y="499.72" width="16.4" height="1.28" fill="#8f4a70" stroke="#000" stroke-opacity="0.72" stroke-width="0.55"/>
<rect x="257.27" y="499.21" width="16.4" height="0.52" fill="#c44a8e" stroke="#000" stroke-opacity="0.72" stroke-width="0.55"/>
<rect x="257.27" y="489.53" width="16.4" height="9.68" fill="#d4665a" stroke="#000" stroke-opacity="0.72" stroke-width="0.55"/>
<rect x="257.27" y="487.47" width="16.4" height="2.06" fill="#e58c50" stroke="#000" stroke-opacity="0.72" stroke-width="0.55"/>
<rect x="257.27" y="485.76" width="16.4" height="1.71" fill="#eec060" stroke="#000" stroke-opacity="0.72" stroke-width="0.55"/>
<rect x="257.27" y="483.70" width="16.4" height="2.06" fill="#74f46c" stroke="#000" stroke-opacity="0.72" stroke-width="0.55"/>
<rect x="257.27" y="482.25" width="16.4" height="1.44" fill="#c4dc76" stroke="#000" stroke-opacity="0.72" stroke-width="0.55"/>
<rect x="257.27" y="480.40" width="16.4" height="1.85" fill="#b6e690" stroke="#000" stroke-opacity="0.72" stroke-width="0.55"/>
<rect x="257.27" y="480.40" width="16.4" height="20.60" fill="none" stroke="#555" stroke-width="0.7"/>
<rect x="277.60" y="500.17" width="16.4" height="0.83" fill="#8f4a70" stroke="#000" stroke-opacity="0.72" stroke-width="0.55"/>
<rect x="277.60" y="499.83" width="16.4" height="0.33" fill="#c44a8e" stroke="#000" stroke-opacity="0.72" stroke-width="0.55"/>
<rect x="277.60" y="493.54" width="16.4" height="6.30" fill="#d4665a" stroke="#000" stroke-opacity="0.72" stroke-width="0.55"/>
<rect x="277.60" y="492.20" width="16.4" height="1.34" fill="#e58c50" stroke="#000" stroke-opacity="0.72" stroke-width="0.55"/>
<rect x="277.60" y="491.08" width="16.4" height="1.11" fill="#eec060" stroke="#000" stroke-opacity="0.72" stroke-width="0.55"/>
<rect x="277.60" y="489.74" width="16.4" height="1.34" fill="#74f46c" stroke="#000" stroke-opacity="0.72" stroke-width="0.55"/>
<rect x="277.60" y="488.81" width="16.4" height="0.94" fill="#c4dc76" stroke="#000" stroke-opacity="0.72" stroke-width="0.55"/>
<rect x="277.60" y="487.60" width="16.4" height="1.21" fill="#b6e690" stroke="#000" stroke-opacity="0.72" stroke-width="0.55"/>
<rect x="277.60" y="487.60" width="16.4" height="13.40" fill="none" stroke="#555" stroke-width="0.7"/>
<rect x="297.93" y="498.10" width="16.4" height="2.90" fill="#8f4a70" stroke="#000" stroke-opacity="0.72" stroke-width="0.55"/>
<rect x="297.93" y="496.93" width="16.4" height="1.17" fill="#c44a8e" stroke="#000" stroke-opacity="0.72" stroke-width="0.55"/>
<rect x="297.93" y="474.93" width="16.4" height="22.00" fill="#d4665a" stroke="#000" stroke-opacity="0.72" stroke-width="0.55"/>
<rect x="297.93" y="470.25" width="16.4" height="4.68" fill="#e58c50" stroke="#000" stroke-opacity="0.72" stroke-width="0.55"/>
<rect x="297.93" y="466.37" width="16.4" height="3.88" fill="#eec060" stroke="#000" stroke-opacity="0.72" stroke-width="0.55"/>
<rect x="297.93" y="461.69" width="16.4" height="4.68" fill="#74f46c" stroke="#000" stroke-opacity="0.72" stroke-width="0.55"/>
<rect x="297.93" y="458.41" width="16.4" height="3.28" fill="#c4dc76" stroke="#000" stroke-opacity="0.72" stroke-width="0.55"/>
<rect x="297.93" y="454.20" width="16.4" height="4.21" fill="#b6e690" stroke="#000" stroke-opacity="0.72" stroke-width="0.55"/>
<rect x="297.93" y="454.20" width="16.4" height="46.80" fill="none" stroke="#555" stroke-width="0.7"/>
<rect x="318.26" y="500.21" width="16.4" height="0.79" fill="#8f4a70" stroke="#000" stroke-opacity="0.72" stroke-width="0.55"/>
<rect x="318.26" y="499.90" width="16.4" height="0.32" fill="#c44a8e" stroke="#000" stroke-opacity="0.72" stroke-width="0.55"/>
<rect x="318.26" y="493.93" width="16.4" height="5.97" fill="#d4665a" stroke="#000" stroke-opacity="0.72" stroke-width="0.55"/>
<rect x="318.26" y="492.66" width="16.4" height="1.27" fill="#e58c50" stroke="#000" stroke-opacity="0.72" stroke-width="0.55"/>
<rect x="318.26" y="491.60" width="16.4" height="1.05" fill="#eec060" stroke="#000" stroke-opacity="0.72" stroke-width="0.55"/>
<rect x="318.26" y="490.33" width="16.4" height="1.27" fill="#74f46c" stroke="#000" stroke-opacity="0.72" stroke-width="0.55"/>
<rect x="318.26" y="489.44" width="16.4" height="0.89" fill="#c4dc76" stroke="#000" stroke-opacity="0.72" stroke-width="0.55"/>
<rect x="318.26" y="488.30" width="16.4" height="1.14" fill="#b6e690" stroke="#000" stroke-opacity="0.72" stroke-width="0.55"/>
<rect x="318.26" y="488.30" width="16.4" height="12.70" fill="none" stroke="#555" stroke-width="0.7"/>
<rect x="338.59" y="499.56" width="16.4" height="1.44" fill="#8f4a70" stroke="#000" stroke-opacity="0.72" stroke-width="0.55"/>
<rect x="338.59" y="498.97" width="16.4" height="0.58" fill="#c44a8e" stroke="#000" stroke-opacity="0.72" stroke-width="0.55"/>
<rect x="338.59" y="488.02" width="16.4" height="10.95" fill="#d4665a" stroke="#000" stroke-opacity="0.72" stroke-width="0.55"/>
<rect x="338.59" y="485.69" width="16.4" height="2.33" fill="#e58c50" stroke="#000" stroke-opacity="0.72" stroke-width="0.55"/>
<rect x="338.59" y="483.76" width="16.4" height="1.93" fill="#eec060" stroke="#000" stroke-opacity="0.72" stroke-width="0.55"/>
<rect x="338.59" y="481.43" width="16.4" height="2.33" fill="#74f46c" stroke="#000" stroke-opacity="0.72" stroke-width="0.55"/>
<rect x="338.59" y="479.80" width="16.4" height="1.63" fill="#c4dc76" stroke="#000" stroke-opacity="0.72" stroke-width="0.55"/>
<rect x="338.59" y="477.70" width="16.4" height="2.10" fill="#b6e690" stroke="#000" stroke-opacity="0.72" stroke-width="0.55"/>
<rect x="338.59" y="477.70" width="16.4" height="23.30" fill="none" stroke="#555" stroke-width="0.7"/>
<rect x="358.92" y="500.74" width="16.4" height="0.26" fill="#8f4a70" stroke="#000" stroke-opacity="0.72" stroke-width="0.55"/>
<rect x="358.92" y="500.63" width="16.4" height="0.10" fill="#c44a8e" stroke="#000" stroke-opacity="0.72" stroke-width="0.55"/>
<rect x="358.92" y="498.66" width="16.4" height="1.97" fill="#d4665a" stroke="#000" stroke-opacity="0.72" stroke-width="0.55"/>
<rect x="358.92" y="498.24" width="16.4" height="0.42" fill="#e58c50" stroke="#000" stroke-opacity="0.72" stroke-width="0.55"/>
<rect x="358.92" y="497.89" width="16.4" height="0.35" fill="#eec060" stroke="#000" stroke-opacity="0.72" stroke-width="0.55"/>
<rect x="358.92" y="497.47" width="16.4" height="0.42" fill="#74f46c" stroke="#000" stroke-opacity="0.72" stroke-width="0.55"/>
<rect x="358.92" y="497.18" width="16.4" height="0.29" fill="#c4dc76" stroke="#000" stroke-opacity="0.72" stroke-width="0.55"/>
<rect x="358.92" y="496.80" width="16.4" height="0.38" fill="#b6e690" stroke="#000" stroke-opacity="0.72" stroke-width="0.55"/>
<rect x="358.92" y="496.80" width="16.4" height="4.20" fill="none" stroke="#555" stroke-width="0.7"/>
<rect x="379.25" y="499.52" width="16.4" height="1.48" fill="#8f4a70" stroke="#000" stroke-opacity="0.72" stroke-width="0.55"/>
<rect x="379.25" y="498.93" width="16.4" height="0.60" fill="#c44a8e" stroke="#000" stroke-opacity="0.72" stroke-width="0.55"/>
<rect x="379.25" y="487.74" width="16.4" height="11.19" fill="#d4665a" stroke="#000" stroke-opacity="0.72" stroke-width="0.55"/>
<rect x="379.25" y="485.36" width="16.4" height="2.38" fill="#e58c50" stroke="#000" stroke-opacity="0.72" stroke-width="0.55"/>
<rect x="379.25" y="483.39" width="16.4" height="1.98" fill="#eec060" stroke="#000" stroke-opacity="0.72" stroke-width="0.55"/>
<rect x="379.25" y="481.01" width="16.4" height="2.38" fill="#74f46c" stroke="#000" stroke-opacity="0.72" stroke-width="0.55"/>
<rect x="379.25" y="479.34" width="16.4" height="1.67" fill="#c4dc76" stroke="#000" stroke-opacity="0.72" stroke-width="0.55"/>
<rect x="379.25" y="477.20" width="16.4" height="2.14" fill="#b6e690" stroke="#000" stroke-opacity="0.72" stroke-width="0.55"/>
<rect x="379.25" y="477.20" width="16.4" height="23.80" fill="none" stroke="#555" stroke-width="0.7"/>
<rect x="399.58" y="500.01" width="16.4" height="0.99" fill="#8f4a70" stroke="#000" stroke-opacity="0.72" stroke-width="0.55"/>
<rect x="399.58" y="499.61" width="16.4" height="0.40" fill="#c44a8e" stroke="#000" stroke-opacity="0.72" stroke-width="0.55"/>
<rect x="399.58" y="492.09" width="16.4" height="7.52" fill="#d4665a" stroke="#000" stroke-opacity="0.72" stroke-width="0.55"/>
<rect x="399.58" y="490.49" width="16.4" height="1.60" fill="#e58c50" stroke="#000" stroke-opacity="0.72" stroke-width="0.55"/>
<rect x="399.58" y="489.16" width="16.4" height="1.33" fill="#eec060" stroke="#000" stroke-opacity="0.72" stroke-width="0.55"/>
<rect x="399.58" y="487.56" width="16.4" height="1.60" fill="#74f46c" stroke="#000" stroke-opacity="0.72" stroke-width="0.55"/>
<rect x="399.58" y="486.44" width="16.4" height="1.12" fill="#c4dc76" stroke="#000" stroke-opacity="0.72" stroke-width="0.55"/>
<rect x="399.58" y="485.00" width="16.4" height="1.44" fill="#b6e690" stroke="#000" stroke-opacity="0.72" stroke-width="0.55"/>
<rect x="399.58" y="485.00" width="16.4" height="16.00" fill="none" stroke="#555" stroke-width="0.7"/>
<rect x="419.91" y="500.33" width="16.4" height="0.67" fill="#8f4a70" stroke="#000" stroke-opacity="0.72" stroke-width="0.55"/>
<rect x="419.91" y="500.06" width="16.4" height="0.27" fill="#c44a8e" stroke="#000" stroke-opacity="0.72" stroke-width="0.55"/>
<rect x="419.91" y="494.98" width="16.4" height="5.08" fill="#d4665a" stroke="#000" stroke-opacity="0.72" stroke-width="0.55"/>
<rect x="419.91" y="493.90" width="16.4" height="1.08" fill="#e58c50" stroke="#000" stroke-opacity="0.72" stroke-width="0.55"/>
<rect x="419.91" y="493.01" width="16.4" height="0.90" fill="#eec060" stroke="#000" stroke-opacity="0.72" stroke-width="0.55"/>
<rect x="419.91" y="491.93" width="16.4" height="1.08" fill="#74f46c" stroke="#000" stroke-opacity="0.72" stroke-width="0.55"/>
<rect x="419.91" y="491.17" width="16.4" height="0.76" fill="#c4dc76" stroke="#000" stroke-opacity="0.72" stroke-width="0.55"/>
<rect x="419.91" y="490.20" width="16.4" height="0.97" fill="#b6e690" stroke="#000" stroke-opacity="0.72" stroke-width="0.55"/>
<rect x="419.91" y="490.20" width="16.4" height="10.80" fill="none" stroke="#555" stroke-width="0.7"/>
<rect x="440.24" y="498.03" width="16.4" height="2.97" fill="#8f4a70" stroke="#000" stroke-opacity="0.72" stroke-width="0.55"/>
<rect x="440.24" y="496.83" width="16.4" height="1.20" fill="#c44a8e" stroke="#000" stroke-opacity="0.72" stroke-width="0.55"/>
<rect x="440.24" y="474.32" width="16.4" height="22.51" fill="#d4665a" stroke="#000" stroke-opacity="0.72" stroke-width="0.55"/>
<rect x="440.24" y="469.53" width="16.4" height="4.79" fill="#e58c50" stroke="#000" stroke-opacity="0.72" stroke-width="0.55"/>
<rect x="440.24" y="465.55" width="16.4" height="3.98" fill="#eec060" stroke="#000" stroke-opacity="0.72" stroke-width="0.55"/>
<rect x="440.24" y="460.76" width="16.4" height="4.79" fill="#74f46c" stroke="#000" stroke-opacity="0.72" stroke-width="0.55"/>
<rect x="440.24" y="457.41" width="16.4" height="3.35" fill="#c4dc76" stroke="#000" stroke-opacity="0.72" stroke-width="0.55"/>
<rect x="440.24" y="453.10" width="16.4" height="4.31" fill="#b6e690" stroke="#000" stroke-opacity="0.72" stroke-width="0.55"/>
<rect x="440.24" y="453.10" width="16.4" height="47.90" fill="none" stroke="#555" stroke-width="0.7"/>
<rect x="460.57" y="496.86" width="16.4" height="4.14" fill="#8f4a70" stroke="#000" stroke-opacity="0.72" stroke-width="0.55"/>
<rect x="460.57" y="495.20" width="16.4" height="1.67" fill="#c44a8e" stroke="#000" stroke-opacity="0.72" stroke-width="0.55"/>
<rect x="460.57" y="463.85" width="16.4" height="31.35" fill="#d4665a" stroke="#000" stroke-opacity="0.72" stroke-width="0.55"/>
<rect x="460.57" y="457.18" width="16.4" height="6.67" fill="#e58c50" stroke="#000" stroke-opacity="0.72" stroke-width="0.55"/>
<rect x="460.57" y="451.64" width="16.4" height="5.54" fill="#eec060" stroke="#000" stroke-opacity="0.72" stroke-width="0.55"/>
<rect x="460.57" y="444.97" width="16.4" height="6.67" fill="#74f46c" stroke="#000" stroke-opacity="0.72" stroke-width="0.55"/>
<rect x="460.57" y="440.30" width="16.4" height="4.67" fill="#c4dc76" stroke="#000" stroke-opacity="0.72" stroke-width="0.55"/>
<rect x="460.57" y="434.30" width="16.4" height="6.00" fill="#b6e690" stroke="#000" stroke-opacity="0.72" stroke-width="0.55"/>
<rect x="460.57" y="434.30" width="16.4" height="66.70" fill="none" stroke="#555" stroke-width="0.7"/>
<rect x="480.90" y="500.31" width="16.4" height="0.69" fill="#8f4a70" stroke="#000" stroke-opacity="0.72" stroke-width="0.55"/>
<rect x="480.90" y="500.03" width="16.4" height="0.28" fill="#c44a8e" stroke="#000" stroke-opacity="0.72" stroke-width="0.55"/>
<rect x="480.90" y="494.76" width="16.4" height="5.26" fill="#d4665a" stroke="#000" stroke-opacity="0.72" stroke-width="0.55"/>
<rect x="480.90" y="493.64" width="16.4" height="1.12" fill="#e58c50" stroke="#000" stroke-opacity="0.72" stroke-width="0.55"/>
<rect x="480.90" y="492.71" width="16.4" height="0.93" fill="#eec060" stroke="#000" stroke-opacity="0.72" stroke-width="0.55"/>
<rect x="480.90" y="491.59" width="16.4" height="1.12" fill="#74f46c" stroke="#000" stroke-opacity="0.72" stroke-width="0.55"/>
<rect x="480.90" y="490.81" width="16.4" height="0.78" fill="#c4dc76" stroke="#000" stroke-opacity="0.72" stroke-width="0.55"/>
<rect x="480.90" y="489.80" width="16.4" height="1.01" fill="#b6e690" stroke="#000" stroke-opacity="0.72" stroke-width="0.55"/>
<rect x="480.90" y="489.80" width="16.4" height="11.20" fill="none" stroke="#555" stroke-width="0.7"/>
<rect x="501.23" y="499.65" width="16.4" height="1.35" fill="#8f4a70" stroke="#000" stroke-opacity="0.72" stroke-width="0.55"/>
<rect x="501.23" y="499.10" width="16.4" height="0.55" fill="#c44a8e" stroke="#000" stroke-opacity="0.72" stroke-width="0.55"/>
<rect x="501.23" y="488.86" width="16.4" height="10.25" fill="#d4665a" stroke="#000" stroke-opacity="0.72" stroke-width="0.55"/>
<rect x="501.23" y="486.68" width="16.4" height="2.18" fill="#e58c50" stroke="#000" stroke-opacity="0.72" stroke-width="0.55"/>
<rect x="501.23" y="484.87" width="16.4" height="1.81" fill="#eec060" stroke="#000" stroke-opacity="0.72" stroke-width="0.55"/>
<rect x="501.23" y="482.69" width="16.4" height="2.18" fill="#74f46c" stroke="#000" stroke-opacity="0.72" stroke-width="0.55"/>
<rect x="501.23" y="481.16" width="16.4" height="1.53" fill="#c4dc76" stroke="#000" stroke-opacity="0.72" stroke-width="0.55"/>
<rect x="501.23" y="479.20" width="16.4" height="1.96" fill="#b6e690" stroke="#000" stroke-opacity="0.72" stroke-width="0.55"/>
<rect x="501.23" y="479.20" width="16.4" height="21.80" fill="none" stroke="#555" stroke-width="0.7"/>
<rect x="521.56" y="499.74" width="16.4" height="1.26" fill="#8f4a70" stroke="#000" stroke-opacity="0.72" stroke-width="0.55"/>
<rect x="521.56" y="499.23" width="16.4" height="0.51" fill="#c44a8e" stroke="#000" stroke-opacity="0.72" stroke-width="0.55"/>
<rect x="521.56" y="489.69" width="16.4" height="9.54" fill="#d4665a" stroke="#000" stroke-opacity="0.72" stroke-width="0.55"/>
<rect x="521.56" y="487.66" width="16.4" height="2.03" fill="#e58c50" stroke="#000" stroke-opacity="0.72" stroke-width="0.55"/>
<rect x="521.56" y="485.98" width="16.4" height="1.68" fill="#eec060" stroke="#000" stroke-opacity="0.72" stroke-width="0.55"/>
<rect x="521.56" y="483.95" width="16.4" height="2.03" fill="#74f46c" stroke="#000" stroke-opacity="0.72" stroke-width="0.55"/>
<rect x="521.56" y="482.53" width="16.4" height="1.42" fill="#c4dc76" stroke="#000" stroke-opacity="0.72" stroke-width="0.55"/>
<rect x="521.56" y="480.70" width="16.4" height="1.83" fill="#b6e690" stroke="#000" stroke-opacity="0.72" stroke-width="0.55"/>
<rect x="521.56" y="480.70" width="16.4" height="20.30" fill="none" stroke="#555" stroke-width="0.7"/>
<rect x="541.89" y="499.77" width="16.4" height="1.23" fill="#8f4a70" stroke="#000" stroke-opacity="0.72" stroke-width="0.55"/>
<rect x="541.89" y="499.27" width="16.4" height="0.50" fill="#c44a8e" stroke="#000" stroke-opacity="0.72" stroke-width="0.55"/>
<rect x="541.89" y="489.92" width="16.4" height="9.35" fill="#d4665a" stroke="#000" stroke-opacity="0.72" stroke-width="0.55"/>
<rect x="541.89" y="487.93" width="16.4" height="1.99" fill="#e58c50" stroke="#000" stroke-opacity="0.72" stroke-width="0.55"/>
<rect x="541.89" y="486.27" width="16.4" height="1.65" fill="#eec060" stroke="#000" stroke-opacity="0.72" stroke-width="0.55"/>
<rect x="541.89" y="484.28" width="16.4" height="1.99" fill="#74f46c" stroke="#000" stroke-opacity="0.72" stroke-width="0.55"/>
<rect x="541.89" y="482.89" width="16.4" height="1.39" fill="#c4dc76" stroke="#000" stroke-opacity="0.72" stroke-width="0.55"/>
<rect x="541.89" y="481.10" width="16.4" height="1.79" fill="#b6e690" stroke="#000" stroke-opacity="0.72" stroke-width="0.55"/>
<rect x="541.89" y="481.10" width="16.4" height="19.90" fill="none" stroke="#555" stroke-width="0.7"/>
<rect x="562.22" y="499.13" width="16.4" height="1.87" fill="#8f4a70" stroke="#000" stroke-opacity="0.72" stroke-width="0.55"/>
<rect x="562.22" y="498.38" width="16.4" height="0.75" fill="#c44a8e" stroke="#000" stroke-opacity="0.72" stroke-width="0.55"/>
<rect x="562.22" y="484.23" width="16.4" height="14.15" fill="#d4665a" stroke="#000" stroke-opacity="0.72" stroke-width="0.55"/>
<rect x="562.22" y="481.22" width="16.4" height="3.01" fill="#e58c50" stroke="#000" stroke-opacity="0.72" stroke-width="0.55"/>
<rect x="562.22" y="478.73" width="16.4" height="2.50" fill="#eec060" stroke="#000" stroke-opacity="0.72" stroke-width="0.55"/>
<rect x="562.22" y="475.72" width="16.4" height="3.01" fill="#74f46c" stroke="#000" stroke-opacity="0.72" stroke-width="0.55"/>
<rect x="562.22" y="473.61" width="16.4" height="2.11" fill="#c4dc76" stroke="#000" stroke-opacity="0.72" stroke-width="0.55"/>
<rect x="562.22" y="470.90" width="16.4" height="2.71" fill="#b6e690" stroke="#000" stroke-opacity="0.72" stroke-width="0.55"/>
<rect x="562.22" y="470.90" width="16.4" height="30.10" fill="none" stroke="#555" stroke-width="0.7"/>
<rect x="582.55" y="500.32" width="16.4" height="0.68" fill="#8f4a70" stroke="#000" stroke-opacity="0.72" stroke-width="0.55"/>
<rect x="582.55" y="500.04" width="16.4" height="0.28" fill="#c44a8e" stroke="#000" stroke-opacity="0.72" stroke-width="0.55"/>
<rect x="582.55" y="494.87" width="16.4" height="5.17" fill="#d4665a" stroke="#000" stroke-opacity="0.72" stroke-width="0.55"/>
<rect x="582.55" y="493.77" width="16.4" height="1.10" fill="#e58c50" stroke="#000" stroke-opacity="0.72" stroke-width="0.55"/>
<rect x="582.55" y="492.86" width="16.4" height="0.91" fill="#eec060" stroke="#000" stroke-opacity="0.72" stroke-width="0.55"/>
<rect x="582.55" y="491.76" width="16.4" height="1.10" fill="#74f46c" stroke="#000" stroke-opacity="0.72" stroke-width="0.55"/>
<rect x="582.55" y="490.99" width="16.4" height="0.77" fill="#c4dc76" stroke="#000" stroke-opacity="0.72" stroke-width="0.55"/>
<rect x="582.55" y="490.00" width="16.4" height="0.99" fill="#b6e690" stroke="#000" stroke-opacity="0.72" stroke-width="0.55"/>
<rect x="582.55" y="490.00" width="16.4" height="11.00" fill="none" stroke="#555" stroke-width="0.7"/>
<rect x="602.88" y="500.13" width="16.4" height="0.87" fill="#8f4a70" stroke="#000" stroke-opacity="0.72" stroke-width="0.55"/>
<rect x="602.88" y="499.78" width="16.4" height="0.35" fill="#c44a8e" stroke="#000" stroke-opacity="0.72" stroke-width="0.55"/>
<rect x="602.88" y="493.20" width="16.4" height="6.58" fill="#d4665a" stroke="#000" stroke-opacity="0.72" stroke-width="0.55"/>
<rect x="602.88" y="491.80" width="16.4" height="1.40" fill="#e58c50" stroke="#000" stroke-opacity="0.72" stroke-width="0.55"/>
<rect x="602.88" y="490.64" width="16.4" height="1.16" fill="#eec060" stroke="#000" stroke-opacity="0.72" stroke-width="0.55"/>
<rect x="602.88" y="489.24" width="16.4" height="1.40" fill="#74f46c" stroke="#000" stroke-opacity="0.72" stroke-width="0.55"/>
<rect x="602.88" y="488.26" width="16.4" height="0.98" fill="#c4dc76" stroke="#000" stroke-opacity="0.72" stroke-width="0.55"/>
<rect x="602.88" y="487.00" width="16.4" height="1.26" fill="#b6e690" stroke="#000" stroke-opacity="0.72" stroke-width="0.55"/>
<rect x="602.88" y="487.00" width="16.4" height="14.00" fill="none" stroke="#555" stroke-width="0.7"/>
<rect x="623.21" y="500.55" width="16.4" height="0.45" fill="#8f4a70" stroke="#000" stroke-opacity="0.72" stroke-width="0.55"/>
<rect x="623.21" y="500.36" width="16.4" height="0.18" fill="#c44a8e" stroke="#000" stroke-opacity="0.72" stroke-width="0.55"/>
<rect x="623.21" y="496.93" width="16.4" height="3.43" fill="#d4665a" stroke="#000" stroke-opacity="0.72" stroke-width="0.55"/>
<rect x="623.21" y="496.20" width="16.4" height="0.73" fill="#e58c50" stroke="#000" stroke-opacity="0.72" stroke-width="0.55"/>
<rect x="623.21" y="495.60" width="16.4" height="0.61" fill="#eec060" stroke="#000" stroke-opacity="0.72" stroke-width="0.55"/>
<rect x="623.21" y="494.87" width="16.4" height="0.73" fill="#74f46c" stroke="#000" stroke-opacity="0.72" stroke-width="0.55"/>
<rect x="623.21" y="494.36" width="16.4" height="0.51" fill="#c4dc76" stroke="#000" stroke-opacity="0.72" stroke-width="0.55"/>
<rect x="623.21" y="493.70" width="16.4" height="0.66" fill="#b6e690" stroke="#000" stroke-opacity="0.72" stroke-width="0.55"/>
<rect x="623.21" y="493.70" width="16.4" height="7.30" fill="none" stroke="#555" stroke-width="0.7"/>
<rect x="643.54" y="500.57" width="16.4" height="0.43" fill="#8f4a70" stroke="#000" stroke-opacity="0.72" stroke-width="0.55"/>
<rect x="643.54" y="500.39" width="16.4" height="0.18" fill="#c44a8e" stroke="#000" stroke-opacity="0.72" stroke-width="0.55"/>
<rect x="643.54" y="497.10" width="16.4" height="3.29" fill="#d4665a" stroke="#000" stroke-opacity="0.72" stroke-width="0.55"/>
<rect x="643.54" y="496.40" width="16.4" height="0.70" fill="#e58c50" stroke="#000" stroke-opacity="0.72" stroke-width="0.55"/>
<rect x="643.54" y="495.82" width="16.4" height="0.58" fill="#eec060" stroke="#000" stroke-opacity="0.72" stroke-width="0.55"/>
<rect x="643.54" y="495.12" width="16.4" height="0.70" fill="#74f46c" stroke="#000" stroke-opacity="0.72" stroke-width="0.55"/>
<rect x="643.54" y="494.63" width="16.4" height="0.49" fill="#c4dc76" stroke="#000" stroke-opacity="0.72" stroke-width="0.55"/>
<rect x="643.54" y="494.00" width="16.4" height="0.63" fill="#b6e690" stroke="#000" stroke-opacity="0.72" stroke-width="0.55"/>
<rect x="643.54" y="494.00" width="16.4" height="7.00" fill="none" stroke="#555" stroke-width="0.7"/>
<rect x="663.87" y="500.29" width="16.4" height="0.71" fill="#8f4a70" stroke="#000" stroke-opacity="0.72" stroke-width="0.55"/>
<rect x="663.87" y="500.00" width="16.4" height="0.29" fill="#c44a8e" stroke="#000" stroke-opacity="0.72" stroke-width="0.55"/>
<rect x="663.87" y="494.59" width="16.4" height="5.40" fill="#d4665a" stroke="#000" stroke-opacity="0.72" stroke-width="0.55"/>
<rect x="663.87" y="493.44" width="16.4" height="1.15" fill="#e58c50" stroke="#000" stroke-opacity="0.72" stroke-width="0.55"/>
<rect x="663.87" y="492.49" width="16.4" height="0.95" fill="#eec060" stroke="#000" stroke-opacity="0.72" stroke-width="0.55"/>
<rect x="663.87" y="491.34" width="16.4" height="1.15" fill="#74f46c" stroke="#000" stroke-opacity="0.72" stroke-width="0.55"/>
<rect x="663.87" y="490.54" width="16.4" height="0.81" fill="#c4dc76" stroke="#000" stroke-opacity="0.72" stroke-width="0.55"/>
<rect x="663.87" y="489.50" width="16.4" height="1.03" fill="#b6e690" stroke="#000" stroke-opacity="0.72" stroke-width="0.55"/>
<rect x="663.87" y="489.50" width="16.4" height="11.50" fill="none" stroke="#555" stroke-width="0.7"/>
<path d="M72.5,501.5 L72.5,259.5 L682.5,259.5 L682.5,501.5" fill="none" stroke="#333" stroke-width="1"/>
<line x1="72.5" y1="501.5" x2="683.0" y2="501.5" stroke="#7a7a7a" stroke-width="1"/>
<line x1="72.5" y1="501.00" x2="75.5" y2="501.00" stroke="#333" stroke-width="0.8"/>
<text x="70.0" y="506.10" font-size="12.2" font-weight="bold" text-anchor="end" fill="#111" font-family="Liberation Sans, sans-serif">0.0</text>
<line x1="72.5" y1="463.74" x2="75.5" y2="463.74" stroke="#333" stroke-width="0.8"/>
<text x="70.0" y="468.84" font-size="12.2" font-weight="bold" text-anchor="end" fill="#111" font-family="Liberation Sans, sans-serif">2.0×10<tspan font-size="7.2" dy="-5.4">9</tspan></text>
<line x1="72.5" y1="426.48" x2="75.5" y2="426.48" stroke="#333" stroke-width="0.8"/>
<text x="70.0" y="431.58" font-size="12.2" font-weight="bold" text-anchor="end" fill="#111" font-family="Liberation Sans, sans-serif">4.0×10<tspan font-size="7.2" dy="-5.4">9</tspan></text>
<line x1="72.5" y1="389.22" x2="75.5" y2="389.22" stroke="#333" stroke-width="0.8"/>
<text x="70.0" y="394.32" font-size="12.2" font-weight="bold" text-anchor="end" fill="#111" font-family="Liberation Sans, sans-serif">6.0×10<tspan font-size="7.2" dy="-5.4">9</tspan></text>
<line x1="72.5" y1="351.96" x2="75.5" y2="351.96" stroke="#333" stroke-width="0.8"/>
<text x="70.0" y="357.06" font-size="12.2" font-weight="bold" text-anchor="end" fill="#111" font-family="Liberation Sans, sans-serif">8.0×10<tspan font-size="7.2" dy="-5.4">9</tspan></text>
<line x1="72.5" y1="314.70" x2="75.5" y2="314.70" stroke="#333" stroke-width="0.8"/>
<text x="70.0" y="319.80" font-size="12.2" font-weight="bold" text-anchor="end" fill="#111" font-family="Liberation Sans, sans-serif">1.0×10<tspan font-size="7.2" dy="-5.4">10</tspan></text>
<line x1="72.5" y1="277.44" x2="75.5" y2="277.44" stroke="#333" stroke-width="0.8"/>
<text x="70.0" y="282.54" font-size="12.2" font-weight="bold" text-anchor="end" fill="#111" font-family="Liberation Sans, sans-serif">1.2×10<tspan font-size="7.2" dy="-5.4">10</tspan></text>
<text transform="translate(25.4,382.8) rotate(-90)" font-size="12.8" font-weight="bold" text-anchor="middle" fill="#111" font-family="Liberation Sans, sans-serif">Unit: RMB</text>
<line x1="82.50" y1="501.5" x2="82.50" y2="499.5" stroke="#333" stroke-width="0.7"/>
<text transform="translate(89.50,508.70) rotate(-45)" font-size="10.6" font-weight="bold" text-anchor="end" fill="#111" font-family="Liberation Sans, sans-serif">Ningxia</text>
<line x1="102.83" y1="501.5" x2="102.83" y2="499.5" stroke="#333" stroke-width="0.7"/>
<text transform="translate(109.83,508.70) rotate(-45)" font-size="10.6" font-weight="bold" text-anchor="end" fill="#111" font-family="Liberation Sans, sans-serif">Xizang</text>
<line x1="123.16" y1="501.5" x2="123.16" y2="499.5" stroke="#333" stroke-width="0.7"/>
<text transform="translate(130.16,508.70) rotate(-45)" font-size="10.6" font-weight="bold" text-anchor="end" fill="#111" font-family="Liberation Sans, sans-serif">Inner</text>
<line x1="143.49" y1="501.5" x2="143.49" y2="499.5" stroke="#333" stroke-width="0.7"/>
<text transform="translate(150.49,508.70) rotate(-45)" font-size="10.6" font-weight="bold" text-anchor="end" fill="#111" font-family="Liberation Sans, sans-serif">Jilin</text>
<line x1="163.82" y1="501.5" x2="163.82" y2="499.5" stroke="#333" stroke-width="0.7"/>
<text transform="translate(170.82,508.70) rotate(-45)" font-size="10.6" font-weight="bold" text-anchor="end" fill="#111" font-family="Liberation Sans, sans-serif">Shanxi</text>
<line x1="184.15" y1="501.5" x2="184.15" y2="499.5" stroke="#333" stroke-width="0.7"/>
<text transform="translate(191.15,508.70) rotate(-45)" font-size="10.6" font-weight="bold" text-anchor="end" fill="#111" font-family="Liberation Sans, sans-serif">Heilongjiang</text>
<line x1="204.48" y1="501.5" x2="204.48" y2="499.5" stroke="#333" stroke-width="0.7"/>
<text transform="translate(211.48,508.70) rotate(-45)" font-size="10.6" font-weight="bold" text-anchor="end" fill="#111" font-family="Liberation Sans, sans-serif">Sichuan</text>
<line x1="224.81" y1="501.5" x2="224.81" y2="499.5" stroke="#333" stroke-width="0.7"/>
<text transform="translate(231.81,508.70) rotate(-45)" font-size="10.6" font-weight="bold" text-anchor="end" fill="#111" font-family="Liberation Sans, sans-serif">Gansu</text>
<line x1="245.14" y1="501.5" x2="245.14" y2="499.5" stroke="#333" stroke-width="0.7"/>
<text transform="translate(252.14,508.70) rotate(-45)" font-size="10.6" font-weight="bold" text-anchor="end" fill="#111" font-family="Liberation Sans, sans-serif">Zhejiang</text>
<line x1="265.47" y1="501.5" x2="265.47" y2="499.5" stroke="#333" stroke-width="0.7"/>
<text transform="translate(272.47,508.70) rotate(-45)" font-size="10.6" font-weight="bold" text-anchor="end" fill="#111" font-family="Liberation Sans, sans-serif">Hubei</text>
<line x1="285.80" y1="501.5" x2="285.80" y2="499.5" stroke="#333" stroke-width="0.7"/>
<text transform="translate(292.80,508.70) rotate(-45)" font-size="10.6" font-weight="bold" text-anchor="end" fill="#111" font-family="Liberation Sans, sans-serif">Chongqing</text>
<line x1="306.13" y1="501.5" x2="306.13" y2="499.5" stroke="#333" stroke-width="0.7"/>
<text transform="translate(313.13,508.70) rotate(-45)" font-size="10.6" font-weight="bold" text-anchor="end" fill="#111" font-family="Liberation Sans, sans-serif">Jiangsu</text>
<line x1="326.46" y1="501.5" x2="326.46" y2="499.5" stroke="#333" stroke-width="0.7"/>
<text transform="translate(333.46,508.70) rotate(-45)" font-size="10.6" font-weight="bold" text-anchor="end" fill="#111" font-family="Liberation Sans, sans-serif">Yunnan</text>
<line x1="346.79" y1="501.5" x2="346.79" y2="499.5" stroke="#333" stroke-width="0.7"/>
<text transform="translate(353.79,508.70) rotate(-45)" font-size="10.6" font-weight="bold" text-anchor="end" fill="#111" font-family="Liberation Sans, sans-serif">Hebei</text>
<line x1="367.12" y1="501.5" x2="367.12" y2="499.5" stroke="#333" stroke-width="0.7"/>
<text transform="translate(374.12,508.70) rotate(-45)" font-size="10.6" font-weight="bold" text-anchor="end" fill="#111" font-family="Liberation Sans, sans-serif">Xinjiang</text>
<line x1="387.45" y1="501.5" x2="387.45" y2="499.5" stroke="#333" stroke-width="0.7"/>
<text transform="translate(394.45,508.70) rotate(-45)" font-size="10.6" font-weight="bold" text-anchor="end" fill="#111" font-family="Liberation Sans, sans-serif">Anhui</text>
<line x1="407.78" y1="501.5" x2="407.78" y2="499.5" stroke="#333" stroke-width="0.7"/>
<text transform="translate(414.78,508.70) rotate(-45)" font-size="10.6" font-weight="bold" text-anchor="end" fill="#111" font-family="Liberation Sans, sans-serif">Liaoning</text>
<line x1="428.11" y1="501.5" x2="428.11" y2="499.5" stroke="#333" stroke-width="0.7"/>
<text transform="translate(435.11,508.70) rotate(-45)" font-size="10.6" font-weight="bold" text-anchor="end" fill="#111" font-family="Liberation Sans, sans-serif">Shanghai</text>
<line x1="448.44" y1="501.5" x2="448.44" y2="499.5" stroke="#333" stroke-width="0.7"/>
<text transform="translate(455.44,508.70) rotate(-45)" font-size="10.6" font-weight="bold" text-anchor="end" fill="#111" font-family="Liberation Sans, sans-serif">Shandong</text>
<line x1="468.77" y1="501.5" x2="468.77" y2="499.5" stroke="#333" stroke-width="0.7"/>
<text transform="translate(475.77,508.70) rotate(-45)" font-size="10.6" font-weight="bold" text-anchor="end" fill="#111" font-family="Liberation Sans, sans-serif">Guangdong</text>
<line x1="489.10" y1="501.5" x2="489.10" y2="499.5" stroke="#333" stroke-width="0.7"/>
<text transform="translate(496.10,508.70) rotate(-45)" font-size="10.6" font-weight="bold" text-anchor="end" fill="#111" font-family="Liberation Sans, sans-serif">Guizhou</text>
<line x1="509.43" y1="501.5" x2="509.43" y2="499.5" stroke="#333" stroke-width="0.7"/>
<text transform="translate(516.43,508.70) rotate(-45)" font-size="10.6" font-weight="bold" text-anchor="end" fill="#111" font-family="Liberation Sans, sans-serif">Fujian</text>
<line x1="529.76" y1="501.5" x2="529.76" y2="499.5" stroke="#333" stroke-width="0.7"/>
<text transform="translate(536.76,508.70) rotate(-45)" font-size="10.6" font-weight="bold" text-anchor="end" fill="#111" font-family="Liberation Sans, sans-serif">Hunan</text>
<line x1="550.09" y1="501.5" x2="550.09" y2="499.5" stroke="#333" stroke-width="0.7"/>
<text transform="translate(557.09,508.70) rotate(-45)" font-size="10.6" font-weight="bold" text-anchor="end" fill="#111" font-family="Liberation Sans, sans-serif">Jiangxi</text>
<line x1="570.42" y1="501.5" x2="570.42" y2="499.5" stroke="#333" stroke-width="0.7"/>
<text transform="translate(577.42,508.70) rotate(-45)" font-size="10.6" font-weight="bold" text-anchor="end" fill="#111" font-family="Liberation Sans, sans-serif">Henan</text>
<line x1="590.75" y1="501.5" x2="590.75" y2="499.5" stroke="#333" stroke-width="0.7"/>
<text transform="translate(597.75,508.70) rotate(-45)" font-size="10.6" font-weight="bold" text-anchor="end" fill="#111" font-family="Liberation Sans, sans-serif">Shaanxi</text>
<line x1="611.08" y1="501.5" x2="611.08" y2="499.5" stroke="#333" stroke-width="0.7"/>
<text transform="translate(618.08,508.70) rotate(-45)" font-size="10.6" font-weight="bold" text-anchor="end" fill="#111" font-family="Liberation Sans, sans-serif">Guangxi</text>
<line x1="631.41" y1="501.5" x2="631.41" y2="499.5" stroke="#333" stroke-width="0.7"/>
<text transform="translate(638.41,508.70) rotate(-45)" font-size="10.6" font-weight="bold" text-anchor="end" fill="#111" font-family="Liberation Sans, sans-serif">Hainan</text>
<line x1="651.74" y1="501.5" x2="651.74" y2="499.5" stroke="#333" stroke-width="0.7"/>
<text transform="translate(658.74,508.70) rotate(-45)" font-size="10.6" font-weight="bold" text-anchor="end" fill="#111" font-family="Liberation Sans, sans-serif">Tianjin</text>
<line x1="672.07" y1="501.5" x2="672.07" y2="499.5" stroke="#333" stroke-width="0.7"/>
<text transform="translate(679.07,508.70) rotate(-45)" font-size="10.6" font-weight="bold" text-anchor="end" fill="#111" font-family="Liberation Sans, sans-serif">Beijing</text>
<rect x="533" y="265.50" width="21.2" height="9.7" fill="#b6e690" stroke="#555" stroke-width="0.7"/>
<text x="557.8" y="273.70" font-size="9.6" font-weight="bold" fill="#111" style="stroke:none" font-family="Liberation Sans, sans-serif">Flue gas purification costs</text>
<rect x="533" y="277.25" width="21.2" height="9.7" fill="#c4dc76" stroke="#555" stroke-width="0.7"/>
<text x="557.8" y="285.45" font-size="9.6" font-weight="bold" fill="#111" style="stroke:none" font-family="Liberation Sans, sans-serif">Fly ash treatment costs</text>
<rect x="533" y="289.00" width="21.2" height="9.7" fill="#74f46c" stroke="#555" stroke-width="0.7"/>
<text x="557.8" y="297.20" font-size="9.6" font-weight="bold" fill="#111" style="stroke:none" font-family="Liberation Sans, sans-serif">Leachate treatment costs</text>
<rect x="533" y="300.75" width="21.2" height="9.7" fill="#e2dc66" stroke="#555" stroke-width="0.7"/>
<text x="557.8" y="308.95" font-size="9.6" font-weight="bold" fill="#111" style="stroke:none" font-family="Liberation Sans, sans-serif">Residual value</text>
<rect x="533" y="312.50" width="21.2" height="9.7" fill="#eec060" stroke="#555" stroke-width="0.7"/>
<text x="557.8" y="320.70" font-size="9.6" font-weight="bold" fill="#111" style="stroke:none" font-family="Liberation Sans, sans-serif">Maintenance costs</text>
<rect x="533" y="324.25" width="21.2" height="9.7" fill="#e58c50" stroke="#555" stroke-width="0.7"/>
<text x="557.8" y="332.45" font-size="9.6" font-weight="bold" fill="#111" style="stroke:none" font-family="Liberation Sans, sans-serif">Management costs</text>
<rect x="533" y="336.00" width="21.2" height="9.7" fill="#d4665a" stroke="#555" stroke-width="0.7"/>
<text x="557.8" y="344.20" font-size="9.6" font-weight="bold" fill="#111" style="stroke:none" font-family="Liberation Sans, sans-serif">Capital investment</text>
<rect x="533" y="347.75" width="21.2" height="9.7" fill="#c44a8e" stroke="#555" stroke-width="0.7"/>
<text x="557.8" y="355.95" font-size="9.6" font-weight="bold" fill="#111" style="stroke:none" font-family="Liberation Sans, sans-serif">Water consumption</text>
<rect x="533" y="359.50" width="21.2" height="9.7" fill="#8f4a70" stroke="#555" stroke-width="0.7"/>
<text x="557.8" y="367.70" font-size="9.6" font-weight="bold" fill="#111" style="stroke:none" font-family="Liberation Sans, sans-serif">Electricity consumption</text>
<text x="0" y="269.8" font-size="12.8" font-weight="bold" fill="#111" font-family="Liberation Sans, sans-serif">(b)</text>
<rect x="72.00" y="561.00" width="16.3" height="1.00" fill="#c8e3ec" stroke="#3a3a3a" stroke-width="0.6"/>
<rect x="72.00" y="562.00" width="16.3" height="1.00" fill="#6fa8cf" stroke="#3a3a3a" stroke-width="0.6"/>
<rect x="72.00" y="563.00" width="16.3" height="0.50" fill="#cbf0ae" stroke="#3a3a3a" stroke-width="0.6"/>
<rect x="92.39" y="561.00" width="16.3" height="0.00" fill="#c8e3ec" stroke="#3a3a3a" stroke-width="0.6"/>
<rect x="92.39" y="561.00" width="16.3" height="0.40" fill="#6fa8cf" stroke="#3a3a3a" stroke-width="0.6"/>
<rect x="92.39" y="561.40" width="16.3" height="0.30" fill="#cbf0ae" stroke="#3a3a3a" stroke-width="0.6"/>
<rect x="112.77" y="561.00" width="16.3" height="3.40" fill="#c8e3ec" stroke="#3a3a3a" stroke-width="0.6"/>
<rect x="112.77" y="564.40" width="16.3" height="2.10" fill="#6fa8cf" stroke="#3a3a3a" stroke-width="0.6"/>
<rect x="112.77" y="566.50" width="16.3" height="1.00" fill="#cbf0ae" stroke="#3a3a3a" stroke-width="0.6"/>
<rect x="133.16" y="561.00" width="16.3" height="3.90" fill="#c8e3ec" stroke="#3a3a3a" stroke-width="0.6"/>
<rect x="133.16" y="564.90" width="16.3" height="5.40" fill="#6fa8cf" stroke="#3a3a3a" stroke-width="0.6"/>
<rect x="133.16" y="570.30" width="16.3" height="3.30" fill="#cbf0ae" stroke="#3a3a3a" stroke-width="0.6"/>
<rect x="153.54" y="561.00" width="16.3" height="3.60" fill="#c8e3ec" stroke="#3a3a3a" stroke-width="0.6"/>
<rect x="153.54" y="564.60" width="16.3" height="5.00" fill="#6fa8cf" stroke="#3a3a3a" stroke-width="0.6"/>
<rect x="153.54" y="569.60" width="16.3" height="2.90" fill="#cbf0ae" stroke="#3a3a3a" stroke-width="0.6"/>
<rect x="173.93" y="561.00" width="16.3" height="3.80" fill="#c8e3ec" stroke="#3a3a3a" stroke-width="0.6"/>
<rect x="173.93" y="564.80" width="16.3" height="4.20" fill="#6fa8cf" stroke="#3a3a3a" stroke-width="0.6"/>
<rect x="173.93" y="569.00" width="16.3" height="2.40" fill="#cbf0ae" stroke="#3a3a3a" stroke-width="0.6"/>
<rect x="194.31" y="561.00" width="16.3" height="17.60" fill="#c8e3ec" stroke="#3a3a3a" stroke-width="0.6"/>
<rect x="194.31" y="578.60" width="16.3" height="16.90" fill="#6fa8cf" stroke="#3a3a3a" stroke-width="0.6"/>
<rect x="194.31" y="595.50" width="16.3" height="11.00" fill="#cbf0ae" stroke="#3a3a3a" stroke-width="0.6"/>
<rect x="214.70" y="561.00" width="16.3" height="2.10" fill="#c8e3ec" stroke="#3a3a3a" stroke-width="0.6"/>
<rect x="214.70" y="563.10" width="16.3" height="3.30" fill="#6fa8cf" stroke="#3a3a3a" stroke-width="0.6"/>
<rect x="214.70" y="566.40" width="16.3" height="2.20" fill="#cbf0ae" stroke="#3a3a3a" stroke-width="0.6"/>
<rect x="235.08" y="561.00" width="16.3" height="24.20" fill="#c8e3ec" stroke="#3a3a3a" stroke-width="0.6"/>
<rect x="235.08" y="585.20" width="16.3" height="18.40" fill="#6fa8cf" stroke="#3a3a3a" stroke-width="0.6"/>
<rect x="235.08" y="603.60" width="16.3" height="11.00" fill="#cbf0ae" stroke="#3a3a3a" stroke-width="0.6"/>
<rect x="255.47" y="561.00" width="16.3" height="12.40" fill="#c8e3ec" stroke="#3a3a3a" stroke-width="0.6"/>
<rect x="255.47" y="573.40" width="16.3" height="11.20" fill="#6fa8cf" stroke="#3a3a3a" stroke-width="0.6"/>
<rect x="255.47" y="584.60" width="16.3" height="7.00" fill="#cbf0ae" stroke="#3a3a3a" stroke-width="0.6"/>
<rect x="275.85" y="561.00" width="16.3" height="7.10" fill="#c8e3ec" stroke="#3a3a3a" stroke-width="0.6"/>
<rect x="275.85" y="568.10" width="16.3" height="7.30" fill="#6fa8cf" stroke="#3a3a3a" stroke-width="0.6"/>
<rect x="275.85" y="575.40" width="16.3" height="4.10" fill="#cbf0ae" stroke="#3a3a3a" stroke-width="0.6"/>
<rect x="296.24" y="561.00" width="16.3" height="28.40" fill="#c8e3ec" stroke="#3a3a3a" stroke-width="0.6"/>
<rect x="296.24" y="589.40" width="16.3" height="24.30" fill="#6fa8cf" stroke="#3a3a3a" stroke-width="0.6"/>
<rect x="296.24" y="613.70" width="16.3" height="15.30" fill="#cbf0ae" stroke="#3a3a3a" stroke-width="0.6"/>
<rect x="316.62" y="561.00" width="16.3" height="6.00" fill="#c8e3ec" stroke="#3a3a3a" stroke-width="0.6"/>
<rect x="316.62" y="567.00" width="16.3" height="6.60" fill="#6fa8cf" stroke="#3a3a3a" stroke-width="0.6"/>
<rect x="316.62" y="573.60" width="16.3" height="4.70" fill="#cbf0ae" stroke="#3a3a3a" stroke-width="0.6"/>
<rect x="337.00" y="561.00" width="16.3" height="13.30" fill="#c8e3ec" stroke="#3a3a3a" stroke-width="0.6"/>
<rect x="337.00" y="574.30" width="16.3" height="12.40" fill="#6fa8cf" stroke="#3a3a3a" stroke-width="0.6"/>
<rect x="337.00" y="586.70" width="16.3" height="7.70" fill="#cbf0ae" stroke="#3a3a3a" stroke-width="0.6"/>
<rect x="357.39" y="561.00" width="16.3" height="1.70" fill="#c8e3ec" stroke="#3a3a3a" stroke-width="0.6"/>
<rect x="357.39" y="562.70" width="16.3" height="2.20" fill="#6fa8cf" stroke="#3a3a3a" stroke-width="0.6"/>
<rect x="357.39" y="564.90" width="16.3" height="1.50" fill="#cbf0ae" stroke="#3a3a3a" stroke-width="0.6"/>
<rect x="377.78" y="561.00" width="16.3" height="13.00" fill="#c8e3ec" stroke="#3a3a3a" stroke-width="0.6"/>
<rect x="377.78" y="574.00" width="16.3" height="12.70" fill="#6fa8cf" stroke="#3a3a3a" stroke-width="0.6"/>
<rect x="377.78" y="586.70" width="16.3" height="7.70" fill="#cbf0ae" stroke="#3a3a3a" stroke-width="0.6"/>
<rect x="398.16" y="561.00" width="16.3" height="8.20" fill="#c8e3ec" stroke="#3a3a3a" stroke-width="0.6"/>
<rect x="398.16" y="569.20" width="16.3" height="8.10" fill="#6fa8cf" stroke="#3a3a3a" stroke-width="0.6"/>
<rect x="398.16" y="577.30" width="16.3" height="5.10" fill="#cbf0ae" stroke="#3a3a3a" stroke-width="0.6"/>
<rect x="418.55" y="561.00" width="16.3" height="6.50" fill="#c8e3ec" stroke="#3a3a3a" stroke-width="0.6"/>
<rect x="418.55" y="567.50" width="16.3" height="6.10" fill="#6fa8cf" stroke="#3a3a3a" stroke-width="0.6"/>
<rect x="418.55" y="573.60" width="16.3" height="2.60" fill="#cbf0ae" stroke="#3a3a3a" stroke-width="0.6"/>
<rect x="438.93" y="561.00" width="16.3" height="28.40" fill="#c8e3ec" stroke="#3a3a3a" stroke-width="0.6"/>
<rect x="438.93" y="589.40" width="16.3" height="25.20" fill="#6fa8cf" stroke="#3a3a3a" stroke-width="0.6"/>
<rect x="438.93" y="614.60" width="16.3" height="15.90" fill="#cbf0ae" stroke="#3a3a3a" stroke-width="0.6"/>
<rect x="459.32" y="561.00" width="16.3" height="50.20" fill="#c8e3ec" stroke="#3a3a3a" stroke-width="0.6"/>
<rect x="459.32" y="611.20" width="16.3" height="33.50" fill="#6fa8cf" stroke="#3a3a3a" stroke-width="0.6"/>
<rect x="459.32" y="644.70" width="16.3" height="19.00" fill="#cbf0ae" stroke="#3a3a3a" stroke-width="0.6"/>
<rect x="479.70" y="561.00" width="16.3" height="5.60" fill="#c8e3ec" stroke="#3a3a3a" stroke-width="0.6"/>
<rect x="479.70" y="566.60" width="16.3" height="5.90" fill="#6fa8cf" stroke="#3a3a3a" stroke-width="0.6"/>
<rect x="479.70" y="572.50" width="16.3" height="3.90" fill="#cbf0ae" stroke="#3a3a3a" stroke-width="0.6"/>
<rect x="500.09" y="561.00" width="16.3" height="13.30" fill="#c8e3ec" stroke="#3a3a3a" stroke-width="0.6"/>
<rect x="500.09" y="574.30" width="16.3" height="10.70" fill="#6fa8cf" stroke="#3a3a3a" stroke-width="0.6"/>
<rect x="500.09" y="585.00" width="16.3" height="7.40" fill="#cbf0ae" stroke="#3a3a3a" stroke-width="0.6"/>
<rect x="520.47" y="561.00" width="16.3" height="13.00" fill="#c8e3ec" stroke="#3a3a3a" stroke-width="0.6"/>
<rect x="520.47" y="574.00" width="16.3" height="10.10" fill="#6fa8cf" stroke="#3a3a3a" stroke-width="0.6"/>
<rect x="520.47" y="584.10" width="16.3" height="5.50" fill="#cbf0ae" stroke="#3a3a3a" stroke-width="0.6"/>
<rect x="540.86" y="561.00" width="16.3" height="11.50" fill="#c8e3ec" stroke="#3a3a3a" stroke-width="0.6"/>
<rect x="540.86" y="572.50" width="16.3" height="9.50" fill="#6fa8cf" stroke="#3a3a3a" stroke-width="0.6"/>
<rect x="540.86" y="582.00" width="16.3" height="6.10" fill="#cbf0ae" stroke="#3a3a3a" stroke-width="0.6"/>
<rect x="561.24" y="561.00" width="16.3" height="17.00" fill="#c8e3ec" stroke="#3a3a3a" stroke-width="0.6"/>
<rect x="561.24" y="578.00" width="16.3" height="15.30" fill="#6fa8cf" stroke="#3a3a3a" stroke-width="0.6"/>
<rect x="561.24" y="593.30" width="16.3" height="9.80" fill="#cbf0ae" stroke="#3a3a3a" stroke-width="0.6"/>
<rect x="581.62" y="561.00" width="16.3" height="5.30" fill="#c8e3ec" stroke="#3a3a3a" stroke-width="0.6"/>
<rect x="581.62" y="566.30" width="16.3" height="6.20" fill="#6fa8cf" stroke="#3a3a3a" stroke-width="0.6"/>
<rect x="581.62" y="572.50" width="16.3" height="3.00" fill="#cbf0ae" stroke="#3a3a3a" stroke-width="0.6"/>
<rect x="602.01" y="561.00" width="16.3" height="7.80" fill="#c8e3ec" stroke="#3a3a3a" stroke-width="0.6"/>
<rect x="602.01" y="568.80" width="16.3" height="7.70" fill="#6fa8cf" stroke="#3a3a3a" stroke-width="0.6"/>
<rect x="602.01" y="576.50" width="16.3" height="3.60" fill="#cbf0ae" stroke="#3a3a3a" stroke-width="0.6"/>
<rect x="622.40" y="561.00" width="16.3" height="3.20" fill="#c8e3ec" stroke="#3a3a3a" stroke-width="0.6"/>
<rect x="622.40" y="564.20" width="16.3" height="3.70" fill="#6fa8cf" stroke="#3a3a3a" stroke-width="0.6"/>
<rect x="622.40" y="567.90" width="16.3" height="1.80" fill="#cbf0ae" stroke="#3a3a3a" stroke-width="0.6"/>
<rect x="642.78" y="561.00" width="16.3" height="3.10" fill="#c8e3ec" stroke="#3a3a3a" stroke-width="0.6"/>
<rect x="642.78" y="564.10" width="16.3" height="3.90" fill="#6fa8cf" stroke="#3a3a3a" stroke-width="0.6"/>
<rect x="642.78" y="568.00" width="16.3" height="2.40" fill="#cbf0ae" stroke="#3a3a3a" stroke-width="0.6"/>
<rect x="663.17" y="561.00" width="16.3" height="6.30" fill="#c8e3ec" stroke="#3a3a3a" stroke-width="0.6"/>
<rect x="663.17" y="567.30" width="16.3" height="6.10" fill="#6fa8cf" stroke="#3a3a3a" stroke-width="0.6"/>
<rect x="663.17" y="573.40" width="16.3" height="3.20" fill="#cbf0ae" stroke="#3a3a3a" stroke-width="0.6"/>
<path d="M70.5,560.5 L70.5,802.5 L681.5,802.5 L681.5,560.5" fill="none" stroke="#333" stroke-width="1"/>
<line x1="70.0" y1="560.5" x2="682.0" y2="560.5" stroke="#7a7a7a" stroke-width="1"/>
<text x="66.8" y="565.90" font-size="12.2" font-weight="bold" text-anchor="end" fill="#111" font-family="Liberation Sans, sans-serif">0.0</text>
<line x1="70.5" y1="604.70" x2="73.5" y2="604.70" stroke="#333" stroke-width="0.8"/>
<text x="67.0" y="609.80" font-size="12.2" font-weight="bold" text-anchor="end" fill="#111" font-family="Liberation Sans, sans-serif">-2.0×10<tspan font-size="7.2" dy="-5.4">9</tspan></text>
<line x1="70.5" y1="648.60" x2="73.5" y2="648.60" stroke="#333" stroke-width="0.8"/>
<text x="67.0" y="653.70" font-size="12.2" font-weight="bold" text-anchor="end" fill="#111" font-family="Liberation Sans, sans-serif">-4.0×10<tspan font-size="7.2" dy="-5.4">9</tspan></text>
<line x1="70.5" y1="692.50" x2="73.5" y2="692.50" stroke="#333" stroke-width="0.8"/>
<text x="67.0" y="697.60" font-size="12.2" font-weight="bold" text-anchor="end" fill="#111" font-family="Liberation Sans, sans-serif">-6.0×10<tspan font-size="7.2" dy="-5.4">9</tspan></text>
<line x1="70.5" y1="736.40" x2="73.5" y2="736.40" stroke="#333" stroke-width="0.8"/>
<text x="67.0" y="741.50" font-size="12.2" font-weight="bold" text-anchor="end" fill="#111" font-family="Liberation Sans, sans-serif">-8.0×10<tspan font-size="7.2" dy="-5.4">9</tspan></text>
<line x1="70.5" y1="780.30" x2="73.5" y2="780.30" stroke="#333" stroke-width="0.8"/>
<text x="67.0" y="785.40" font-size="12.2" font-weight="bold" text-anchor="end" fill="#111" font-family="Liberation Sans, sans-serif">-1.0×10<tspan font-size="7.2" dy="-5.4">10</tspan></text>
<text transform="translate(19.3,686) rotate(-90)" font-size="12.8" font-weight="bold" text-anchor="middle" fill="#111" font-family="Liberation Sans, sans-serif">Unit: RMB</text>
<line x1="80.15" y1="802.5" x2="80.15" y2="800.5" stroke="#333" stroke-width="0.7"/>
<text transform="translate(88.45,809.80) rotate(-45)" font-size="11.9" font-weight="bold" text-anchor="end" fill="#111" font-family="Liberation Sans, sans-serif">Ningxia</text>
<line x1="100.54" y1="802.5" x2="100.54" y2="800.5" stroke="#333" stroke-width="0.7"/>
<text transform="translate(108.84,809.80) rotate(-45)" font-size="11.9" font-weight="bold" text-anchor="end" fill="#111" font-family="Liberation Sans, sans-serif">Xizang</text>
<line x1="120.92" y1="802.5" x2="120.92" y2="800.5" stroke="#333" stroke-width="0.7"/>
<text transform="translate(129.22,809.80) rotate(-45)" font-size="11.9" font-weight="bold" text-anchor="end" fill="#111" font-family="Liberation Sans, sans-serif">Inner</text>
<line x1="141.31" y1="802.5" x2="141.31" y2="800.5" stroke="#333" stroke-width="0.7"/>
<text transform="translate(149.61,809.80) rotate(-45)" font-size="11.9" font-weight="bold" text-anchor="end" fill="#111" font-family="Liberation Sans, sans-serif">Jilin</text>
<line x1="161.69" y1="802.5" x2="161.69" y2="800.5" stroke="#333" stroke-width="0.7"/>
<text transform="translate(169.99,809.80) rotate(-45)" font-size="11.9" font-weight="bold" text-anchor="end" fill="#111" font-family="Liberation Sans, sans-serif">Shanxi</text>
<line x1="182.08" y1="802.5" x2="182.08" y2="800.5" stroke="#333" stroke-width="0.7"/>
<text transform="translate(190.38,809.80) rotate(-45)" font-size="11.9" font-weight="bold" text-anchor="end" fill="#111" font-family="Liberation Sans, sans-serif">Heilongjiang</text>
<line x1="202.46" y1="802.5" x2="202.46" y2="800.5" stroke="#333" stroke-width="0.7"/>
<text transform="translate(210.76,809.80) rotate(-45)" font-size="11.9" font-weight="bold" text-anchor="end" fill="#111" font-family="Liberation Sans, sans-serif">Sichuan</text>
<line x1="222.85" y1="802.5" x2="222.85" y2="800.5" stroke="#333" stroke-width="0.7"/>
<text transform="translate(231.15,809.80) rotate(-45)" font-size="11.9" font-weight="bold" text-anchor="end" fill="#111" font-family="Liberation Sans, sans-serif">Gansu</text>
<line x1="243.23" y1="802.5" x2="243.23" y2="800.5" stroke="#333" stroke-width="0.7"/>
<text transform="translate(251.53,809.80) rotate(-45)" font-size="11.9" font-weight="bold" text-anchor="end" fill="#111" font-family="Liberation Sans, sans-serif">Zhejiang</text>
<line x1="263.62" y1="802.5" x2="263.62" y2="800.5" stroke="#333" stroke-width="0.7"/>
<text transform="translate(271.92,809.80) rotate(-45)" font-size="11.9" font-weight="bold" text-anchor="end" fill="#111" font-family="Liberation Sans, sans-serif">Hubei</text>
<line x1="284.00" y1="802.5" x2="284.00" y2="800.5" stroke="#333" stroke-width="0.7"/>
<text transform="translate(292.30,809.80) rotate(-45)" font-size="11.9" font-weight="bold" text-anchor="end" fill="#111" font-family="Liberation Sans, sans-serif">Chongqing</text>
<line x1="304.38" y1="802.5" x2="304.38" y2="800.5" stroke="#333" stroke-width="0.7"/>
<text transform="translate(312.69,809.80) rotate(-45)" font-size="11.9" font-weight="bold" text-anchor="end" fill="#111" font-family="Liberation Sans, sans-serif">Jiangsu</text>
<line x1="324.77" y1="802.5" x2="324.77" y2="800.5" stroke="#333" stroke-width="0.7"/>
<text transform="translate(333.07,809.80) rotate(-45)" font-size="11.9" font-weight="bold" text-anchor="end" fill="#111" font-family="Liberation Sans, sans-serif">Yunnan</text>
<line x1="345.15" y1="802.5" x2="345.15" y2="800.5" stroke="#333" stroke-width="0.7"/>
<text transform="translate(353.45,809.80) rotate(-45)" font-size="11.9" font-weight="bold" text-anchor="end" fill="#111" font-family="Liberation Sans, sans-serif">Hebei</text>
<line x1="365.54" y1="802.5" x2="365.54" y2="800.5" stroke="#333" stroke-width="0.7"/>
<text transform="translate(373.84,809.80) rotate(-45)" font-size="11.9" font-weight="bold" text-anchor="end" fill="#111" font-family="Liberation Sans, sans-serif">Xinjiang</text>
<line x1="385.93" y1="802.5" x2="385.93" y2="800.5" stroke="#333" stroke-width="0.7"/>
<text transform="translate(394.23,809.80) rotate(-45)" font-size="11.9" font-weight="bold" text-anchor="end" fill="#111" font-family="Liberation Sans, sans-serif">Anhui</text>
<line x1="406.31" y1="802.5" x2="406.31" y2="800.5" stroke="#333" stroke-width="0.7"/>
<text transform="translate(414.61,809.80) rotate(-45)" font-size="11.9" font-weight="bold" text-anchor="end" fill="#111" font-family="Liberation Sans, sans-serif">Liaoning</text>
<line x1="426.69" y1="802.5" x2="426.69" y2="800.5" stroke="#333" stroke-width="0.7"/>
<text transform="translate(435.00,809.80) rotate(-45)" font-size="11.9" font-weight="bold" text-anchor="end" fill="#111" font-family="Liberation Sans, sans-serif">Shanghai</text>
<line x1="447.08" y1="802.5" x2="447.08" y2="800.5" stroke="#333" stroke-width="0.7"/>
<text transform="translate(455.38,809.80) rotate(-45)" font-size="11.9" font-weight="bold" text-anchor="end" fill="#111" font-family="Liberation Sans, sans-serif">Shandong</text>
<line x1="467.47" y1="802.5" x2="467.47" y2="800.5" stroke="#333" stroke-width="0.7"/>
<text transform="translate(475.77,809.80) rotate(-45)" font-size="11.9" font-weight="bold" text-anchor="end" fill="#111" font-family="Liberation Sans, sans-serif">Guangdong</text>
<line x1="487.85" y1="802.5" x2="487.85" y2="800.5" stroke="#333" stroke-width="0.7"/>
<text transform="translate(496.15,809.80) rotate(-45)" font-size="11.9" font-weight="bold" text-anchor="end" fill="#111" font-family="Liberation Sans, sans-serif">Guizhou</text>
<line x1="508.24" y1="802.5" x2="508.24" y2="800.5" stroke="#333" stroke-width="0.7"/>
<text transform="translate(516.53,809.80) rotate(-45)" font-size="11.9" font-weight="bold" text-anchor="end" fill="#111" font-family="Liberation Sans, sans-serif">Fujian</text>
<line x1="528.62" y1="802.5" x2="528.62" y2="800.5" stroke="#333" stroke-width="0.7"/>
<text transform="translate(536.92,809.80) rotate(-45)" font-size="11.9" font-weight="bold" text-anchor="end" fill="#111" font-family="Liberation Sans, sans-serif">Hunan</text>
<line x1="549.00" y1="802.5" x2="549.00" y2="800.5" stroke="#333" stroke-width="0.7"/>
<text transform="translate(557.30,809.80) rotate(-45)" font-size="11.9" font-weight="bold" text-anchor="end" fill="#111" font-family="Liberation Sans, sans-serif">Jiangxi</text>
<line x1="569.39" y1="802.5" x2="569.39" y2="800.5" stroke="#333" stroke-width="0.7"/>
<text transform="translate(577.69,809.80) rotate(-45)" font-size="11.9" font-weight="bold" text-anchor="end" fill="#111" font-family="Liberation Sans, sans-serif">Henan</text>
<line x1="589.77" y1="802.5" x2="589.77" y2="800.5" stroke="#333" stroke-width="0.7"/>
<text transform="translate(598.07,809.80) rotate(-45)" font-size="11.9" font-weight="bold" text-anchor="end" fill="#111" font-family="Liberation Sans, sans-serif">Shaanxi</text>
<line x1="610.16" y1="802.5" x2="610.16" y2="800.5" stroke="#333" stroke-width="0.7"/>
<text transform="translate(618.46,809.80) rotate(-45)" font-size="11.9" font-weight="bold" text-anchor="end" fill="#111" font-family="Liberation Sans, sans-serif">Guangxi</text>
<line x1="630.55" y1="802.5" x2="630.55" y2="800.5" stroke="#333" stroke-width="0.7"/>
<text transform="translate(638.85,809.80) rotate(-45)" font-size="11.9" font-weight="bold" text-anchor="end" fill="#111" font-family="Liberation Sans, sans-serif">Hainan</text>
<line x1="650.93" y1="802.5" x2="650.93" y2="800.5" stroke="#333" stroke-width="0.7"/>
<text transform="translate(659.23,809.80) rotate(-45)" font-size="11.9" font-weight="bold" text-anchor="end" fill="#111" font-family="Liberation Sans, sans-serif">Tianjin</text>
<line x1="671.32" y1="802.5" x2="671.32" y2="800.5" stroke="#333" stroke-width="0.7"/>
<text transform="translate(679.62,809.80) rotate(-45)" font-size="11.9" font-weight="bold" text-anchor="end" fill="#111" font-family="Liberation Sans, sans-serif">Beijing</text>
<rect x="522.8" y="727.80" width="21.6" height="10.2" fill="#cbf0ae" stroke="#555" stroke-width="0.7"/>
<text x="548.2" y="736.20" font-size="9.6" font-weight="bold" fill="#111" style="stroke:none" font-family="Liberation Sans, sans-serif">Bottom slag treatment costs</text>
<rect x="522.8" y="739.65" width="21.6" height="10.2" fill="#6fa8cf" stroke="#555" stroke-width="0.7"/>
<text x="548.2" y="748.05" font-size="9.6" font-weight="bold" fill="#111" style="stroke:none" font-family="Liberation Sans, sans-serif">Waste treatment fee</text>
<rect x="522.8" y="751.50" width="21.6" height="10.2" fill="#c8e3ec" stroke="#555" stroke-width="0.7"/>
<text x="548.2" y="759.90" font-size="9.6" font-weight="bold" fill="#111" style="stroke:none" font-family="Liberation Sans, sans-serif">Electricity production</text>
<text x="2.6" y="571" font-size="12.8" font-weight="bold" fill="#111" font-family="Liberation Sans, sans-serif">(c)</text>
</svg>
</body></html>
